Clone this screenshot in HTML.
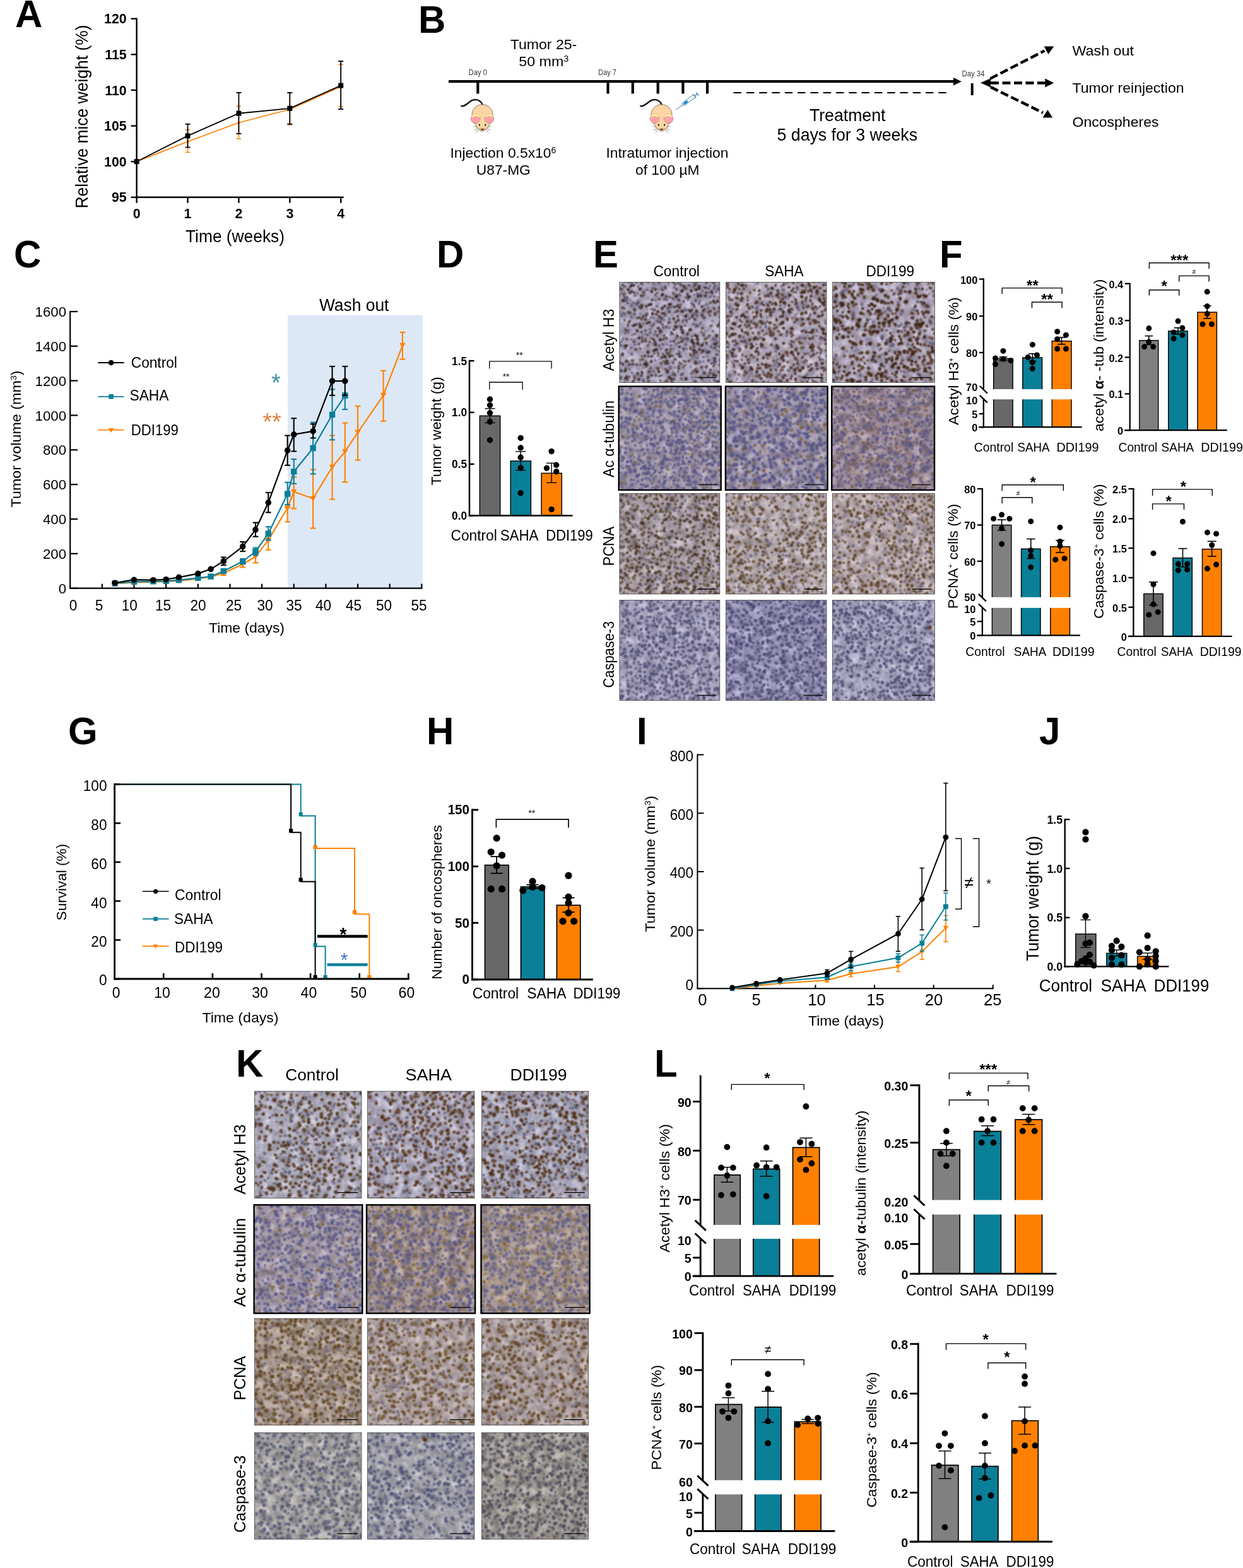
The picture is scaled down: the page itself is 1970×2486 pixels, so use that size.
<!DOCTYPE html>
<html><head><meta charset="utf-8"><title>Figure</title>
<style>
html,body{margin:0;padding:0;background:#fff;}
body{width:1970px;height:2486px;overflow:hidden;font-family:'Liberation Sans', sans-serif;}
svg{display:block;}
svg text{font-family:"Liberation Sans", sans-serif;white-space:pre;}
</style></head><body>
<svg width="1970" height="2486" viewBox="0 0 1970 2486">
<rect width="1970" height="2486" fill="#fff"/>
<text x="24" y="43" font-size="61.8" font-weight="bold" textLength="43.33" lengthAdjust="spacingAndGlyphs">A</text>
<text x="663" y="52" font-size="61.8" font-weight="bold" textLength="43.33" lengthAdjust="spacingAndGlyphs">B</text>
<text x="22" y="424" font-size="61.8" font-weight="bold" textLength="43.33" lengthAdjust="spacingAndGlyphs">C</text>
<text x="692" y="424" font-size="61.8" font-weight="bold" textLength="43.33" lengthAdjust="spacingAndGlyphs">D</text>
<text x="940" y="424" font-size="61.8" font-weight="bold" textLength="40.02" lengthAdjust="spacingAndGlyphs">E</text>
<text x="1489" y="424" font-size="61.8" font-weight="bold" textLength="36.65" lengthAdjust="spacingAndGlyphs">F</text>
<text x="108" y="1179.5" font-size="61.8" font-weight="bold" textLength="46.67" lengthAdjust="spacingAndGlyphs">G</text>
<text x="676" y="1180" font-size="61.8" font-weight="bold" textLength="43.33" lengthAdjust="spacingAndGlyphs">H</text>
<text x="1009" y="1179.5" font-size="61.8" font-weight="bold" textLength="16.67" lengthAdjust="spacingAndGlyphs">I</text>
<text x="1647" y="1179.5" font-size="61.8" font-weight="bold" textLength="33.37" lengthAdjust="spacingAndGlyphs">J</text>
<text x="374" y="1707" font-size="61.8" font-weight="bold" textLength="43.33" lengthAdjust="spacingAndGlyphs">K</text>
<text x="1037" y="1706.5" font-size="61.8" font-weight="bold" textLength="36.65" lengthAdjust="spacingAndGlyphs">L</text>
<line x1="297.5" y1="241.46" x2="297.5" y2="205.79" stroke="#FF8000" stroke-width="1.5" stroke-linecap="butt"/>
<line x1="293.7" y1="241.46" x2="301.3" y2="241.46" stroke="#FF8000" stroke-width="1.5" stroke-linecap="butt"/>
<line x1="293.7" y1="205.79" x2="301.3" y2="205.79" stroke="#FF8000" stroke-width="1.5" stroke-linecap="butt"/>
<line x1="378.4" y1="219.94" x2="378.4" y2="168.42" stroke="#FF8000" stroke-width="1.5" stroke-linecap="butt"/>
<line x1="374.6" y1="219.94" x2="382.2" y2="219.94" stroke="#FF8000" stroke-width="1.5" stroke-linecap="butt"/>
<line x1="374.6" y1="168.42" x2="382.2" y2="168.42" stroke="#FF8000" stroke-width="1.5" stroke-linecap="butt"/>
<line x1="459.3" y1="197.86" x2="459.3" y2="147.47" stroke="#FF8000" stroke-width="1.5" stroke-linecap="butt"/>
<line x1="455.5" y1="197.86" x2="463.1" y2="197.86" stroke="#FF8000" stroke-width="1.5" stroke-linecap="butt"/>
<line x1="455.5" y1="147.47" x2="463.1" y2="147.47" stroke="#FF8000" stroke-width="1.5" stroke-linecap="butt"/>
<line x1="540.2" y1="168.99" x2="540.2" y2="102.17" stroke="#FF8000" stroke-width="1.5" stroke-linecap="butt"/>
<line x1="536.4" y1="168.99" x2="544" y2="168.99" stroke="#FF8000" stroke-width="1.5" stroke-linecap="butt"/>
<line x1="536.4" y1="102.17" x2="544" y2="102.17" stroke="#FF8000" stroke-width="1.5" stroke-linecap="butt"/>
<polyline points="216.6,256.18 297.5,224.47 378.4,194.46 459.3,173.51 540.2,137.28" fill="none" stroke="#FF8000" stroke-width="1.7" stroke-linejoin="miter" stroke-linecap="butt"/>
<circle cx="216.6" cy="256.18" r="2.2" fill="#FF8000"/>
<circle cx="297.5" cy="224.47" r="2.2" fill="#FF8000"/>
<circle cx="378.4" cy="194.46" r="2.2" fill="#FF8000"/>
<circle cx="459.3" cy="173.51" r="2.2" fill="#FF8000"/>
<circle cx="540.2" cy="137.28" r="2.2" fill="#FF8000"/>
<line x1="297.5" y1="233.53" x2="297.5" y2="196.73" stroke="#000" stroke-width="1.8" stroke-linecap="butt"/>
<line x1="293.5" y1="233.53" x2="301.5" y2="233.53" stroke="#000" stroke-width="1.8" stroke-linecap="butt"/>
<line x1="293.5" y1="196.73" x2="301.5" y2="196.73" stroke="#000" stroke-width="1.8" stroke-linecap="butt"/>
<line x1="378.4" y1="212.02" x2="378.4" y2="146.9" stroke="#000" stroke-width="1.8" stroke-linecap="butt"/>
<line x1="374.4" y1="212.02" x2="382.4" y2="212.02" stroke="#000" stroke-width="1.8" stroke-linecap="butt"/>
<line x1="374.4" y1="146.9" x2="382.4" y2="146.9" stroke="#000" stroke-width="1.8" stroke-linecap="butt"/>
<line x1="459.3" y1="196.73" x2="459.3" y2="146.9" stroke="#000" stroke-width="1.8" stroke-linecap="butt"/>
<line x1="455.3" y1="196.73" x2="463.3" y2="196.73" stroke="#000" stroke-width="1.8" stroke-linecap="butt"/>
<line x1="455.3" y1="146.9" x2="463.3" y2="146.9" stroke="#000" stroke-width="1.8" stroke-linecap="butt"/>
<line x1="540.2" y1="172.95" x2="540.2" y2="97.08" stroke="#000" stroke-width="1.8" stroke-linecap="butt"/>
<line x1="536.2" y1="172.95" x2="544.2" y2="172.95" stroke="#000" stroke-width="1.8" stroke-linecap="butt"/>
<line x1="536.2" y1="97.08" x2="544.2" y2="97.08" stroke="#000" stroke-width="1.8" stroke-linecap="butt"/>
<polyline points="216.6,256.18 297.5,215.41 378.4,179.74 459.3,171.82 540.2,135.58" fill="none" stroke="#000" stroke-width="1.8" stroke-linejoin="miter" stroke-linecap="butt"/>
<rect x="212.6" y="252.18" width="8" height="8" fill="#000"/>
<rect x="293.5" y="211.41" width="8" height="8" fill="#000"/>
<rect x="374.4" y="175.74" width="8" height="8" fill="#000"/>
<rect x="455.3" y="167.82" width="8" height="8" fill="#000"/>
<rect x="536.2" y="131.58" width="8" height="8" fill="#000"/>
<line x1="216.6" y1="28.5" x2="216.6" y2="314" stroke="#000" stroke-width="2.4" stroke-linecap="butt"/>
<line x1="215.4" y1="312.8" x2="544.7" y2="312.8" stroke="#000" stroke-width="2.4" stroke-linecap="butt"/>
<line x1="207.6" y1="312.8" x2="216.6" y2="312.8" stroke="#000" stroke-width="2.4" stroke-linecap="butt"/>
<text x="200.6" y="320.4" font-size="21.94" text-anchor="end" font-weight="bold" textLength="23.69" lengthAdjust="spacingAndGlyphs">95</text>
<line x1="207.6" y1="256.18" x2="216.6" y2="256.18" stroke="#000" stroke-width="2.4" stroke-linecap="butt"/>
<text x="200.6" y="263.78" font-size="21.94" text-anchor="end" font-weight="bold" textLength="35.54" lengthAdjust="spacingAndGlyphs">100</text>
<line x1="207.6" y1="199.56" x2="216.6" y2="199.56" stroke="#000" stroke-width="2.4" stroke-linecap="butt"/>
<text x="200.6" y="207.16" font-size="21.94" text-anchor="end" font-weight="bold" textLength="35.54" lengthAdjust="spacingAndGlyphs">105</text>
<line x1="207.6" y1="142.94" x2="216.6" y2="142.94" stroke="#000" stroke-width="2.4" stroke-linecap="butt"/>
<text x="200.6" y="150.54" font-size="21.94" text-anchor="end" font-weight="bold" textLength="34.36" lengthAdjust="spacingAndGlyphs">110</text>
<line x1="207.6" y1="86.32" x2="216.6" y2="86.32" stroke="#000" stroke-width="2.4" stroke-linecap="butt"/>
<text x="200.6" y="93.92" font-size="21.94" text-anchor="end" font-weight="bold" textLength="34.36" lengthAdjust="spacingAndGlyphs">115</text>
<line x1="207.6" y1="29.7" x2="216.6" y2="29.7" stroke="#000" stroke-width="2.4" stroke-linecap="butt"/>
<text x="200.6" y="37.3" font-size="21.94" text-anchor="end" font-weight="bold" textLength="35.54" lengthAdjust="spacingAndGlyphs">120</text>
<line x1="216.6" y1="312.8" x2="216.6" y2="321.8" stroke="#000" stroke-width="2.4" stroke-linecap="butt"/>
<text x="216.6" y="345.5" font-size="21.94" text-anchor="middle" font-weight="bold" textLength="11.85" lengthAdjust="spacingAndGlyphs">0</text>
<line x1="297.5" y1="312.8" x2="297.5" y2="321.8" stroke="#000" stroke-width="2.4" stroke-linecap="butt"/>
<text x="297.5" y="345.5" font-size="21.94" text-anchor="middle" font-weight="bold" textLength="11.85" lengthAdjust="spacingAndGlyphs">1</text>
<line x1="378.4" y1="312.8" x2="378.4" y2="321.8" stroke="#000" stroke-width="2.4" stroke-linecap="butt"/>
<text x="378.4" y="345.5" font-size="21.94" text-anchor="middle" font-weight="bold" textLength="11.85" lengthAdjust="spacingAndGlyphs">2</text>
<line x1="459.3" y1="312.8" x2="459.3" y2="321.8" stroke="#000" stroke-width="2.4" stroke-linecap="butt"/>
<text x="459.3" y="345.5" font-size="21.94" text-anchor="middle" font-weight="bold" textLength="11.85" lengthAdjust="spacingAndGlyphs">3</text>
<line x1="540.2" y1="312.8" x2="540.2" y2="321.8" stroke="#000" stroke-width="2.4" stroke-linecap="butt"/>
<text x="540.2" y="345.5" font-size="21.94" text-anchor="middle" font-weight="bold" textLength="11.85" lengthAdjust="spacingAndGlyphs">4</text>
<text x="139.3" y="185" font-size="27.09" text-anchor="middle" transform="rotate(-90 139.3 185)" textLength="291" lengthAdjust="spacingAndGlyphs">Relative mice weight (%)</text>
<text x="372.5" y="384" font-size="27.09" text-anchor="middle" textLength="157" lengthAdjust="spacingAndGlyphs">Time (weeks)</text>
<line x1="711" y1="129.2" x2="1512" y2="129.2" stroke="#000" stroke-width="4.3" stroke-linecap="butt"/>
<polygon points="1524,129.2 1511,123 1511,135.4" fill="#000" stroke="none" stroke-width="0" stroke-linejoin="miter" stroke-linecap="butt"/>
<line x1="757.3" y1="129.2" x2="757.3" y2="148.5" stroke="#000" stroke-width="4.2" stroke-linecap="butt"/>
<line x1="963.5" y1="129.2" x2="963.5" y2="148.5" stroke="#000" stroke-width="4.2" stroke-linecap="butt"/>
<line x1="1002.8" y1="129.2" x2="1002.8" y2="148.5" stroke="#000" stroke-width="4.2" stroke-linecap="butt"/>
<line x1="1042.7" y1="129.2" x2="1042.7" y2="148.5" stroke="#000" stroke-width="4.2" stroke-linecap="butt"/>
<line x1="1082.4" y1="129.2" x2="1082.4" y2="148.5" stroke="#000" stroke-width="4.2" stroke-linecap="butt"/>
<line x1="1121" y1="129.2" x2="1121" y2="148.5" stroke="#000" stroke-width="4.2" stroke-linecap="butt"/>
<line x1="1540.7" y1="132" x2="1540.7" y2="151" stroke="#000" stroke-width="4" stroke-linecap="butt"/>
<line x1="1162.5" y1="147" x2="1500" y2="147" stroke="#000" stroke-width="2.2" stroke-linecap="butt" stroke-dasharray="12.5 7.8"/>
<text x="757.3" y="119.3" font-size="11.85" text-anchor="middle" fill="#383838" textLength="29.5" lengthAdjust="spacingAndGlyphs">Day 0</text>
<text x="962.5" y="119.3" font-size="11.85" text-anchor="middle" fill="#383838" textLength="28.5" lengthAdjust="spacingAndGlyphs">Day 7</text>
<text x="1542.5" y="121.3" font-size="11.85" text-anchor="middle" fill="#383838" textLength="36" lengthAdjust="spacingAndGlyphs">Day 34</text>
<text x="861.5" y="77.8" font-size="22.66" text-anchor="middle" textLength="105.5" lengthAdjust="spacingAndGlyphs">Tumor 25-</text>
<text x="822.3" y="104.8" font-size="22.66" textLength="79" lengthAdjust="spacingAndGlyphs">50 mm<tspan font-size="14" dy="-0.5em">3</tspan></text>
<text x="713.4" y="250" font-size="22.66" textLength="168" lengthAdjust="spacingAndGlyphs">Injection 0.5x10<tspan font-size="14" dy="-0.5em">6</tspan></text>
<text x="797.8" y="277" font-size="22.66" text-anchor="middle" textLength="86" lengthAdjust="spacingAndGlyphs">U87-MG</text>
<text x="1057.5" y="250" font-size="22.66" text-anchor="middle" textLength="194" lengthAdjust="spacingAndGlyphs">Intratumor injection</text>
<text x="1057.8" y="277.3" font-size="22.66" text-anchor="middle" textLength="101.5" lengthAdjust="spacingAndGlyphs">of 100 µM</text>
<text x="1343.2" y="191.5" font-size="27.81" text-anchor="middle" textLength="120.5" lengthAdjust="spacingAndGlyphs">Treatment</text>
<text x="1342.8" y="222.5" font-size="27.81" text-anchor="middle" textLength="222.5" lengthAdjust="spacingAndGlyphs">5 days for 3 weeks</text>
<text x="1699.5" y="87.8" font-size="22.66" textLength="97.5" lengthAdjust="spacingAndGlyphs">Wash out</text>
<text x="1699.5" y="146.8" font-size="22.66" textLength="177" lengthAdjust="spacingAndGlyphs">Tumor reinjection</text>
<text x="1699.5" y="201.2" font-size="22.66" textLength="137" lengthAdjust="spacingAndGlyphs">Oncospheres</text>
<g transform="translate(764.5 182.4)">
<path d="M0.2,-16.5 C-3,-24 -12,-27.5 -20,-21 C-25,-17 -29,-13.5 -33.2,-14.3" fill="none" stroke="#1a1a1a" stroke-width="2.5" stroke-linecap="round"/>
<line x1="-7" y1="20" x2="-14" y2="17.5" stroke="#777" stroke-width="0.8"/>
<line x1="-7.5" y1="21.5" x2="-13" y2="24" stroke="#777" stroke-width="0.8"/>
<line x1="-6.5" y1="23" x2="-9.5" y2="28" stroke="#777" stroke-width="0.8"/>
<line x1="7" y1="20" x2="14" y2="17.5" stroke="#777" stroke-width="0.8"/>
<line x1="7.5" y1="21.5" x2="13" y2="24" stroke="#777" stroke-width="0.8"/>
<line x1="6.5" y1="23" x2="9.5" y2="28" stroke="#777" stroke-width="0.8"/>
<path d="M0,-16.6 C10,-16.6 16.6,-9 16.6,0 C16.6,6 14,11 11.5,14.5 C9,19 5,25.6 0,25.6 C-5,25.6 -9,19 -11.5,14.5 C-14,11 -16.6,6 -16.6,0 C-16.6,-9 -10,-16.6 0,-16.6 Z" fill="#FCD5A5" stroke="#5a4632" stroke-width="0.7"/>
<path d="M-5.5,20.5 C-3,25.6 3,25.6 5.5,20.5 C3,22 -3,22 -5.5,20.5 Z" fill="#b98d5a"/>
<g transform="scale(-1 1)">
<ellipse cx="10.9" cy="5.8" rx="7.4" ry="7.2" fill="#FFA3AA" stroke="#8a5a5a" stroke-width="0.6"/>
<path d="M3.7,4.2 A7.4,7.2 0 0 1 18.1,4.2 C14.5,0.8 8,0.8 3.7,4.2 Z" fill="#FFF59A"/>
<path d="M11.4,13.2 C6,13.2 3,9.5 3.2,5 C4,10.5 7.5,13 11.4,13.2Z" fill="#FCD5A5"/>
<ellipse cx="4.6" cy="15.7" rx="1.05" ry="1.5" fill="#000"/>
</g>
<g transform="scale(1 1)">
<ellipse cx="10.9" cy="5.8" rx="7.4" ry="7.2" fill="#FFA3AA" stroke="#8a5a5a" stroke-width="0.6"/>
<path d="M3.7,4.2 A7.4,7.2 0 0 1 18.1,4.2 C14.5,0.8 8,0.8 3.7,4.2 Z" fill="#FFF59A"/>
<path d="M11.4,13.2 C6,13.2 3,9.5 3.2,5 C4,10.5 7.5,13 11.4,13.2Z" fill="#FCD5A5"/>
<ellipse cx="4.6" cy="15.7" rx="1.05" ry="1.5" fill="#000"/>
</g>
<ellipse cx="0" cy="22.6" rx="1.5" ry="1.1" fill="#000"/>
</g>
<g transform="translate(1048.5 182.4)">
<path d="M0.2,-16.5 C-3,-24 -12,-27.5 -20,-21 C-25,-17 -29,-13.5 -33.2,-14.3" fill="none" stroke="#1a1a1a" stroke-width="2.5" stroke-linecap="round"/>
<line x1="-7" y1="20" x2="-14" y2="17.5" stroke="#777" stroke-width="0.8"/>
<line x1="-7.5" y1="21.5" x2="-13" y2="24" stroke="#777" stroke-width="0.8"/>
<line x1="-6.5" y1="23" x2="-9.5" y2="28" stroke="#777" stroke-width="0.8"/>
<line x1="7" y1="20" x2="14" y2="17.5" stroke="#777" stroke-width="0.8"/>
<line x1="7.5" y1="21.5" x2="13" y2="24" stroke="#777" stroke-width="0.8"/>
<line x1="6.5" y1="23" x2="9.5" y2="28" stroke="#777" stroke-width="0.8"/>
<path d="M0,-16.6 C10,-16.6 16.6,-9 16.6,0 C16.6,6 14,11 11.5,14.5 C9,19 5,25.6 0,25.6 C-5,25.6 -9,19 -11.5,14.5 C-14,11 -16.6,6 -16.6,0 C-16.6,-9 -10,-16.6 0,-16.6 Z" fill="#FCD5A5" stroke="#5a4632" stroke-width="0.7"/>
<path d="M-5.5,20.5 C-3,25.6 3,25.6 5.5,20.5 C3,22 -3,22 -5.5,20.5 Z" fill="#b98d5a"/>
<g transform="scale(-1 1)">
<ellipse cx="10.9" cy="5.8" rx="7.4" ry="7.2" fill="#FFA3AA" stroke="#8a5a5a" stroke-width="0.6"/>
<path d="M3.7,4.2 A7.4,7.2 0 0 1 18.1,4.2 C14.5,0.8 8,0.8 3.7,4.2 Z" fill="#FFF59A"/>
<path d="M11.4,13.2 C6,13.2 3,9.5 3.2,5 C4,10.5 7.5,13 11.4,13.2Z" fill="#FCD5A5"/>
<ellipse cx="4.6" cy="15.7" rx="1.05" ry="1.5" fill="#000"/>
</g>
<g transform="scale(1 1)">
<ellipse cx="10.9" cy="5.8" rx="7.4" ry="7.2" fill="#FFA3AA" stroke="#8a5a5a" stroke-width="0.6"/>
<path d="M3.7,4.2 A7.4,7.2 0 0 1 18.1,4.2 C14.5,0.8 8,0.8 3.7,4.2 Z" fill="#FFF59A"/>
<path d="M11.4,13.2 C6,13.2 3,9.5 3.2,5 C4,10.5 7.5,13 11.4,13.2Z" fill="#FCD5A5"/>
<ellipse cx="4.6" cy="15.7" rx="1.05" ry="1.5" fill="#000"/>
</g>
<ellipse cx="0" cy="22.6" rx="1.5" ry="1.1" fill="#000"/>
</g>
<g transform="translate(1071 174.2) rotate(-36.5)">
<line x1="0" y1="0" x2="12" y2="0" stroke="#3f7ca8" stroke-width="0.9"/>
<rect x="11" y="-1.2" width="3" height="2.4" fill="#fff" stroke="#3f7ca8" stroke-width="0.7"/>
<rect x="14" y="-2.7" width="23" height="5.4" rx="1" fill="#fff" stroke="#3f7ca8" stroke-width="0.9"/>
<rect x="15.5" y="-1.8" width="8" height="3.6" rx="1.6" fill="#1e86d2"/>
<line x1="37" y1="-4.2" x2="37" y2="4.2" stroke="#3f7ca8" stroke-width="1.2"/>
<line x1="37" y1="0" x2="42.5" y2="0" stroke="#3f7ca8" stroke-width="1.3"/>
<line x1="42.5" y1="-3.2" x2="42.5" y2="3.2" stroke="#3f7ca8" stroke-width="1.3"/>
<line x1="26" y1="-0.2" x2="26" y2="2.2" stroke="#7fa6c4" stroke-width="0.5"/>
<line x1="28" y1="-0.2" x2="28" y2="2.2" stroke="#7fa6c4" stroke-width="0.5"/>
<line x1="30" y1="-0.2" x2="30" y2="2.2" stroke="#7fa6c4" stroke-width="0.5"/>
<line x1="32" y1="-0.2" x2="32" y2="2.2" stroke="#7fa6c4" stroke-width="0.5"/>
<line x1="34" y1="-0.2" x2="34" y2="2.2" stroke="#7fa6c4" stroke-width="0.5"/>
</g>
<line x1="1569.5" y1="124.6" x2="1655.5" y2="80.4" stroke="#000" stroke-width="4.4" stroke-linecap="butt" stroke-dasharray="13 5"/>
<line x1="1570" y1="131.5" x2="1657" y2="131.5" stroke="#000" stroke-width="4.4" stroke-linecap="butt" stroke-dasharray="13 5.5"/>
<line x1="1570" y1="138" x2="1653" y2="178.8" stroke="#000" stroke-width="4.4" stroke-linecap="butt" stroke-dasharray="13 5"/>
<polygon points="1654.7,73.4 1670.3,73.4 1661.5,86" fill="#000" stroke="none" stroke-width="0" stroke-linejoin="miter" stroke-linecap="butt"/>
<polygon points="1652.6,186.5 1668.1,186.5 1660.3,174" fill="#000" stroke="none" stroke-width="0" stroke-linejoin="miter" stroke-linecap="butt"/>
<polygon points="1656.3,124.6 1656.3,138.5 1670.2,131.5" fill="#000" stroke="none" stroke-width="0" stroke-linejoin="miter" stroke-linecap="butt"/>
<polygon points="1554,131.2 1570,124.2 1570,138.4" fill="#000" stroke="none" stroke-width="0" stroke-linejoin="miter" stroke-linecap="butt"/>
<rect x="456.1" y="499.5" width="213.8" height="433" fill="#DDE8F6"/>
<text x="561.2" y="492.7" font-size="26.78" text-anchor="middle" textLength="110.5" lengthAdjust="spacingAndGlyphs">Wash out</text>
<line x1="111.2" y1="493" x2="111.2" y2="933.6" stroke="#000" stroke-width="2.2" stroke-linecap="butt"/>
<line x1="110.2" y1="932.6" x2="669.35" y2="932.6" stroke="#000" stroke-width="2.2" stroke-linecap="butt"/>
<text x="105" y="940.8" font-size="22.87" text-anchor="end" textLength="12.35" lengthAdjust="spacingAndGlyphs">0</text>
<line x1="111.2" y1="877.77" x2="123.2" y2="877.77" stroke="#000" stroke-width="2.2" stroke-linecap="butt"/>
<text x="105" y="885.97" font-size="22.87" text-anchor="end" textLength="37.04" lengthAdjust="spacingAndGlyphs">200</text>
<line x1="111.2" y1="822.94" x2="123.2" y2="822.94" stroke="#000" stroke-width="2.2" stroke-linecap="butt"/>
<text x="105" y="831.14" font-size="22.87" text-anchor="end" textLength="37.04" lengthAdjust="spacingAndGlyphs">400</text>
<line x1="111.2" y1="768.11" x2="123.2" y2="768.11" stroke="#000" stroke-width="2.2" stroke-linecap="butt"/>
<text x="105" y="776.31" font-size="22.87" text-anchor="end" textLength="37.04" lengthAdjust="spacingAndGlyphs">600</text>
<line x1="111.2" y1="713.28" x2="123.2" y2="713.28" stroke="#000" stroke-width="2.2" stroke-linecap="butt"/>
<text x="105" y="721.48" font-size="22.87" text-anchor="end" textLength="37.04" lengthAdjust="spacingAndGlyphs">800</text>
<line x1="111.2" y1="658.45" x2="123.2" y2="658.45" stroke="#000" stroke-width="2.2" stroke-linecap="butt"/>
<text x="105" y="666.65" font-size="22.87" text-anchor="end" textLength="49.39" lengthAdjust="spacingAndGlyphs">1000</text>
<line x1="111.2" y1="603.62" x2="123.2" y2="603.62" stroke="#000" stroke-width="2.2" stroke-linecap="butt"/>
<text x="105" y="611.82" font-size="22.87" text-anchor="end" textLength="49.39" lengthAdjust="spacingAndGlyphs">1200</text>
<line x1="111.2" y1="548.79" x2="123.2" y2="548.79" stroke="#000" stroke-width="2.2" stroke-linecap="butt"/>
<text x="105" y="556.99" font-size="22.87" text-anchor="end" textLength="49.39" lengthAdjust="spacingAndGlyphs">1400</text>
<line x1="111.2" y1="493.96" x2="123.2" y2="493.96" stroke="#000" stroke-width="2.2" stroke-linecap="butt"/>
<text x="105" y="502.16" font-size="22.87" text-anchor="end" textLength="49.39" lengthAdjust="spacingAndGlyphs">1600</text>
<line x1="111.2" y1="932.6" x2="123.2" y2="932.6" stroke="#000" stroke-width="2.2" stroke-linecap="butt"/>
<line x1="161.85" y1="932.6" x2="161.85" y2="925.6" stroke="#000" stroke-width="2.2" stroke-linecap="butt"/>
<line x1="212.5" y1="932.6" x2="212.5" y2="925.6" stroke="#000" stroke-width="2.2" stroke-linecap="butt"/>
<line x1="263.15" y1="932.6" x2="263.15" y2="925.6" stroke="#000" stroke-width="2.2" stroke-linecap="butt"/>
<line x1="313.8" y1="932.6" x2="313.8" y2="925.6" stroke="#000" stroke-width="2.2" stroke-linecap="butt"/>
<line x1="364.45" y1="932.6" x2="364.45" y2="925.6" stroke="#000" stroke-width="2.2" stroke-linecap="butt"/>
<line x1="415.1" y1="932.6" x2="415.1" y2="925.6" stroke="#000" stroke-width="2.2" stroke-linecap="butt"/>
<line x1="465.75" y1="932.6" x2="465.75" y2="925.6" stroke="#000" stroke-width="2.2" stroke-linecap="butt"/>
<line x1="516.4" y1="932.6" x2="516.4" y2="925.6" stroke="#000" stroke-width="2.2" stroke-linecap="butt"/>
<line x1="567.05" y1="932.6" x2="567.05" y2="925.6" stroke="#000" stroke-width="2.2" stroke-linecap="butt"/>
<line x1="617.7" y1="932.6" x2="617.7" y2="925.6" stroke="#000" stroke-width="2.2" stroke-linecap="butt"/>
<line x1="668.35" y1="932.6" x2="668.35" y2="925.6" stroke="#000" stroke-width="2.2" stroke-linecap="butt"/>
<text x="116" y="968" font-size="23.28" text-anchor="middle" textLength="12.57" lengthAdjust="spacingAndGlyphs">0</text>
<text x="157" y="968" font-size="23.28" text-anchor="middle" textLength="12.57" lengthAdjust="spacingAndGlyphs">5</text>
<text x="205.3" y="968" font-size="23.28" text-anchor="middle" textLength="25.14" lengthAdjust="spacingAndGlyphs">10</text>
<text x="258.5" y="968" font-size="23.28" text-anchor="middle" textLength="25.14" lengthAdjust="spacingAndGlyphs">15</text>
<text x="314" y="968" font-size="23.28" text-anchor="middle" textLength="25.14" lengthAdjust="spacingAndGlyphs">20</text>
<text x="370.5" y="968" font-size="23.28" text-anchor="middle" textLength="25.14" lengthAdjust="spacingAndGlyphs">25</text>
<text x="420" y="968" font-size="23.28" text-anchor="middle" textLength="25.14" lengthAdjust="spacingAndGlyphs">30</text>
<text x="466" y="968" font-size="23.28" text-anchor="middle" textLength="25.14" lengthAdjust="spacingAndGlyphs">35</text>
<text x="512.5" y="968" font-size="23.28" text-anchor="middle" textLength="25.14" lengthAdjust="spacingAndGlyphs">40</text>
<text x="560.5" y="968" font-size="23.28" text-anchor="middle" textLength="25.14" lengthAdjust="spacingAndGlyphs">45</text>
<text x="608.5" y="968" font-size="23.28" text-anchor="middle" textLength="25.14" lengthAdjust="spacingAndGlyphs">50</text>
<text x="664" y="968" font-size="23.28" text-anchor="middle" textLength="25.14" lengthAdjust="spacingAndGlyphs">55</text>
<text x="33" y="696" font-size="22.66" text-anchor="middle" transform="rotate(-90 33 696)" textLength="217" lengthAdjust="spacingAndGlyphs">Tumor volume (mm<tspan font-size="13.5" dy="-7">3</tspan><tspan dy="7">)</tspan></text>
<text x="391" y="1003" font-size="22.66" text-anchor="middle" textLength="120" lengthAdjust="spacingAndGlyphs">Time (days)</text>
<line x1="155.3" y1="575" x2="196.6" y2="575" stroke="#000" stroke-width="1.8" stroke-linecap="butt"/>
<circle cx="176.1" cy="575" r="4.3" fill="#000"/>
<text x="207.8" y="582.9" font-size="23.28" textLength="73" lengthAdjust="spacingAndGlyphs">Control</text>
<line x1="155.3" y1="628.8" x2="196.6" y2="628.8" stroke="#0C7F99" stroke-width="1.8" stroke-linecap="butt"/>
<rect x="172.3" y="625" width="7.6" height="7.6" fill="#0C7F99"/>
<text x="205.5" y="635.3" font-size="23.28" textLength="62" lengthAdjust="spacingAndGlyphs">SAHA</text>
<line x1="155.3" y1="681.6" x2="196.6" y2="681.6" stroke="#FF8000" stroke-width="1.8" stroke-linecap="butt"/>
<polygon points="171.8,678.66 180.4,678.66 176.1,685.97" fill="#FF8000"/>
<text x="207.8" y="689.9" font-size="23.28" textLength="75" lengthAdjust="spacingAndGlyphs">DDI199</text>
<line x1="354.32" y1="905.5" x2="354.32" y2="912" stroke="#FF8000" stroke-width="2.1" stroke-linecap="butt"/>
<line x1="349.92" y1="905.5" x2="358.72" y2="905.5" stroke="#FF8000" stroke-width="2.1" stroke-linecap="butt"/>
<line x1="349.92" y1="912" x2="358.72" y2="912" stroke="#FF8000" stroke-width="2.1" stroke-linecap="butt"/>
<line x1="384.71" y1="889" x2="384.71" y2="899.5" stroke="#FF8000" stroke-width="2.1" stroke-linecap="butt"/>
<line x1="380.31" y1="889" x2="389.11" y2="889" stroke="#FF8000" stroke-width="2.1" stroke-linecap="butt"/>
<line x1="380.31" y1="899.5" x2="389.11" y2="899.5" stroke="#FF8000" stroke-width="2.1" stroke-linecap="butt"/>
<line x1="404.97" y1="873.4" x2="404.97" y2="892.3" stroke="#FF8000" stroke-width="2.1" stroke-linecap="butt"/>
<line x1="400.57" y1="873.4" x2="409.37" y2="873.4" stroke="#FF8000" stroke-width="2.1" stroke-linecap="butt"/>
<line x1="400.57" y1="892.3" x2="409.37" y2="892.3" stroke="#FF8000" stroke-width="2.1" stroke-linecap="butt"/>
<line x1="425.23" y1="856.4" x2="425.23" y2="871.8" stroke="#FF8000" stroke-width="2.1" stroke-linecap="butt"/>
<line x1="420.83" y1="856.4" x2="429.63" y2="856.4" stroke="#FF8000" stroke-width="2.1" stroke-linecap="butt"/>
<line x1="420.83" y1="871.8" x2="429.63" y2="871.8" stroke="#FF8000" stroke-width="2.1" stroke-linecap="butt"/>
<line x1="455.62" y1="805" x2="455.62" y2="827.3" stroke="#FF8000" stroke-width="2.1" stroke-linecap="butt"/>
<line x1="451.22" y1="805" x2="460.02" y2="805" stroke="#FF8000" stroke-width="2.1" stroke-linecap="butt"/>
<line x1="451.22" y1="827.3" x2="460.02" y2="827.3" stroke="#FF8000" stroke-width="2.1" stroke-linecap="butt"/>
<line x1="465.75" y1="756.4" x2="465.75" y2="806.4" stroke="#FF8000" stroke-width="2.1" stroke-linecap="butt"/>
<line x1="461.35" y1="756.4" x2="470.15" y2="756.4" stroke="#FF8000" stroke-width="2.1" stroke-linecap="butt"/>
<line x1="461.35" y1="806.4" x2="470.15" y2="806.4" stroke="#FF8000" stroke-width="2.1" stroke-linecap="butt"/>
<line x1="496.14" y1="744.5" x2="496.14" y2="837.5" stroke="#FF8000" stroke-width="2.1" stroke-linecap="butt"/>
<line x1="491.74" y1="744.5" x2="500.54" y2="744.5" stroke="#FF8000" stroke-width="2.1" stroke-linecap="butt"/>
<line x1="491.74" y1="837.5" x2="500.54" y2="837.5" stroke="#FF8000" stroke-width="2.1" stroke-linecap="butt"/>
<line x1="526.53" y1="690.5" x2="526.53" y2="791.6" stroke="#FF8000" stroke-width="2.1" stroke-linecap="butt"/>
<line x1="522.13" y1="690.5" x2="530.93" y2="690.5" stroke="#FF8000" stroke-width="2.1" stroke-linecap="butt"/>
<line x1="522.13" y1="791.6" x2="530.93" y2="791.6" stroke="#FF8000" stroke-width="2.1" stroke-linecap="butt"/>
<line x1="546.79" y1="670.5" x2="546.79" y2="764.3" stroke="#FF8000" stroke-width="2.1" stroke-linecap="butt"/>
<line x1="542.39" y1="670.5" x2="551.19" y2="670.5" stroke="#FF8000" stroke-width="2.1" stroke-linecap="butt"/>
<line x1="542.39" y1="764.3" x2="551.19" y2="764.3" stroke="#FF8000" stroke-width="2.1" stroke-linecap="butt"/>
<line x1="567.05" y1="643.9" x2="567.05" y2="729.5" stroke="#FF8000" stroke-width="2.1" stroke-linecap="butt"/>
<line x1="562.65" y1="643.9" x2="571.45" y2="643.9" stroke="#FF8000" stroke-width="2.1" stroke-linecap="butt"/>
<line x1="562.65" y1="729.5" x2="571.45" y2="729.5" stroke="#FF8000" stroke-width="2.1" stroke-linecap="butt"/>
<line x1="607.57" y1="587.7" x2="607.57" y2="667.7" stroke="#FF8000" stroke-width="2.1" stroke-linecap="butt"/>
<line x1="603.17" y1="587.7" x2="611.97" y2="587.7" stroke="#FF8000" stroke-width="2.1" stroke-linecap="butt"/>
<line x1="603.17" y1="667.7" x2="611.97" y2="667.7" stroke="#FF8000" stroke-width="2.1" stroke-linecap="butt"/>
<line x1="637.96" y1="526.8" x2="637.96" y2="569.5" stroke="#FF8000" stroke-width="2.1" stroke-linecap="butt"/>
<line x1="633.56" y1="526.8" x2="642.36" y2="526.8" stroke="#FF8000" stroke-width="2.1" stroke-linecap="butt"/>
<line x1="633.56" y1="569.5" x2="642.36" y2="569.5" stroke="#FF8000" stroke-width="2.1" stroke-linecap="butt"/>
<polyline points="182.11,925.5 212.5,923.3 242.89,922.6 263.15,922 283.41,921 313.8,917.7 334.06,914.5 354.32,908.8 384.71,894.5 404.97,882.5 425.23,856.4 455.62,805.2 465.75,779.5 496.14,790.5 526.53,740.5 546.79,716.1 567.05,685.5 607.57,626.8 637.96,547.7" fill="none" stroke="#FF8000" stroke-width="2.2" stroke-linejoin="round" stroke-linecap="butt"/>
<polygon points="177.31,921.66 186.91,921.66 182.11,929.82" fill="#FF8000"/>
<polygon points="207.7,919.46 217.3,919.46 212.5,927.62" fill="#FF8000"/>
<polygon points="238.09,918.76 247.69,918.76 242.89,926.92" fill="#FF8000"/>
<polygon points="258.35,918.16 267.95,918.16 263.15,926.32" fill="#FF8000"/>
<polygon points="278.61,917.16 288.21,917.16 283.41,925.32" fill="#FF8000"/>
<polygon points="309,913.86 318.6,913.86 313.8,922.02" fill="#FF8000"/>
<polygon points="329.26,910.66 338.86,910.66 334.06,918.82" fill="#FF8000"/>
<polygon points="349.52,904.96 359.12,904.96 354.32,913.12" fill="#FF8000"/>
<polygon points="379.91,890.66 389.51,890.66 384.71,898.82" fill="#FF8000"/>
<polygon points="400.17,878.66 409.77,878.66 404.97,886.82" fill="#FF8000"/>
<polygon points="420.43,852.56 430.03,852.56 425.23,860.72" fill="#FF8000"/>
<polygon points="450.82,801.36 460.42,801.36 455.62,809.52" fill="#FF8000"/>
<polygon points="460.95,775.66 470.55,775.66 465.75,783.82" fill="#FF8000"/>
<polygon points="491.34,786.66 500.94,786.66 496.14,794.82" fill="#FF8000"/>
<polygon points="521.73,736.66 531.33,736.66 526.53,744.82" fill="#FF8000"/>
<polygon points="541.99,712.26 551.59,712.26 546.79,720.42" fill="#FF8000"/>
<polygon points="562.25,681.66 571.85,681.66 567.05,689.82" fill="#FF8000"/>
<polygon points="602.77,622.96 612.37,622.96 607.57,631.12" fill="#FF8000"/>
<polygon points="633.16,543.86 642.76,543.86 637.96,552.02" fill="#FF8000"/>
<line x1="384.71" y1="886" x2="384.71" y2="894" stroke="#0C7F99" stroke-width="2.1" stroke-linecap="butt"/>
<line x1="380.31" y1="886" x2="389.11" y2="886" stroke="#0C7F99" stroke-width="2.1" stroke-linecap="butt"/>
<line x1="380.31" y1="894" x2="389.11" y2="894" stroke="#0C7F99" stroke-width="2.1" stroke-linecap="butt"/>
<line x1="404.97" y1="868.5" x2="404.97" y2="880.5" stroke="#0C7F99" stroke-width="2.1" stroke-linecap="butt"/>
<line x1="400.57" y1="868.5" x2="409.37" y2="868.5" stroke="#0C7F99" stroke-width="2.1" stroke-linecap="butt"/>
<line x1="400.57" y1="880.5" x2="409.37" y2="880.5" stroke="#0C7F99" stroke-width="2.1" stroke-linecap="butt"/>
<line x1="425.23" y1="835.2" x2="425.23" y2="856.4" stroke="#0C7F99" stroke-width="2.1" stroke-linecap="butt"/>
<line x1="420.83" y1="835.2" x2="429.63" y2="835.2" stroke="#0C7F99" stroke-width="2.1" stroke-linecap="butt"/>
<line x1="420.83" y1="856.4" x2="429.63" y2="856.4" stroke="#0C7F99" stroke-width="2.1" stroke-linecap="butt"/>
<line x1="455.62" y1="764.8" x2="455.62" y2="800" stroke="#0C7F99" stroke-width="2.1" stroke-linecap="butt"/>
<line x1="451.22" y1="764.8" x2="460.02" y2="764.8" stroke="#0C7F99" stroke-width="2.1" stroke-linecap="butt"/>
<line x1="451.22" y1="800" x2="460.02" y2="800" stroke="#0C7F99" stroke-width="2.1" stroke-linecap="butt"/>
<line x1="465.75" y1="728" x2="465.75" y2="766.8" stroke="#0C7F99" stroke-width="2.1" stroke-linecap="butt"/>
<line x1="461.35" y1="728" x2="470.15" y2="728" stroke="#0C7F99" stroke-width="2.1" stroke-linecap="butt"/>
<line x1="461.35" y1="766.8" x2="470.15" y2="766.8" stroke="#0C7F99" stroke-width="2.1" stroke-linecap="butt"/>
<line x1="496.14" y1="669.5" x2="496.14" y2="751.4" stroke="#0C7F99" stroke-width="2.1" stroke-linecap="butt"/>
<line x1="491.74" y1="669.5" x2="500.54" y2="669.5" stroke="#0C7F99" stroke-width="2.1" stroke-linecap="butt"/>
<line x1="491.74" y1="751.4" x2="500.54" y2="751.4" stroke="#0C7F99" stroke-width="2.1" stroke-linecap="butt"/>
<line x1="526.53" y1="617.3" x2="526.53" y2="697.3" stroke="#0C7F99" stroke-width="2.1" stroke-linecap="butt"/>
<line x1="522.13" y1="617.3" x2="530.93" y2="617.3" stroke="#0C7F99" stroke-width="2.1" stroke-linecap="butt"/>
<line x1="522.13" y1="697.3" x2="530.93" y2="697.3" stroke="#0C7F99" stroke-width="2.1" stroke-linecap="butt"/>
<line x1="546.79" y1="623.4" x2="546.79" y2="649.1" stroke="#0C7F99" stroke-width="2.1" stroke-linecap="butt"/>
<line x1="542.39" y1="623.4" x2="551.19" y2="623.4" stroke="#0C7F99" stroke-width="2.1" stroke-linecap="butt"/>
<line x1="542.39" y1="649.1" x2="551.19" y2="649.1" stroke="#0C7F99" stroke-width="2.1" stroke-linecap="butt"/>
<polyline points="182.11,925 212.5,922.3 242.89,921.8 263.15,921.3 283.41,919.7 313.8,916.4 334.06,914 354.32,905.5 384.71,890 404.97,874.5 425.23,846.1 455.62,783 465.75,747.7 496.14,710.5 526.53,657.5 546.79,627.3" fill="none" stroke="#0C7F99" stroke-width="2.2" stroke-linejoin="round" stroke-linecap="butt"/>
<rect x="177.41" y="920.3" width="9.4" height="9.4" fill="#0C7F99"/>
<rect x="207.8" y="917.6" width="9.4" height="9.4" fill="#0C7F99"/>
<rect x="238.19" y="917.1" width="9.4" height="9.4" fill="#0C7F99"/>
<rect x="258.45" y="916.6" width="9.4" height="9.4" fill="#0C7F99"/>
<rect x="278.71" y="915" width="9.4" height="9.4" fill="#0C7F99"/>
<rect x="309.1" y="911.7" width="9.4" height="9.4" fill="#0C7F99"/>
<rect x="329.36" y="909.3" width="9.4" height="9.4" fill="#0C7F99"/>
<rect x="349.62" y="900.8" width="9.4" height="9.4" fill="#0C7F99"/>
<rect x="380.01" y="885.3" width="9.4" height="9.4" fill="#0C7F99"/>
<rect x="400.27" y="869.8" width="9.4" height="9.4" fill="#0C7F99"/>
<rect x="420.53" y="841.4" width="9.4" height="9.4" fill="#0C7F99"/>
<rect x="450.92" y="778.3" width="9.4" height="9.4" fill="#0C7F99"/>
<rect x="461.05" y="743" width="9.4" height="9.4" fill="#0C7F99"/>
<rect x="491.44" y="705.8" width="9.4" height="9.4" fill="#0C7F99"/>
<rect x="521.83" y="652.8" width="9.4" height="9.4" fill="#0C7F99"/>
<rect x="542.09" y="622.6" width="9.4" height="9.4" fill="#0C7F99"/>
<line x1="354.32" y1="883.5" x2="354.32" y2="896" stroke="#000" stroke-width="2.1" stroke-linecap="butt"/>
<line x1="349.92" y1="883.5" x2="358.72" y2="883.5" stroke="#000" stroke-width="2.1" stroke-linecap="butt"/>
<line x1="349.92" y1="896" x2="358.72" y2="896" stroke="#000" stroke-width="2.1" stroke-linecap="butt"/>
<line x1="384.71" y1="859.1" x2="384.71" y2="874.1" stroke="#000" stroke-width="2.1" stroke-linecap="butt"/>
<line x1="380.31" y1="859.1" x2="389.11" y2="859.1" stroke="#000" stroke-width="2.1" stroke-linecap="butt"/>
<line x1="380.31" y1="874.1" x2="389.11" y2="874.1" stroke="#000" stroke-width="2.1" stroke-linecap="butt"/>
<line x1="404.97" y1="828.6" x2="404.97" y2="850.7" stroke="#000" stroke-width="2.1" stroke-linecap="butt"/>
<line x1="400.57" y1="828.6" x2="409.37" y2="828.6" stroke="#000" stroke-width="2.1" stroke-linecap="butt"/>
<line x1="400.57" y1="850.7" x2="409.37" y2="850.7" stroke="#000" stroke-width="2.1" stroke-linecap="butt"/>
<line x1="425.23" y1="780.9" x2="425.23" y2="812.5" stroke="#000" stroke-width="2.1" stroke-linecap="butt"/>
<line x1="420.83" y1="780.9" x2="429.63" y2="780.9" stroke="#000" stroke-width="2.1" stroke-linecap="butt"/>
<line x1="420.83" y1="812.5" x2="429.63" y2="812.5" stroke="#000" stroke-width="2.1" stroke-linecap="butt"/>
<line x1="455.62" y1="690.5" x2="455.62" y2="737.7" stroke="#000" stroke-width="2.1" stroke-linecap="butt"/>
<line x1="451.22" y1="690.5" x2="460.02" y2="690.5" stroke="#000" stroke-width="2.1" stroke-linecap="butt"/>
<line x1="451.22" y1="737.7" x2="460.02" y2="737.7" stroke="#000" stroke-width="2.1" stroke-linecap="butt"/>
<line x1="465.75" y1="663.2" x2="465.75" y2="715.5" stroke="#000" stroke-width="2.1" stroke-linecap="butt"/>
<line x1="461.35" y1="663.2" x2="470.15" y2="663.2" stroke="#000" stroke-width="2.1" stroke-linecap="butt"/>
<line x1="461.35" y1="715.5" x2="470.15" y2="715.5" stroke="#000" stroke-width="2.1" stroke-linecap="butt"/>
<line x1="496.14" y1="672.3" x2="496.14" y2="694.5" stroke="#000" stroke-width="2.1" stroke-linecap="butt"/>
<line x1="491.74" y1="672.3" x2="500.54" y2="672.3" stroke="#000" stroke-width="2.1" stroke-linecap="butt"/>
<line x1="491.74" y1="694.5" x2="500.54" y2="694.5" stroke="#000" stroke-width="2.1" stroke-linecap="butt"/>
<line x1="526.53" y1="580.9" x2="526.53" y2="626.8" stroke="#000" stroke-width="2.1" stroke-linecap="butt"/>
<line x1="522.13" y1="580.9" x2="530.93" y2="580.9" stroke="#000" stroke-width="2.1" stroke-linecap="butt"/>
<line x1="522.13" y1="626.8" x2="530.93" y2="626.8" stroke="#000" stroke-width="2.1" stroke-linecap="butt"/>
<line x1="546.79" y1="580.9" x2="546.79" y2="626.8" stroke="#000" stroke-width="2.1" stroke-linecap="butt"/>
<line x1="542.39" y1="580.9" x2="551.19" y2="580.9" stroke="#000" stroke-width="2.1" stroke-linecap="butt"/>
<line x1="542.39" y1="626.8" x2="551.19" y2="626.8" stroke="#000" stroke-width="2.1" stroke-linecap="butt"/>
<polyline points="182.11,924.2 212.5,919.2 242.89,919.7 263.15,918.7 283.41,915.3 313.8,909.4 334.06,902.3 354.32,889.9 384.71,866.6 404.97,839.8 425.23,796.8 455.62,714.1 465.75,688.9 496.14,683.6 526.53,604.1 546.79,604.1" fill="none" stroke="#000" stroke-width="2.2" stroke-linejoin="round" stroke-linecap="butt"/>
<circle cx="182.11" cy="924.2" r="4.8" fill="#000"/>
<circle cx="212.5" cy="919.2" r="4.8" fill="#000"/>
<circle cx="242.89" cy="919.7" r="4.8" fill="#000"/>
<circle cx="263.15" cy="918.7" r="4.8" fill="#000"/>
<circle cx="283.41" cy="915.3" r="4.8" fill="#000"/>
<circle cx="313.8" cy="909.4" r="4.8" fill="#000"/>
<circle cx="334.06" cy="902.3" r="4.8" fill="#000"/>
<circle cx="354.32" cy="889.9" r="4.8" fill="#000"/>
<circle cx="384.71" cy="866.6" r="4.8" fill="#000"/>
<circle cx="404.97" cy="839.8" r="4.8" fill="#000"/>
<circle cx="425.23" cy="796.8" r="4.8" fill="#000"/>
<circle cx="455.62" cy="714.1" r="4.8" fill="#000"/>
<circle cx="465.75" cy="688.9" r="4.8" fill="#000"/>
<circle cx="496.14" cy="683.6" r="4.8" fill="#000"/>
<circle cx="526.53" cy="604.1" r="4.8" fill="#000"/>
<circle cx="546.79" cy="604.1" r="4.8" fill="#000"/>
<text x="437.3" y="619.5" font-size="39.14" text-anchor="middle" fill="#3F8FA6" textLength="14.79" lengthAdjust="spacingAndGlyphs">*</text>
<text x="431" y="681.5" font-size="39.14" text-anchor="middle" fill="#E2813F" textLength="29.57" lengthAdjust="spacingAndGlyphs">**</text>
<rect x="760.3" y="659.3" width="32.4" height="158.1" fill="#686868" stroke="#000" stroke-width="1.45"/>
<rect x="809.2" y="730.9" width="32.2" height="86.5" fill="#0A7F98" stroke="#000" stroke-width="1.45"/>
<rect x="858.1" y="750.3" width="32.2" height="67.1" fill="#FF8000" stroke="#000" stroke-width="1.45"/>
<line x1="744" y1="570.85" x2="744" y2="818.65" stroke="#000" stroke-width="2.5" stroke-linecap="butt"/>
<line x1="742.75" y1="817.4" x2="907.5" y2="817.4" stroke="#000" stroke-width="2.5" stroke-linecap="butt"/>
<line x1="744" y1="572.1" x2="751.5" y2="572.1" stroke="#000" stroke-width="2.5" stroke-linecap="butt"/>
<text x="740" y="578.5" font-size="17.72" text-anchor="end" font-weight="bold" textLength="23.91" lengthAdjust="spacingAndGlyphs">1.5</text>
<line x1="744" y1="653.9" x2="751.5" y2="653.9" stroke="#000" stroke-width="2.5" stroke-linecap="butt"/>
<text x="740" y="660.3" font-size="17.72" text-anchor="end" font-weight="bold" textLength="23.91" lengthAdjust="spacingAndGlyphs">1.0</text>
<line x1="744" y1="735.8" x2="751.5" y2="735.8" stroke="#000" stroke-width="2.5" stroke-linecap="butt"/>
<text x="740" y="742.2" font-size="17.72" text-anchor="end" font-weight="bold" textLength="23.91" lengthAdjust="spacingAndGlyphs">0.5</text>
<line x1="744" y1="817.4" x2="751.5" y2="817.4" stroke="#000" stroke-width="2.5" stroke-linecap="butt"/>
<text x="740" y="823.8" font-size="17.72" text-anchor="end" font-weight="bold" textLength="23.91" lengthAdjust="spacingAndGlyphs">0.0</text>
<line x1="776.5" y1="647.8" x2="776.5" y2="670.4" stroke="#000" stroke-width="1.4" stroke-linecap="butt"/>
<line x1="768.4" y1="647.8" x2="784.6" y2="647.8" stroke="#000" stroke-width="1.4" stroke-linecap="butt"/>
<line x1="768.4" y1="670.4" x2="784.6" y2="670.4" stroke="#000" stroke-width="1.4" stroke-linecap="butt"/>
<line x1="825.2" y1="715.9" x2="825.2" y2="745.6" stroke="#000" stroke-width="1.4" stroke-linecap="butt"/>
<line x1="817.1" y1="715.9" x2="833.3" y2="715.9" stroke="#000" stroke-width="1.4" stroke-linecap="butt"/>
<line x1="817.1" y1="745.6" x2="833.3" y2="745.6" stroke="#000" stroke-width="1.4" stroke-linecap="butt"/>
<line x1="874.1" y1="734.3" x2="874.1" y2="765.3" stroke="#000" stroke-width="1.4" stroke-linecap="butt"/>
<line x1="866" y1="734.3" x2="882.2" y2="734.3" stroke="#000" stroke-width="1.4" stroke-linecap="butt"/>
<line x1="866" y1="765.3" x2="882.2" y2="765.3" stroke="#000" stroke-width="1.4" stroke-linecap="butt"/>
<circle cx="776.5" cy="633" r="4.7" fill="#000"/>
<circle cx="776.5" cy="642.4" r="4.7" fill="#000"/>
<circle cx="776.5" cy="654.7" r="4.7" fill="#000"/>
<circle cx="776.5" cy="668.7" r="4.7" fill="#000"/>
<circle cx="776.5" cy="697.7" r="4.7" fill="#000"/>
<circle cx="825.2" cy="694.5" r="4.7" fill="#000"/>
<circle cx="825.2" cy="710" r="4.7" fill="#000"/>
<circle cx="825.2" cy="725.2" r="4.7" fill="#000"/>
<circle cx="825.2" cy="741.7" r="4.7" fill="#000"/>
<circle cx="825.2" cy="781.8" r="4.7" fill="#000"/>
<circle cx="874.1" cy="715.6" r="4.7" fill="#000"/>
<circle cx="881.7" cy="737.3" r="4.7" fill="#000"/>
<circle cx="866.5" cy="742.2" r="4.7" fill="#000"/>
<circle cx="881.7" cy="747.8" r="4.7" fill="#000"/>
<circle cx="874.1" cy="807.6" r="4.7" fill="#000"/>
<polyline points="775.8,584.4 775.8,572.8 874.1,572.8 874.1,584.4" fill="none" stroke="#000" stroke-width="1.3" stroke-linejoin="miter" stroke-linecap="butt"/>
<text x="823.2" y="567.5" font-size="14.42" text-anchor="middle" textLength="10.9" lengthAdjust="spacingAndGlyphs">**</text>
<polyline points="775.8,617.8 775.8,606 828.1,606 828.1,617.8" fill="none" stroke="#000" stroke-width="1.3" stroke-linejoin="miter" stroke-linecap="butt"/>
<text x="802.1" y="601.5" font-size="14.42" text-anchor="middle" textLength="10.9" lengthAdjust="spacingAndGlyphs">**</text>
<text x="698.8" y="683.4" font-size="22.66" text-anchor="middle" transform="rotate(-90 698.8 683.4)" textLength="172" lengthAdjust="spacingAndGlyphs">Tumor weight (g)</text>
<text x="714.6" y="856.7" font-size="23.28" textLength="73.2" lengthAdjust="spacingAndGlyphs">Control</text>
<text x="792.7" y="856.7" font-size="23.28" textLength="60.8" lengthAdjust="spacingAndGlyphs">SAHA</text>
<text x="865.3" y="856.7" font-size="23.28" textLength="74.4" lengthAdjust="spacingAndGlyphs">DDI199</text>
<defs><filter id="n1" x="0" y="0" width="1" height="1" color-interpolation-filters="sRGB"><feTurbulence type="fractalNoise" baseFrequency="0.07" numOctaves="4" seed="10"/><feColorMatrix type="matrix" values="0.45 -0.03 0 0 0.46 0.45 -0.02 0 0 0.43 0.45 0.05 0 0 0.48 0 0 0 0 1"/></filter><filter id="d1" x="0" y="0" width="1" height="1" color-interpolation-filters="sRGB"><feTurbulence type="fractalNoise" baseFrequency="0.11" numOctaves="2" seed="60" result="t"/><feDisplacementMap in="SourceGraphic" in2="t" scale="4" xChannelSelector="R" yChannelSelector="G"/><feGaussianBlur stdDeviation="1.2"/></filter><clipPath id="c1"><rect width="158.9" height="159.2"/></clipPath></defs>
<g transform="translate(981.9 447.3)"><g clip-path="url(#c1)">
<rect width="158.9" height="159.2" fill="#aaa6bb"/>
<rect width="158.9" height="159.2" filter="url(#n1)"/>
<g fill="none" stroke-linecap="round" filter="url(#d1)">
<path d="M46 0h0M97 3h0M111 -2h0M130 -3h0M150 2h0M30 6h0M72 8h0M120 5h0M170 5h0M52 10h0M68 12h0M86 9h0M147 14h0M57 20h0M60 17h0M85 18h0M95 20h0M143 16h0M79 24h0M84 25h0M150 23h0M162 23h0M52 28h0M102 31h0M121 29h0M144 32h0M12 33h0M167 35h0M87 39h0M95 40h0M110 44h0M115 43h0M135 43h0M140 42h0M167 44h0M18 49h0M68 48h0M71 49h0M79 47h0M88 47h0M104 45h0M3 53h0M43 53h0M150 52h0M29 57h0M106 61h0M38 66h0M55 67h0M65 63h0M89 63h0M116 66h0M74 71h0M87 69h0M121 70h0M156 70h0M42 76h0M48 79h0M82 79h0M87 75h0M147 78h0M71 84h0M84 82h0M102 90h0M-0 96h0M22 95h0M86 94h0M94 96h0M2 100h0M31 99h0M101 106h0M122 111h0M46 117h0M61 117h0M94 127h0M141 124h0M21 130h0M97 130h0M120 129h0M146 129h0M10 137h0M43 134h0M49 136h0M72 138h0M148 134h0M93 142h0M35 148h0M64 149h0M98 147h0M153 148h0M9 153h0M13 154h0M38 156h0M86 154h0M156 157h0M22 160h0M60 163h0M170 159h0" stroke="#3c2a26" stroke-width="3.8"/>
<path d="M27 -1h0M138 -0h0M5 4h0M88 3h0M136 9h0M19 15h0M33 10h0M90 12h0M141 10h0M158 11h0M23 17h0M108 19h0M147 17h0M0 22h0M35 22h0M74 23h0M130 21h0M136 22h0M6 30h0M94 29h0M149 31h0M35 37h0M42 38h0M50 35h0M72 38h0M34 41h0M55 44h0M130 39h0M157 41h0M-2 47h0M133 46h0M144 46h0M38 54h0M58 52h0M85 58h0M13 68h0M15 63h0M25 68h0M31 67h0M44 65h0M78 64h0M158 67h0M62 73h0M98 71h0M131 73h0M98 76h0M113 75h0M91 85h0M120 84h0M54 91h0M70 89h0M108 89h0M41 94h0M114 95h0M112 104h0M170 100h0M59 107h0M74 108h0M4 114h0M76 113h0M118 113h0M40 117h0M51 117h0M95 118h0M51 126h0M110 125h0M150 126h0M5 130h0M15 131h0M165 130h0M2 140h0M29 145h0M113 145h0M143 144h0M157 142h0M51 148h0M88 147h0M150 148h0M2 153h0M82 154h0M106 153h0M130 154h0M164 152h0M39 161h0M71 160h0M83 159h0M87 162h0M162 160h0" stroke="#3c2a26" stroke-width="4.5"/>
<path d="M42 -3h0M85 -2h0M161 0h0M18 6h0M21 5h0M102 7h0M127 7h0M164 6h0M14 11h0M99 14h0M113 14h0M121 12h0M126 10h0M16 17h0M51 15h0M68 20h0M166 16h0M90 22h0M110 23h0M125 21h0M156 30h0M167 31h0M47 36h0M80 35h0M24 44h0M68 41h0M52 50h0M61 47h0M99 46h0M112 46h0M123 46h0M105 54h0M115 54h0M161 56h0M66 57h0M163 61h0M47 64h0M22 69h0M33 71h0M90 71h0M163 70h0M28 76h0M64 78h0M111 76h0M100 80h0M123 86h0M154 85h0M31 88h0M65 91h0M115 92h0M124 91h0M162 90h0M99 94h0M117 97h0M124 97h0M152 98h0M10 101h0M57 99h0M95 103h0M124 99h0M131 100h0M55 108h0M118 108h0M132 109h0M45 111h0M142 111h0M164 112h0M167 113h0M72 118h0M80 117h0M151 121h0M1 127h0M11 126h0M75 124h0M85 128h0M40 129h0M44 130h0M9 140h0M36 143h0M62 142h0M75 141h0M123 142h0M135 144h0M11 150h0M45 151h0M79 150h0M31 155h0M8 161h0M156 159h0" stroke="#3c2a26" stroke-width="5.3"/>
<path d="M53 1h0M93 2h0M119 1h0M97 5h0M117 8h0M151 7h0M44 12h0M73 10h0M132 14h0M39 21h0M105 25h0M57 30h0M113 32h0M127 30h0M97 36h0M9 41h0M51 42h0M33 50h0M49 55h0M73 52h0M8 61h0M111 58h0M121 67h0M145 68h0M9 74h0M104 69h0M130 79h0M9 81h0M24 82h0M45 84h0M115 85h0M19 91h0M25 91h0M51 90h0M156 96h0M45 100h0M-3 107h0M9 105h0M33 105h0M157 109h0M55 113h0M70 114h0M80 111h0M112 115h0M129 112h0M138 112h0M84 117h0M119 117h0M42 126h0M170 123h0M124 129h0M130 133h0M159 132h0M16 138h0M59 136h0M101 135h0M54 142h0M23 150h0M84 147h0M121 150h0M170 148h0M64 156h0M116 160h0" stroke="#54403c" stroke-width="3.6"/>
<path d="M63 1h0M77 1h0M123 1h0M147 -0h0M163 -1h0M8 7h0M110 5h0M1 10h0M4 11h0M138 17h0M9 24h0M157 24h0M63 27h0M71 27h0M152 33h0M78 41h0M120 40h0M150 42h0M24 46h0M44 50h0M118 50h0M31 56h0M123 52h0M135 56h0M143 52h0M101 61h0M68 67h0M167 65h0M68 72h0M57 79h0M167 79h0M143 85h0M42 89h0M97 88h0M47 96h0M63 101h0M118 102h0M157 102h0M81 107h0M112 106h0M61 112h0M35 118h0M113 117h0M133 118h0M36 123h0M71 126h0M120 127h0M28 131h0M103 132h0M144 139h0M117 142h0M149 145h0M16 150h0M128 150h0M140 149h0M21 157h0M24 153h0M98 154h0M151 156h0M30 163h0M75 162h0M94 162h0M136 160h0" stroke="#54403c" stroke-width="4.3"/>
<path d="M13 -1h0M35 1h0M57 11h0M105 11h0M7 19h0M38 16h0M28 34h0M92 38h0M117 36h0M5 41h0M32 40h0M15 48h0M92 46h0M140 48h0M151 49h0M157 47h0M63 55h0M92 55h0M131 53h0M170 54h0M-3 61h0M35 58h0M41 59h0M93 61h0M119 59h0M161 64h0M12 76h0M35 79h0M60 85h0M108 82h0M133 84h0M12 90h0M37 90h0M75 89h0M136 90h0M36 95h0M56 95h0M138 97h0M151 104h0M26 107h0M127 107h0M94 114h0M154 115h0M68 119h0M21 124h0M88 122h0M103 125h0M66 129h0M74 129h0M77 129h0M61 137h0M73 139h0M94 137h0M121 138h0M130 135h0M137 134h0M47 143h0M57 147h0M75 156h0M120 157h0M46 158h0M51 163h0" stroke="#54403c" stroke-width="5.0"/>
<path d="M8 -1h0M38 4h0M157 8h0M3 17h0M45 26h0M58 23h0M143 23h0M16 28h0M87 28h0M-1 33h0M134 37h0M43 43h0M161 42h0M18 54h0M71 54h0M47 59h0M132 57h0M147 62h0M81 64h0M107 64h0M48 74h0M14 80h0M101 77h0M42 82h0M81 83h0M4 94h0M67 98h0M52 99h0M75 98h0M86 107h0M147 106h0M154 108h0M139 118h0M164 118h0M56 124h0M63 122h0M115 122h0M134 126h0M30 138h0M87 135h0M112 134h0M32 149h0M115 151h0M160 147h0M143 157h0M1 160h0M17 162h0" stroke="#625e7a" stroke-width="3.4"/>
<path d="M143 6h0M42 12h0M28 18h0M118 20h0M123 18h0M128 18h0M154 15h0M22 32h0M163 29h0M138 35h0M160 37h0M6 49h0M42 50h0M94 53h0M70 60h0M100 63h0M79 72h0M125 69h0M144 70h0M136 78h0M20 84h0M36 86h0M55 83h0M64 81h0M81 94h0M108 94h0M132 96h0M24 99h0M18 105h0M65 106h0M106 106h0M137 109h0M18 114h0M124 120h0M33 131h0M86 128h0M1 138h0M162 138h0M20 144h0M100 147h0M133 147h0" stroke="#625e7a" stroke-width="4.0"/>
<path d="M19 2h0M150 10h0M167 14h0M160 17h0M12 24h0M24 22h0M97 21h0M10 28h0M30 31h0M75 29h0M108 27h0M19 37h0M59 38h0M114 33h0M126 34h0M82 40h0M104 43h0M9 51h0M24 51h0M19 57h0M54 57h0M61 62h0M78 58h0M129 65h0M52 70h0M161 84h0M5 91h0M89 90h0M140 88h0M149 91h0M69 100h0M81 101h0M89 98h0M105 99h0M145 102h0M94 110h0M20 115h0M90 114h0M98 118h0M32 124h0M128 126h0M153 125h0M159 124h0M93 133h0M150 130h0M38 135h0M81 136h0M85 143h0M100 145h0M1 150h0M67 148h0M58 162h0" stroke="#625e7a" stroke-width="4.8"/>
</g>
</g></g>
<rect x="981.9" y="447.3" width="158.9" height="159.2" fill="none" stroke="#4a4a4a" stroke-width="0.8"/>
<line x1="1105.3" y1="598.6" x2="1135.1" y2="598.6" stroke="#111" stroke-width="1.5" stroke-linecap="butt"/>
<defs><filter id="n2" x="0" y="0" width="1" height="1" color-interpolation-filters="sRGB"><feTurbulence type="fractalNoise" baseFrequency="0.07" numOctaves="4" seed="11"/><feColorMatrix type="matrix" values="0.45 -0.03 0 0 0.48 0.45 -0.02 0 0 0.44 0.45 0.05 0 0 0.47 0 0 0 0 1"/></filter><filter id="d2" x="0" y="0" width="1" height="1" color-interpolation-filters="sRGB"><feTurbulence type="fractalNoise" baseFrequency="0.11" numOctaves="2" seed="61" result="t"/><feDisplacementMap in="SourceGraphic" in2="t" scale="4" xChannelSelector="R" yChannelSelector="G"/><feGaussianBlur stdDeviation="1.2"/></filter><clipPath id="c2"><rect width="159.6" height="159.2"/></clipPath></defs>
<g transform="translate(1150.4 447.3)"><g clip-path="url(#c2)">
<rect width="159.6" height="159.2" fill="#afa8b8"/>
<rect width="159.6" height="159.2" filter="url(#n2)"/>
<g fill="none" stroke-linecap="round" filter="url(#d2)">
<path d="M41 -3h0M100 -2h0M121 -2h0M79 5h0M100 8h0M45 13h0M107 11h0M111 16h0M137 16h0M162 20h0M-1 22h0M16 24h0M19 26h0M67 22h0M6 29h0M10 28h0M35 29h0M46 33h0M57 33h0M104 32h0M121 31h0M134 29h0M138 33h0M167 31h0M42 39h0M114 40h0M137 35h0M149 39h0M12 42h0M56 45h0M123 41h0M64 46h0M92 50h0M154 51h0M24 55h0M31 55h0M80 58h0M86 55h0M133 54h0M23 61h0M109 64h0M149 70h0M8 73h0M164 73h0M10 82h0M26 78h0M31 80h0M43 81h0M58 77h0M65 81h0M97 80h0M144 77h0M159 85h0M104 94h0M117 89h0M138 89h0M2 96h0M72 99h0M102 98h0M108 95h0M159 98h0M3 103h0M-0 110h0M70 112h0M144 112h0M32 117h0M52 115h0M150 113h0M161 117h0M165 114h0M14 124h0M36 123h0M50 123h0M122 120h0M150 122h0M29 130h0M36 128h0M135 131h0M22 132h0M89 135h0M93 134h0M114 135h0M131 134h0M151 136h0M31 141h0M71 140h0M80 139h0M90 139h0M156 141h0M160 138h0M104 149h0M91 152h0M103 153h0M121 151h0M132 153h0M129 158h0M151 158h0M21 166h0M40 164h0M51 165h0" stroke="#3e281e" stroke-width="3.9"/>
<path d="M20 2h0M107 -0h0M131 2h0M136 -2h0M163 -3h0M3 7h0M143 7h0M161 4h0M22 12h0M52 13h0M82 13h0M104 14h0M156 14h0M53 20h0M71 18h0M120 17h0M154 21h0M54 26h0M135 23h0M147 27h0M156 26h0M70 32h0M16 35h0M60 36h0M100 37h0M18 43h0M37 41h0M70 43h0M86 43h0M105 43h0M159 43h0M166 43h0M101 48h0M127 48h0M164 46h0M3 55h0M17 56h0M45 56h0M56 54h0M71 53h0M90 54h0M152 53h0M5 61h0M81 60h0M121 59h0M142 62h0M15 66h0M22 70h0M45 66h0M86 67h0M-1 72h0M11 74h0M26 76h0M91 73h0M138 76h0M1 81h0M15 82h0M71 79h0M121 78h0M127 79h0M133 79h0M137 80h0M160 82h0M34 83h0M46 88h0M150 87h0M15 93h0M38 91h0M79 90h0M158 92h0M18 97h0M56 99h0M91 97h0M12 107h0M22 107h0M42 102h0M50 105h0M134 103h0M137 109h0M2 116h0M11 117h0M40 116h0M65 115h0M69 115h0M84 114h0M139 115h0M60 120h0M51 131h0M58 129h0M85 130h0M114 129h0M153 129h0M103 136h0M136 137h0M155 136h0M14 142h0M42 139h0M49 143h0M110 138h0M133 140h0M145 138h0M33 144h0M110 145h0M3 154h0M56 153h0M152 153h0M42 157h0M60 158h0M154 162h0M147 164h0" stroke="#3e281e" stroke-width="4.6"/>
<path d="M26 5h0M121 5h0M140 8h0M155 4h0M14 12h0M73 10h0M134 13h0M145 14h0M162 14h0M81 21h0M101 20h0M124 16h0M166 19h0M120 23h0M87 31h0M93 33h0M149 30h0M153 33h0M157 31h0M20 37h0M79 35h0M111 34h0M130 39h0M156 37h0M66 44h0M76 43h0M100 45h0M8 47h0M27 52h0M49 48h0M91 47h0M140 48h0M147 54h0M34 62h0M55 62h0M90 64h0M98 59h0M131 59h0M164 60h0M12 66h0M70 65h0M104 74h0M155 75h0M155 81h0M166 81h0M-2 85h0M11 83h0M87 83h0M30 94h0M45 90h0M60 91h0M133 90h0M169 93h0M40 98h0M58 100h0M81 101h0M32 102h0M40 104h0M83 105h0M137 103h0M163 105h0M169 106h0M11 113h0M48 110h0M104 112h0M114 113h0M91 117h0M18 125h0M88 120h0M92 124h0M63 131h0M143 129h0M26 136h0M40 136h0M122 136h0M117 140h0M53 148h0M111 154h0M125 151h0M7 159h0M8 163h0M33 163h0M72 167h0M114 164h0M120 163h0M135 167h0" stroke="#3e281e" stroke-width="5.4"/>
<path d="M27 -2h0M35 -2h0M96 2h0M140 1h0M31 6h0M113 7h0M123 14h0M127 12h0M90 20h0M130 16h0M145 18h0M34 23h0M84 25h0M156 45h0M33 48h0M42 49h0M152 47h0M105 57h0M25 63h0M40 63h0M66 62h0M2 65h0M76 68h0M159 65h0M20 71h0M33 72h0M76 73h0M152 73h0M60 84h0M104 86h0M139 87h0M11 94h0M25 94h0M112 91h0M126 89h0M120 96h0M119 105h0M147 103h0M22 109h0M52 111h0M158 108h0M44 119h0M98 116h0M125 114h0M26 123h0M75 125h0M128 125h0M1 128h0M98 127h0M124 127h0M13 133h0M108 140h0M21 147h0M49 149h0M83 148h0M80 152h0M84 155h0M30 158h0M67 158h0M75 161h0M144 160h0M63 168h0M98 168h0M160 165h0" stroke="#583c30" stroke-width="3.9"/>
<path d="M82 -2h0M91 3h0M115 -1h0M16 9h0M64 7h0M6 11h0M28 11h0M12 16h0M39 17h0M5 25h0M63 22h0M90 27h0M94 23h0M127 29h0M74 35h0M56 51h0M8 54h0M49 53h0M139 62h0M30 68h0M36 69h0M49 67h0M119 68h0M133 65h0M40 73h0M69 74h0M80 72h0M52 81h0M83 78h0M104 80h0M106 84h0M164 84h0M155 89h0M123 104h0M150 107h0M26 116h0M107 116h0M135 118h0M67 121h0M114 124h0M1 135h0M144 132h0M86 140h0M165 143h0M29 147h0M61 147h0M152 147h0M164 149h0M57 162h0M93 160h0M122 160h0M163 161h0M57 165h0M87 167h0M91 166h0M126 164h0M154 165h0" stroke="#583c30" stroke-width="4.6"/>
<path d="M2 2h0M133 6h0M165 6h0M149 10h0M25 18h0M84 18h0M26 25h0M127 25h0M24 29h0M50 32h0M111 28h0M-2 36h0M34 36h0M66 37h0M142 39h0M137 42h0M71 48h0M120 50h0M113 60h0M147 64h0M58 65h0M123 66h0M142 65h0M48 71h0M35 81h0M6 86h0M22 86h0M71 84h0M75 83h0M50 90h0M117 96h0M137 100h0M57 102h0M104 102h0M111 107h0M96 111h0M110 121h0M108 131h0M161 126h0M50 137h0M54 137h0M64 135h0M69 133h0M67 145h0M72 147h0M94 148h0M65 150h0M71 150h0M97 156h0M48 160h0M87 157h0M111 160h0M139 159h0M103 164h0M140 162h0" stroke="#583c30" stroke-width="5.4"/>
<path d="M155 2h0M1 10h0M66 18h0M107 24h0M65 33h0M55 35h0M93 40h0M89 43h0M115 42h0M117 44h0M110 51h0M110 55h0M118 57h0M1 61h0M63 64h0M76 81h0M130 85h0M144 86h0M5 99h0M49 99h0M131 98h0M150 98h0M62 104h0M9 125h0M164 122h0M18 126h0M117 131h0M142 129h0M77 132h0M86 146h0M18 154h0M34 157h0" stroke="#645e7a" stroke-width="3.5"/>
<path d="M15 -1h0M49 1h0M147 -0h0M5 17h0M108 16h0M74 23h0M99 25h0M87 37h0M122 35h0M131 40h0M11 50h0M75 48h0M134 50h0M35 56h0M65 56h0M158 61h0M55 72h0M125 76h0M144 75h0M96 85h0M29 95h0M34 98h0M19 105h0M129 112h0M162 110h0M80 117h0M82 123h0M154 122h0M40 145h0M116 149h0M129 146h0M145 149h0M44 155h0M137 154h0M81 164h0" stroke="#645e7a" stroke-width="4.1"/>
<path d="M7 -2h0M89 6h0M126 7h0M67 12h0M91 13h0M114 10h0M19 18h0M164 24h0M5 40h0M50 42h0M144 42h0M113 50h0M62 66h0M166 67h0M63 71h0M28 87h0M55 88h0M117 88h0M149 90h0M15 100h0M79 104h0M7 110h0M79 110h0M152 109h0M16 117h0M147 119h0M2 121h0M12 129h0M80 127h0M165 126h0M82 134h0M37 140h0M59 143h0M100 141h0M6 148h0M53 151h0M82 157h0" stroke="#645e7a" stroke-width="4.9"/>
</g>
</g></g>
<rect x="1150.4" y="447.3" width="159.6" height="159.2" fill="none" stroke="#4a4a4a" stroke-width="0.8"/>
<line x1="1274.5" y1="598.6" x2="1304.3" y2="598.6" stroke="#111" stroke-width="1.5" stroke-linecap="butt"/>
<defs><filter id="n3" x="0" y="0" width="1" height="1" color-interpolation-filters="sRGB"><feTurbulence type="fractalNoise" baseFrequency="0.07" numOctaves="4" seed="12"/><feColorMatrix type="matrix" values="0.45 -0.03 0 0 0.47 0.45 -0.02 0 0 0.43 0.45 0.05 0 0 0.47 0 0 0 0 1"/></filter><filter id="d3" x="0" y="0" width="1" height="1" color-interpolation-filters="sRGB"><feTurbulence type="fractalNoise" baseFrequency="0.11" numOctaves="2" seed="62" result="t"/><feDisplacementMap in="SourceGraphic" in2="t" scale="4" xChannelSelector="R" yChannelSelector="G"/><feGaussianBlur stdDeviation="1.2"/></filter><clipPath id="c3"><rect width="162" height="159.2"/></clipPath></defs>
<g transform="translate(1319.3 447.3)"><g clip-path="url(#c3)">
<rect width="162" height="159.2" fill="#aea6b7"/>
<rect width="162" height="159.2" filter="url(#n3)"/>
<g fill="none" stroke-linecap="round" filter="url(#d3)">
<path d="M20 2h0M31 -2h0M152 2h0M112 8h0M155 9h0M34 15h0M116 16h0M142 10h0M41 20h0M98 19h0M106 19h0M12 33h0M25 35h0M83 33h0M140 32h0M26 41h0M48 42h0M57 37h0M8 46h0M63 43h0M1 54h0M22 54h0M145 51h0M157 55h0M73 57h0M53 66h0M99 67h0M155 64h0M16 70h0M25 73h0M52 70h0M61 72h0M150 70h0M16 75h0M26 79h0M158 75h0M11 83h0M25 87h0M106 86h0M129 87h0M162 82h0M46 94h0M79 89h0M37 99h0M130 104h0M152 101h0M46 112h0M172 109h0M34 117h0M138 119h0M69 126h0M90 122h0M146 123h0M7 130h0M42 132h0M51 129h0M85 127h0M132 127h0M165 130h0M11 135h0M19 134h0M34 137h0M57 136h0M58 138h0M154 136h0M19 142h0M27 144h0M35 144h0M129 141h0M150 143h0M166 145h0M99 148h0M102 151h0M113 150h0M138 147h0M7 153h0M78 156h0M131 155h0M61 160h0M84 160h0M148 164h0" stroke="#3e2618" stroke-width="4.5"/>
<path d="M47 4h0M61 7h0M6 11h0M45 11h0M49 12h0M122 15h0M132 12h0M17 20h0M84 21h0M139 22h0M145 21h0M70 28h0M4 31h0M32 32h0M88 33h0M94 32h0M7 38h0M131 38h0M166 37h0M26 47h0M57 46h0M70 46h0M134 46h0M149 48h0M46 49h0M16 55h0M24 57h0M44 59h0M84 59h0M95 59h0M127 57h0M134 61h0M163 57h0M6 62h0M14 64h0M74 65h0M132 67h0M166 64h0M42 70h0M100 68h0M9 76h0M104 78h0M120 80h0M129 79h0M49 84h0M51 83h0M146 87h0M108 91h0M92 94h0M109 97h0M135 97h0M166 99h0M66 112h0M99 112h0M106 111h0M127 110h0M65 118h0M155 119h0M164 115h0M32 126h0M64 123h0M85 123h0M95 124h0M126 125h0M100 129h0M75 137h0M72 145h0M135 140h0M146 141h0M53 150h0M172 150h0M1 155h0M24 156h0M101 158h0M110 156h0M141 153h0M164 154h0" stroke="#3e2618" stroke-width="5.2"/>
<path d="M78 2h0M114 -0h0M27 6h0M79 14h0M6 21h0M31 20h0M-2 24h0M35 25h0M65 26h0M108 26h0M136 23h0M148 23h0M15 34h0M62 35h0M71 29h0M78 31h0M117 31h0M145 34h0M16 36h0M67 38h0M74 46h0M102 43h0M4 59h0M42 61h0M93 61h0M102 56h0M39 67h0M81 65h0M89 64h0M118 65h0M137 67h0M143 65h0M3 73h0M66 70h0M140 69h0M21 76h0M65 78h0M71 79h0M17 87h0M7 89h0M93 90h0M123 92h0M134 91h0M167 93h0M33 97h0M60 97h0M85 97h0M105 98h0M123 106h0M158 104h0M85 113h0M114 110h0M160 109h0M127 114h0M103 122h0M78 131h0M96 131h0M95 134h0M105 136h0M114 134h0M128 139h0M147 138h0M2 142h0M78 145h0M102 143h0M23 147h0M61 147h0M78 149h0M164 150h0M30 155h0M33 156h0M94 156h0M20 163h0M25 165h0M30 161h0M40 159h0M78 162h0" stroke="#3e2618" stroke-width="6.2"/>
<path d="M-3 1h0M41 -2h0M87 3h0M56 5h0M2 13h0M93 13h0M161 14h0M16 25h0M37 35h0M34 37h0M16 47h0M111 46h0M143 47h0M49 51h0M95 50h0M100 49h0M136 50h0M166 51h0M140 60h0M146 56h0M123 66h0M114 72h0M92 81h0M115 77h0M139 77h0M148 77h0M32 85h0M154 87h0M99 92h0M127 99h0M31 104h0M78 106h0M135 106h0M43 113h0M158 111h0M19 117h0M49 119h0M107 114h0M124 118h0M3 122h0M56 124h0M111 124h0M146 131h0M131 138h0M138 137h0M166 134h0M12 141h0M95 145h0M123 140h0M125 152h0M134 154h0M111 161h0M125 161h0" stroke="#583a2a" stroke-width="4.2"/>
<path d="M6 -2h0M53 0h0M58 3h0M93 1h0M159 2h0M19 7h0M42 4h0M27 16h0M57 10h0M162 22h0M165 27h0M24 39h0M89 41h0M153 48h0M32 52h0M60 50h0M78 50h0M125 49h0M127 50h0M74 71h0M82 70h0M90 69h0M53 76h0M78 76h0M114 85h0M119 83h0M136 87h0M158 89h0M140 99h0M146 99h0M166 103h0M139 109h0M75 118h0M95 119h0M145 118h0M46 123h0M163 125h0M1 128h0M32 130h0M109 129h0M125 130h0M152 129h0M1 138h0M16 149h0M84 150h0M14 153h0M44 157h0M53 155h0M87 153h0M105 164h0" stroke="#583a2a" stroke-width="5.0"/>
<path d="M16 0h0M136 1h0M4 8h0M65 12h0M108 14h0M46 17h0M132 18h0M20 24h0M50 24h0M88 24h0M1 41h0M105 37h0M150 38h0M73 52h0M88 54h0M9 61h0M32 58h0M56 60h0M31 73h0M125 74h0M134 72h0M165 73h0M59 78h0M165 75h0M61 82h0M95 86h0M138 81h0M28 94h0M46 97h0M74 99h0M17 105h0M55 112h0M120 111h0M132 110h0M151 112h0M29 118h0M103 117h0M154 114h0M39 121h0M121 123h0M143 126h0M157 123h0M169 125h0M135 133h0M157 127h0M47 136h0M119 136h0M42 140h0M57 145h0M84 142h0M157 144h0M69 149h0M70 153h0M123 154h0M156 154h0M44 162h0M164 165h0" stroke="#583a2a" stroke-width="5.9"/>
<path d="M102 -1h0M149 12h0M170 20h0M6 28h0M162 32h0M81 41h0M33 48h0M59 58h0M56 64h0M81 85h0M71 102h0M22 109h0M75 108h0M79 115h0M13 132h0M66 127h0M9 144h0M91 151h0M63 154h0" stroke="#645e78" stroke-width="3.8"/>
<path d="M34 3h0M120 2h0M23 12h0M103 10h0M137 11h0M69 21h0M153 19h0M105 32h0M166 31h0M146 36h0M34 54h0M67 50h0M108 51h0M65 63h0M94 64h0M110 66h0M39 75h0M110 79h0M146 78h0M78 87h0M-2 91h0M54 99h0M120 99h0M93 101h0M90 109h0M109 141h0M114 142h0M4 149h0M9 151h0M130 163h0" stroke="#645e78" stroke-width="4.5"/>
<path d="M31 6h0M134 5h0M164 5h0M17 14h0M75 12h0M14 17h0M109 18h0M47 35h0M135 31h0M84 47h0M92 45h0M128 43h0M12 53h0M154 61h0M9 73h0M106 69h0M118 69h0M86 76h0M171 87h0M87 93h0M96 99h0M156 97h0M160 98h0M6 117h0M82 134h0M164 134h0M45 148h0M135 146h0M114 158h0M2 162h0M66 160h0M118 160h0" stroke="#645e78" stroke-width="5.3"/>
</g>
</g></g>
<rect x="1319.3" y="447.3" width="162" height="159.2" fill="none" stroke="#4a4a4a" stroke-width="0.8"/>
<line x1="1445.8" y1="598.6" x2="1475.6" y2="598.6" stroke="#111" stroke-width="1.5" stroke-linecap="butt"/>
<defs><filter id="n4" x="0" y="0" width="1" height="1" color-interpolation-filters="sRGB"><feTurbulence type="fractalNoise" baseFrequency="0.07" numOctaves="4" seed="13"/><feColorMatrix type="matrix" values="0.45 0.1 0 0 0.35 0.45 0.06 0 0 0.33 0.45 -0.06 0 0 0.46 0 0 0 0 1"/></filter><filter id="d4" x="0" y="0" width="1" height="1" color-interpolation-filters="sRGB"><feTurbulence type="fractalNoise" baseFrequency="0.11" numOctaves="2" seed="63" result="t"/><feDisplacementMap in="SourceGraphic" in2="t" scale="4" xChannelSelector="R" yChannelSelector="G"/><feGaussianBlur stdDeviation="1.2"/></filter><clipPath id="c4"><rect width="160.8" height="163.1"/></clipPath></defs>
<g transform="translate(981.3 613.2)"><g clip-path="url(#c4)">
<rect width="160.8" height="163.1" fill="#9e95a8"/>
<rect width="160.8" height="163.1" filter="url(#n4)"/>
<g fill="none" stroke-linecap="round" filter="url(#d4)">
<path d="M14 -3h0M55 6h0M76 6h0M20 13h0M46 11h0M100 11h0M166 10h0M15 20h0M74 20h0M101 20h0M153 16h0M164 20h0M166 19h0M72 23h0M8 28h0M35 28h0M96 28h0M108 27h0M124 29h0M144 30h0M148 31h0M169 32h0M8 33h0M61 38h0M65 37h0M104 37h0M55 41h0M82 44h0M48 47h0M111 48h0M118 47h0M158 48h0M25 54h0M63 55h0M76 54h0M105 52h0M115 51h0M46 58h0M81 57h0M101 60h0M14 67h0M36 65h0M128 64h0M53 72h0M84 72h0M91 72h0M105 71h0M117 70h0M131 74h0M141 71h0M157 74h0M68 78h0M90 79h0M101 80h0M126 77h0M136 76h0M-1 85h0M14 82h0M21 86h0M36 86h0M41 84h0M71 81h0M77 86h0M129 81h0M153 80h0M108 89h0M44 93h0M64 96h0M71 97h0M79 93h0M93 97h0M133 93h0M54 100h0M83 100h0M122 102h0M151 104h0M163 102h0M24 113h0M31 114h0M142 114h0M86 117h0M144 121h0M32 123h0M37 127h0M82 123h0M141 122h0M6 129h0M74 128h0M95 133h0M107 128h0M68 135h0M87 136h0M105 135h0M134 134h0M1 145h0M42 145h0M164 141h0M24 148h0M49 148h0M88 148h0M94 148h0M160 150h0M170 147h0M27 153h0M45 157h0M67 156h0M158 156h0M32 162h0M78 162h0M117 160h0M146 161h0M161 161h0M4 167h0M45 167h0M75 164h0M97 167h0M157 164h0" stroke="#545484" stroke-width="3.8"/>
<path d="M61 -2h0M129 -3h0M165 -1h0M42 4h0M69 8h0M135 8h0M142 4h0M158 4h0M13 10h0M39 12h0M61 12h0M74 10h0M94 11h0M58 16h0M67 16h0M89 17h0M118 19h0M123 20h0M144 16h0M149 16h0M53 26h0M77 24h0M78 29h0M117 31h0M133 29h0M154 28h0M120 36h0M140 35h0M151 34h0M165 35h0M1 40h0M24 39h0M32 42h0M35 40h0M87 40h0M136 39h0M148 43h0M42 49h0M66 45h0M123 49h0M140 48h0M151 50h0M69 56h0M96 52h0M110 54h0M42 59h0M54 57h0M88 58h0M108 60h0M166 59h0M96 64h0M103 64h0M118 63h0M-1 73h0M39 69h0M46 71h0M58 69h0M68 72h0M166 72h0M23 79h0M57 78h0M148 78h0M162 75h0M120 85h0M10 89h0M32 89h0M54 91h0M76 91h0M90 88h0M140 88h0M11 98h0M25 93h0M162 94h0M73 102h0M98 100h0M115 100h0M60 105h0M127 109h0M154 105h0M4 111h0M48 115h0M95 113h0M101 111h0M129 111h0M5 117h0M34 117h0M70 118h0M101 118h0M12 126h0M16 127h0M49 124h0M94 123h0M42 130h0M53 130h0M57 133h0M98 129h0M120 133h0M144 133h0M1 137h0M30 139h0M64 136h0M59 142h0M31 149h0M37 147h0M63 151h0M72 150h0M129 147h0M143 148h0M34 155h0M71 154h0M92 156h0M132 155h0M22 162h0M57 161h0M171 162h0M118 164h0M128 168h0" stroke="#545484" stroke-width="4.5"/>
<path d="M40 2h0M48 -0h0M70 -0h0M104 1h0M110 1h0M141 0h0M144 -2h0M131 6h0M0 11h0M68 11h0M125 11h0M10 19h0M20 20h0M97 20h0M40 21h0M59 24h0M87 24h0M94 22h0M106 21h0M21 29h0M29 27h0M11 36h0M27 38h0M48 35h0M95 39h0M102 43h0M114 43h0M142 42h0M169 44h0M4 49h0M12 50h0M148 48h0M10 56h0M17 51h0M55 55h0M84 55h0M128 54h0M135 56h0M141 56h0M35 61h0M64 58h0M113 57h0M135 57h0M1 63h0M44 66h0M68 64h0M83 67h0M139 65h0M24 73h0M113 70h0M143 74h0M5 80h0M78 80h0M167 78h0M66 83h0M159 82h0M50 90h0M83 92h0M100 88h0M54 94h0M101 95h0M148 94h0M154 97h0M10 104h0M37 100h0M90 101h0M171 102h0M1 105h0M64 106h0M88 106h0M140 108h0M72 113h0M76 115h0M115 111h0M133 115h0M149 113h0M170 113h0M13 119h0M19 118h0M111 119h0M151 119h0M23 123h0M41 127h0M68 122h0M147 124h0M17 132h0M47 130h0M68 129h0M165 133h0M25 134h0M38 138h0M43 138h0M118 135h0M167 138h0M28 142h0M95 141h0M110 143h0M148 143h0M151 141h0M161 140h0M110 149h0M108 156h0M123 152h0M154 155h0M42 158h0M121 161h0M25 168h0M55 168h0M86 168h0" stroke="#545484" stroke-width="5.3"/>
<path d="M82 2h0M88 -2h0M153 -0h0M105 12h0M114 12h0M8 21h0M12 22h0M87 28h0M70 38h0M94 33h0M132 34h0M79 41h0M130 43h0M53 46h0M165 46h0M154 56h0M167 55h0M60 58h0M125 57h0M164 64h0M171 65h0M157 77h0M44 82h0M35 94h0M106 98h0M137 95h0M30 101h0M60 99h0M156 102h0M32 109h0M147 109h0M17 112h0M58 114h0M85 113h0M107 114h0M120 115h0M153 114h0M57 121h0M66 119h0M94 119h0M121 117h0M2 126h0M54 126h0M88 125h0M100 123h0M130 122h0M160 124h0M170 127h0M110 130h0M125 129h0M139 130h0M107 136h0M31 141h0M131 141h0M104 148h0M120 149h0M11 155h0M121 155h0M17 159h0M52 160h0M30 168h0M64 167h0M90 165h0M115 168h0M130 165h0" stroke="#605c86" stroke-width="3.8"/>
<path d="M100 -2h0M18 3h0M61 5h0M118 5h0M125 7h0M161 4h0M53 14h0M79 10h0M134 11h0M1 18h0M50 20h0M83 20h0M138 18h0M47 21h0M113 25h0M151 25h0M102 32h0M44 42h0M160 43h0M-3 46h0M62 49h0M71 50h0M87 45h0M99 48h0M121 56h0M160 51h0M4 58h0M160 58h0M21 67h0M125 67h0M15 71h0M22 70h0M71 69h0M102 69h0M98 78h0M25 83h0M97 84h0M106 86h0M124 80h0M143 85h0M20 87h0M95 89h0M45 100h0M129 104h0M54 105h0M72 109h0M95 105h0M7 113h0M161 112h0M0 116h0M37 120h0M47 120h0M81 116h0M158 119h0M77 126h0M157 123h0M86 129h0M55 137h0M127 139h0M146 135h0M163 135h0M8 141h0M46 145h0M84 142h0M103 141h0M55 147h0M85 149h0M118 151h0M137 148h0M0 155h0M38 155h0M52 153h0M87 154h0M139 154h0M145 154h0M36 161h0M62 159h0M71 159h0M93 159h0M134 162h0M19 165h0" stroke="#605c86" stroke-width="4.5"/>
<path d="M64 -2h0M93 -0h0M120 3h0M127 -0h0M156 -0h0M4 5h0M90 7h0M103 8h0M5 11h0M119 13h0M136 11h0M153 13h0M161 14h0M108 18h0M66 24h0M124 25h0M140 22h0M144 25h0M1 31h0M42 27h0M83 31h0M127 31h0M18 35h0M55 38h0M147 36h0M65 40h0M18 50h0M93 47h0M42 51h0M147 56h0M1 62h0M15 58h0M94 60h0M8 63h0M28 66h0M88 64h0M134 66h0M148 64h0M153 65h0M36 75h0M42 79h0M113 76h0M51 83h0M57 81h0M85 86h0M93 85h0M114 81h0M35 87h0M61 90h0M138 89h0M149 88h0M162 91h0M169 89h0M1 96h0M111 97h0M121 94h0M125 96h0M1 101h0M18 100h0M101 99h0M139 103h0M40 107h0M82 104h0M105 106h0M161 109h0M163 105h0M91 114h0M104 122h0M133 119h0M138 117h0M163 120h0M35 130h0M11 137h0M18 135h0M47 136h0M122 137h0M153 136h0M51 141h0M72 143h0M81 145h0M101 143h0M118 142h0M139 144h0M19 148h0M21 155h0M113 155h0M166 156h0M4 159h0M102 161h0M15 164h0M38 166h0M58 165h0M78 164h0M164 165h0" stroke="#605c86" stroke-width="5.3"/>
<path d="M6 -0h0M47 8h0M95 7h0M85 11h0M63 18h0M118 25h0M48 31h0M69 28h0M2 36h0M35 38h0M37 36h0M4 53h0M27 61h0M17 79h0M30 77h0M82 77h0M14 90h0M129 89h0M154 88h0M160 97h0M111 99h0M110 107h0M110 124h0M115 127h0M12 129h0M75 138h0M96 136h0M13 142h0M78 150h0M144 167h0" stroke="#7a6450" stroke-width="3.4"/>
<path d="M54 -1h0M129 19h0M58 32h0M102 37h0M111 38h0M17 39h0M27 49h0M36 46h0M132 50h0M47 52h0M4 72h0M7 80h0M110 77h0M140 81h0M124 90h0M5 96h0M116 107h0M45 112h0M125 118h0M62 123h0M138 123h0M-2 131h0M77 132h0M135 131h0M142 136h0M5 153h0M59 157h0M83 159h0M90 163h0M130 158h0" stroke="#7a6450" stroke-width="4.0"/>
<path d="M80 5h0M32 15h0M65 31h0M80 33h0M32 52h0M87 54h0M22 62h0M116 57h0M142 61h0M107 65h0M124 71h0M151 72h0M116 90h0M20 109h0M133 107h0M25 120h0M160 132h0M2 151h0M139 159h0M105 166h0" stroke="#7a6450" stroke-width="4.8"/>
</g>
</g></g>
<rect x="980.7" y="612.6" width="162" height="164.3" fill="none" stroke="#000" stroke-width="2.4"/>
<line x1="1106.6" y1="768.4" x2="1136.4" y2="768.4" stroke="#111" stroke-width="1.5" stroke-linecap="butt"/>
<defs><filter id="n5" x="0" y="0" width="1" height="1" color-interpolation-filters="sRGB"><feTurbulence type="fractalNoise" baseFrequency="0.07" numOctaves="4" seed="14"/><feColorMatrix type="matrix" values="0.45 0.11 0 0 0.33 0.45 0.06 0 0 0.32 0.45 -0.06 0 0 0.46 0 0 0 0 1"/></filter><filter id="d5" x="0" y="0" width="1" height="1" color-interpolation-filters="sRGB"><feTurbulence type="fractalNoise" baseFrequency="0.11" numOctaves="2" seed="64" result="t"/><feDisplacementMap in="SourceGraphic" in2="t" scale="4" xChannelSelector="R" yChannelSelector="G"/><feGaussianBlur stdDeviation="1.2"/></filter><clipPath id="c5"><rect width="160.5" height="163.1"/></clipPath></defs>
<g transform="translate(1150.5 613.2)"><g clip-path="url(#c5)">
<rect width="160.5" height="163.1" fill="#9b92a6"/>
<rect width="160.5" height="163.1" filter="url(#n5)"/>
<g fill="none" stroke-linecap="round" filter="url(#d5)">
<path d="M8 2h0M35 -2h0M111 1h0M28 8h0M119 9h0M137 8h0M83 15h0M87 14h0M65 22h0M162 22h0M33 26h0M37 27h0M74 28h0M93 28h0M102 28h0M19 31h0M124 37h0M43 41h0M68 38h0M77 43h0M136 42h0M33 49h0M71 46h0M94 49h0M131 47h0M169 49h0M42 53h0M82 53h0M149 53h0M161 51h0M32 59h0M62 61h0M79 60h0M108 59h0M25 71h0M62 70h0M65 68h0M32 72h0M39 72h0M51 74h0M81 73h0M1 79h0M90 82h0M115 78h0M167 82h0M53 88h0M102 87h0M160 87h0M38 96h0M118 92h0M152 93h0M43 101h0M129 100h0M22 110h0M67 110h0M98 109h0M163 106h0M91 114h0M112 114h0M58 121h0M80 124h0M160 121h0M130 136h0M133 133h0M29 139h0M92 145h0M-0 146h0M46 147h0M54 147h0M105 147h0M126 146h0M28 156h0M138 153h0M62 164h0M27 168h0M34 168h0M103 169h0M152 171h0" stroke="#555586" stroke-width="4.6"/>
<path d="M-3 1h0M58 -2h0M82 -2h0M78 5h0M88 7h0M100 9h0M166 5h0M-2 16h0M17 15h0M19 15h0M44 11h0M63 14h0M107 13h0M143 13h0M155 12h0M28 21h0M99 18h0M130 20h0M137 22h0M7 24h0M151 25h0M11 34h0M80 33h0M129 31h0M159 33h0M6 38h0M16 43h0M144 42h0M152 37h0M43 46h0M59 49h0M65 47h0M81 46h0M138 47h0M145 47h0M7 57h0M13 56h0M54 51h0M92 53h0M96 54h0M140 52h0M72 61h0M86 62h0M-2 68h0M8 66h0M39 67h0M54 77h0M109 77h0M117 72h0M145 71h0M22 80h0M29 82h0M43 81h0M50 80h0M76 84h0M106 79h0M17 86h0M139 90h0M149 90h0M7 93h0M92 94h0M145 94h0M6 99h0M31 98h0M89 100h0M113 101h0M124 102h0M144 98h0M28 108h0M50 107h0M26 114h0M31 115h0M53 115h0M139 115h0M171 116h0M25 122h0M96 125h0M12 125h0M61 126h0M101 131h0M162 129h0M16 132h0M33 135h0M70 136h0M113 135h0M1 144h0M59 141h0M63 139h0M77 145h0M125 142h0M134 143h0M140 139h0M22 150h0M69 149h0M85 151h0M122 158h0M157 156h0M-2 163h0M49 162h0M112 159h0M148 162h0M5 167h0M97 170h0M141 167h0M145 167h0" stroke="#555586" stroke-width="5.4"/>
<path d="M67 -2h0M66 5h0M69 5h0M106 4h0M123 9h0M129 6h0M30 16h0M113 17h0M126 11h0M151 12h0M93 22h0M123 19h0M66 25h0M99 26h0M121 28h0M143 26h0M23 31h0M50 34h0M57 35h0M89 37h0M168 33h0M35 43h0M115 38h0M84 49h0M161 45h0M22 53h0M91 60h0M81 67h0M130 66h0M28 74h0M95 74h0M128 75h0M40 81h0M67 80h0M129 80h0M149 83h0M1 90h0M13 86h0M32 89h0M88 90h0M116 88h0M156 89h0M16 94h0M29 95h0M137 93h0M74 101h0M137 100h0M169 98h0M10 108h0M18 109h0M69 116h0M76 113h0M16 124h0M37 120h0M115 121h0M167 120h0M44 127h0M51 130h0M71 127h0M149 127h0M154 125h0M153 135h0M17 143h0M52 144h0M74 143h0M115 140h0M163 140h0M9 147h0M61 151h0M136 149h0M153 146h0M85 156h0M14 161h0M76 159h0M165 162h0M71 170h0M114 167h0M163 167h0" stroke="#555586" stroke-width="6.3"/>
<path d="M129 2h0M149 -3h0M148 6h0M56 16h0M73 11h0M166 15h0M7 21h0M39 23h0M50 19h0M89 20h0M114 20h0M149 20h0M20 26h0M53 27h0M141 35h0M148 35h0M59 42h0M29 46h0M20 62h0M24 62h0M148 62h0M113 69h0M155 76h0M164 74h0M169 72h0M160 82h0M93 90h0M170 85h0M68 97h0M160 97h0M162 95h0M77 103h0M155 100h0M161 102h0M0 105h0M102 111h0M148 106h0M17 116h0M145 116h0M5 124h0M77 121h0M125 119h0M27 130h0M156 135h0M39 149h0M97 147h0M121 150h0M156 149h0M165 149h0M12 158h0M10 160h0M10 166h0M39 166h0M62 171h0M110 171h0M134 170h0" stroke="#615d88" stroke-width="4.3"/>
<path d="M102 -2h0M122 -2h0M165 3h0M14 9h0M40 9h0M96 8h0M154 4h0M137 15h0M110 20h0M44 26h0M58 27h0M157 26h0M42 36h0M64 31h0M111 31h0M54 39h0M107 43h0M127 42h0M102 50h0M1 53h0M62 54h0M102 57h0M164 55h0M41 62h0M102 60h0M142 67h0M103 76h0M124 74h0M132 79h0M27 87h0M69 87h0M130 90h0M80 97h0M131 93h0M46 103h0M91 103h0M111 101h0M135 109h0M144 105h0M159 111h0M16 131h0M31 127h0M126 130h0M42 132h0M119 133h0M144 133h0M165 135h0M9 143h0M103 142h0M29 148h0M78 147h0M102 158h0M114 152h0M158 154h0M82 163h0M145 160h0M56 170h0" stroke="#615d88" stroke-width="5.1"/>
<path d="M52 -0h0M34 5h0M153 21h0M170 18h0M17 24h0M132 30h0M167 27h0M117 31h0M14 46h0M119 46h0M126 47h0M70 57h0M73 51h0M114 56h0M118 52h0M12 63h0M46 63h0M55 58h0M12 68h0M42 66h0M96 68h0M63 71h0M88 74h0M15 81h0M62 89h0M76 89h0M96 98h0M106 95h0M104 104h0M82 110h0M44 116h0M125 117h0M159 113h0M70 121h0M105 120h0M120 121h0M135 125h0M2 137h0M5 135h0M50 137h0M31 140h0M87 140h0M154 141h0M12 148h0M1 154h0M131 154h0M169 154h0M32 165h0M40 161h0M127 160h0M159 161h0" stroke="#615d88" stroke-width="6.0"/>
<path d="M59 10h0M14 22h0M56 21h0M81 29h0M156 32h0M27 52h0M90 67h0M151 69h0M119 82h0M107 90h0M45 93h0M118 110h0M129 110h0M5 118h0M130 116h0M2 123h0M46 121h0M151 122h0M7 125h0M166 129h0M19 138h0M84 136h0M21 157h0M40 158h0M107 155h0M45 160h0" stroke="#7a604a" stroke-width="3.9"/>
<path d="M15 -3h0M19 -3h0M88 -3h0M132 -2h0M143 -2h0M5 8h0M51 9h0M128 27h0M6 31h0M104 36h0M1 43h0M96 39h0M51 46h0M127 55h0M136 56h0M130 60h0M138 61h0M156 61h0M78 70h0M103 69h0M167 67h0M4 72h0M54 103h0M119 112h0M151 112h0M32 123h0M93 121h0M99 133h0M43 140h0" stroke="#7a604a" stroke-width="4.6"/>
<path d="M99 2h0M119 13h0M79 21h0M70 31h0M94 35h0M31 40h0M89 44h0M121 40h0M111 46h0M114 60h0M121 63h0M160 60h0M119 65h0M136 70h0M125 88h0M3 96h0M58 93h0M8 101h0M27 99h0M14 116h0M99 116h0M37 135h0M59 133h0M145 144h0M171 139h0M31 153h0M46 153h0M80 155h0M88 163h0M16 167h0M78 170h0M125 170h0" stroke="#7a604a" stroke-width="5.4"/>
</g>
</g></g>
<rect x="1149.9" y="612.6" width="161.7" height="164.3" fill="none" stroke="#000" stroke-width="2.4"/>
<line x1="1275.5" y1="768.4" x2="1305.3" y2="768.4" stroke="#111" stroke-width="1.5" stroke-linecap="butt"/>
<defs><filter id="n6" x="0" y="0" width="1" height="1" color-interpolation-filters="sRGB"><feTurbulence type="fractalNoise" baseFrequency="0.07" numOctaves="4" seed="15"/><feColorMatrix type="matrix" values="0.45 0.11 0 0 0.32 0.45 0.06 0 0 0.28 0.45 -0.06 0 0 0.39 0 0 0 0 1"/></filter><filter id="d6" x="0" y="0" width="1" height="1" color-interpolation-filters="sRGB"><feTurbulence type="fractalNoise" baseFrequency="0.11" numOctaves="2" seed="65" result="t"/><feDisplacementMap in="SourceGraphic" in2="t" scale="4" xChannelSelector="R" yChannelSelector="G"/><feGaussianBlur stdDeviation="1.2"/></filter><clipPath id="c6"><rect width="161.6" height="163.1"/></clipPath></defs>
<g transform="translate(1318.8 613.2)"><g clip-path="url(#c6)">
<rect width="161.6" height="163.1" fill="#998a94"/>
<rect width="161.6" height="163.1" filter="url(#n6)"/>
<g fill="none" stroke-linecap="round" filter="url(#d6)">
<path d="M25 -2h0M46 1h0M60 4h0M68 5h0M88 9h0M113 6h0M124 11h0M31 20h0M40 19h0M73 19h0M91 16h0M107 16h0M147 16h0M154 17h0M159 19h0M26 24h0M95 22h0M111 25h0M131 27h0M9 33h0M46 32h0M33 40h0M42 37h0M50 37h0M58 36h0M160 37h0M46 45h0M73 44h0M82 45h0M130 46h0M33 48h0M121 49h0M139 47h0M157 52h0M51 54h0M116 58h0M127 56h0M1 64h0M50 65h0M81 64h0M125 65h0M142 63h0M43 67h0M77 69h0M121 69h0M103 75h0M152 73h0M65 78h0M125 81h0M172 79h0M32 88h0M40 84h0M147 85h0M157 86h0M16 94h0M84 92h0M134 91h0M-2 98h0M12 98h0M73 97h0M83 98h0M94 101h0M127 98h0M19 107h0M45 105h0M68 106h0M106 105h0M149 108h0M160 105h0M56 112h0M105 113h0M127 114h0M22 120h0M95 116h0M149 120h0M160 120h0M130 123h0M140 125h0M156 125h0M16 131h0M56 128h0M85 128h0M164 128h0M-1 136h0M8 135h0M16 142h0M68 142h0M81 140h0M107 141h0M115 146h0M122 144h0M43 151h0M94 147h0M141 147h0M153 150h0M56 154h0M89 157h0M57 160h0M60 160h0M24 166h0M48 168h0M124 166h0" stroke="#5a5680" stroke-width="3.8"/>
<path d="M12 -2h0M40 2h0M124 -1h0M167 -2h0M73 7h0M5 15h0M81 14h0M25 17h0M130 21h0M11 23h0M22 27h0M34 22h0M77 27h0M140 26h0M98 33h0M71 39h0M92 39h0M99 35h0M131 35h0M139 35h0M110 42h0M161 41h0M56 47h0M60 50h0M111 48h0M150 50h0M4 57h0M29 53h0M9 63h0M57 59h0M87 63h0M133 63h0M168 64h0M4 69h0M34 70h0M84 67h0M92 66h0M98 66h0M156 69h0M165 68h0M-1 73h0M19 75h0M88 73h0M109 73h0M27 81h0M40 79h0M86 80h0M150 79h0M64 88h0M102 90h0M134 88h0M164 88h0M1 92h0M77 96h0M123 94h0M127 93h0M141 92h0M18 98h0M68 99h0M117 100h0M84 108h0M8 120h0M153 117h0M11 121h0M108 126h0M128 128h0M153 129h0M171 131h0M47 134h0M56 140h0M68 136h0M99 135h0M119 139h0M26 142h0M54 141h0M20 150h0M120 146h0M143 151h0M159 147h0M80 154h0M20 163h0M72 162h0M12 167h0M135 168h0M140 170h0" stroke="#5a5680" stroke-width="4.5"/>
<path d="M18 0h0M150 2h0M18 6h0M108 8h0M119 5h0M134 6h0M27 13h0M35 15h0M91 15h0M94 13h0M159 10h0M42 16h0M105 27h0M145 26h0M15 33h0M41 31h0M130 29h0M19 36h0M122 37h0M167 36h0M96 45h0M78 52h0M81 54h0M143 56h0M151 53h0M155 58h0M161 56h0M117 68h0M148 70h0M16 73h0M96 74h0M121 72h0M146 75h0M165 74h0M11 84h0M57 83h0M71 83h0M120 82h0M144 79h0M6 86h0M112 88h0M124 89h0M141 88h0M52 95h0M157 92h0M164 91h0M50 101h0M140 101h0M26 108h0M49 104h0M60 108h0M156 105h0M171 104h0M22 113h0M76 112h0M111 109h0M136 112h0M167 118h0M71 125h0M75 124h0M81 126h0M88 126h0M124 125h0M1 129h0M77 131h0M121 128h0M146 128h0M59 138h0M85 135h0M125 134h0M147 134h0M1 140h0M172 141h0M84 148h0M110 147h0M124 150h0M44 156h0M63 156h0M105 156h0M78 161h0M119 159h0M139 162h0M166 161h0M64 170h0M87 170h0" stroke="#5a5680" stroke-width="5.3"/>
<path d="M2 -0h0M34 -0h0M98 -2h0M117 2h0M44 8h0M91 5h0M57 11h0M77 15h0M139 11h0M119 18h0M171 19h0M163 25h0M93 30h0M113 34h0M62 40h0M150 39h0M3 44h0M40 45h0M100 45h0M13 52h0M98 48h0M132 48h0M18 55h0M75 54h0M169 53h0M16 61h0M110 61h0M51 68h0M131 73h0M71 88h0M92 91h0M146 93h0M36 107h0M128 108h0M9 113h0M91 112h0M147 111h0M71 118h0M127 116h0M141 117h0M19 126h0M43 123h0M39 128h0M23 137h0M43 142h0M89 140h0M133 143h0M67 152h0M77 149h0M38 156h0M99 155h0M162 155h0M91 162h0M147 162h0M32 169h0M94 169h0M108 169h0" stroke="#655d82" stroke-width="3.8"/>
<path d="M55 -2h0M111 -1h0M2 4h0M52 6h0M147 4h0M12 13h0M146 13h0M165 11h0M7 18h0M117 27h0M127 24h0M28 32h0M85 33h0M115 46h0M120 42h0M156 46h0M2 52h0M9 49h0M50 52h0M84 49h0M92 48h0M166 48h0M89 56h0M32 62h0M153 61h0M108 68h0M129 71h0M1 80h0M93 82h0M149 85h0M25 95h0M8 100h0M145 97h0M154 101h0M33 105h0M100 107h0M40 113h0M80 113h0M116 113h0M116 118h0M48 123h0M101 132h0M115 130h0M14 134h0M78 135h0M141 134h0M8 143h0M31 145h0M38 145h0M58 144h0M163 145h0M14 146h0M56 149h0M165 149h0M2 158h0M16 157h0M26 152h0M53 156h0M74 154h0M93 153h0M40 163h0M5 168h0M154 170h0" stroke="#655d82" stroke-width="4.5"/>
<path d="M63 -2h0M82 -2h0M103 -2h0M132 -3h0M148 -1h0M9 6h0M24 8h0M79 4h0M140 6h0M153 4h0M167 8h0M133 14h0M15 17h0M97 16h0M112 16h0M136 16h0M85 27h0M152 27h0M160 28h0M6 33h0M61 29h0M66 33h0M54 44h0M67 58h0M19 60h0M61 62h0M137 59h0M74 69h0M83 73h0M139 74h0M15 82h0M162 79h0M85 84h0M117 91h0M160 100h0M73 108h0M80 108h0M92 105h0M115 108h0M94 114h0M130 111h0M32 117h0M99 120h0M133 117h0M0 125h0M99 127h0M151 126h0M92 132h0M143 130h0M75 142h0M95 144h0M64 146h0M90 150h0M10 156h0M111 157h0M30 164h0M104 164h0M112 163h0M39 168h0M49 167h0M59 166h0M102 170h0M148 168h0" stroke="#655d82" stroke-width="5.3"/>
<path d="M5 -2h0M70 -0h0M158 -1h0M67 20h0M-1 23h0M5 24h0M63 26h0M137 32h0M169 33h0M8 38h0M90 53h0M102 53h0M99 63h0M34 79h0M108 78h0M20 88h0M55 86h0M73 88h0M118 87h0M10 91h0M100 94h0M171 96h0M109 101h0M165 97h0M12 113h0M163 114h0M3 117h0M35 117h0M25 127h0M63 122h0M119 122h0M26 133h0M40 139h0M29 148h0M106 148h0M123 154h0M134 157h0M36 161h0M50 162h0M150 159h0M79 169h0" stroke="#785c46" stroke-width="3.4"/>
<path d="M34 8h0M20 11h0M119 10h0M150 11h0M60 19h0M86 18h0M39 26h0M49 24h0M49 32h0M76 35h0M106 39h0M147 38h0M56 46h0M114 53h0M118 56h0M161 65h0M8 67h0M143 70h0M73 73h0M116 72h0M44 83h0M113 80h0M134 83h0M16 88h0M109 95h0M89 98h0M103 97h0M8 105h0M119 105h0M140 104h0M-0 112h0M158 113h0M45 117h0M58 119h0M4 124h0M143 122h0M165 123h0M52 129h0M107 130h0M110 135h0M130 138h0M126 142h0M140 145h0M50 147h0M143 156h0M171 155h0M0 161h0M94 163h0M126 159h0" stroke="#785c46" stroke-width="4.0"/>
<path d="M73 -2h0M140 1h0M35 8h0M101 8h0M129 7h0M0 11h0M78 20h0M144 21h0M54 24h0M149 29h0M-0 39h0M81 36h0M112 37h0M133 43h0M151 46h0M12 56h0M36 53h0M59 56h0M69 64h0M117 60h0M20 67h0M57 69h0M132 70h0M169 66h0M8 75h0M37 72h0M40 72h0M47 75h0M100 83h0M50 89h0M56 91h0M56 98h0M50 111h0M63 114h0M71 114h0M88 115h0M123 121h0M36 122h0M103 126h0M29 130h0M87 135h0M161 139h0M98 146h0M32 158h0M128 158h0M86 163h0M72 169h0" stroke="#785c46" stroke-width="4.8"/>
</g>
</g></g>
<rect x="1318.2" y="612.6" width="162.8" height="164.3" fill="none" stroke="#000" stroke-width="2.4"/>
<line x1="1444.9" y1="768.4" x2="1474.7" y2="768.4" stroke="#111" stroke-width="1.5" stroke-linecap="butt"/>
<defs><filter id="n7" x="0" y="0" width="1" height="1" color-interpolation-filters="sRGB"><feTurbulence type="fractalNoise" baseFrequency="0.07" numOctaves="4" seed="16"/><feColorMatrix type="matrix" values="0.45 0.06 0 0 0.41 0.45 0.04 0 0 0.38 0.45 -0.02 0 0 0.44 0 0 0 0 1"/></filter><filter id="d7" x="0" y="0" width="1" height="1" color-interpolation-filters="sRGB"><feTurbulence type="fractalNoise" baseFrequency="0.11" numOctaves="2" seed="66" result="t"/><feDisplacementMap in="SourceGraphic" in2="t" scale="4" xChannelSelector="R" yChannelSelector="G"/><feGaussianBlur stdDeviation="1.2"/></filter><clipPath id="c7"><rect width="158.9" height="159.6"/></clipPath></defs>
<g transform="translate(981.9 782.3)"><g clip-path="url(#c7)">
<rect width="158.9" height="159.6" fill="#aaa0a6"/>
<rect width="158.9" height="159.6" filter="url(#n7)"/>
<g fill="none" stroke-linecap="round" filter="url(#d7)">
<path d="M12 -3h0M49 1h0M145 1h0M131 7h0M91 11h0M157 12h0M163 12h0M5 16h0M43 16h0M143 18h0M160 16h0M171 19h0M64 29h0M47 38h0M71 34h0M126 42h0M150 49h0M10 54h0M71 55h0M95 54h0M117 54h0M59 60h0M117 61h0M160 57h0M1 67h0M11 64h0M90 64h0M109 67h0M144 68h0M0 74h0M24 69h0M107 69h0M119 69h0M140 73h0M38 79h0M123 76h0M148 76h0M41 82h0M67 89h0M96 88h0M117 87h0M78 93h0M143 95h0M17 100h0M36 103h0M52 103h0M77 99h0M82 100h0M160 103h0M50 109h0M60 105h0M81 109h0M156 107h0M70 115h0M115 111h0M15 118h0M138 118h0M143 117h0M16 123h0M26 123h0M35 127h0M107 124h0M148 123h0M156 126h0M163 127h0M45 130h0M65 129h0M120 133h0M134 131h0M34 138h0M57 136h0M90 135h0M122 134h0M149 134h0M163 136h0M0 141h0M4 140h0M41 144h0M71 141h0M87 141h0M111 143h0M128 143h0M133 142h0M30 150h0M20 153h0M156 152h0M96 161h0M128 159h0M160 159h0" stroke="#483424" stroke-width="3.8"/>
<path d="M34 -1h0M93 -1h0M131 -1h0M151 -1h0M11 4h0M32 6h0M39 8h0M89 4h0M122 6h0M147 7h0M82 11h0M61 20h0M68 16h0M77 17h0M150 18h0M5 22h0M97 22h0M160 22h0M45 27h0M58 29h0M85 36h0M100 36h0M153 35h0M165 38h0M71 42h0M74 41h0M107 41h0M122 42h0M171 39h0M16 47h0M68 47h0M133 49h0M145 46h0M156 48h0M165 48h0M55 52h0M84 60h0M51 64h0M114 66h0M20 69h0M88 77h0M105 76h0M2 85h0M31 84h0M59 84h0M66 80h0M126 85h0M134 81h0M148 92h0M11 94h0M66 96h0M88 93h0M97 96h0M113 93h0M119 97h0M134 98h0M164 97h0M64 100h0M94 100h0M115 100h0M122 98h0M140 103h0M30 109h0M154 107h0M2 110h0M149 115h0M27 118h0M34 117h0M52 118h0M160 121h0M8 127h0M116 127h0M121 125h0M1 133h0M164 133h0M5 135h0M74 136h0M102 139h0M117 138h0M157 135h0M95 141h0M159 145h0M58 150h0M105 150h0M109 151h0M117 148h0M155 147h0M161 146h0M167 150h0M67 157h0M71 156h0M144 155h0M12 161h0M110 163h0M116 159h0M149 160h0" stroke="#483424" stroke-width="4.5"/>
<path d="M-2 0h0M5 1h0M65 2h0M117 0h0M42 5h0M100 5h0M134 8h0M140 5h0M2 10h0M59 9h0M75 9h0M154 18h0M-2 26h0M54 21h0M126 25h0M12 30h0M24 27h0M151 31h0M160 27h0M166 31h0M51 35h0M78 37h0M123 37h0M131 35h0M141 36h0M14 40h0M45 40h0M96 43h0M103 43h0M118 39h0M136 43h0M149 39h0M35 46h0M37 48h0M112 45h0M160 53h0M16 60h0M70 59h0M107 58h0M58 67h0M124 67h0M151 66h0M167 67h0M11 73h0M47 69h0M62 71h0M78 71h0M91 71h0M98 73h0M133 77h0M26 84h0M119 85h0M154 82h0M159 83h0M166 83h0M28 90h0M89 89h0M100 89h0M135 91h0M161 88h0M170 89h0M26 95h0M53 97h0M72 95h0M31 103h0M156 101h0M-2 107h0M13 108h0M38 112h0M58 112h0M142 113h0M20 118h0M79 117h0M121 120h0M126 117h0M2 125h0M27 123h0M47 124h0M57 125h0M63 124h0M91 127h0M129 127h0M140 122h0M11 130h0M88 131h0M113 130h0M123 132h0M45 138h0M13 145h0M52 140h0M99 140h0M147 141h0M10 150h0M46 150h0M47 148h0M90 150h0M96 151h0M120 148h0M129 151h0M140 146h0M15 152h0M42 152h0M88 152h0M93 156h0M101 156h0M114 156h0M118 153h0M164 152h0M48 158h0M90 159h0M133 161h0M153 159h0" stroke="#483424" stroke-width="5.3"/>
<path d="M55 0h0M74 1h0M50 5h0M57 8h0M77 6h0M25 10h0M40 13h0M54 9h0M85 12h0M140 9h0M54 19h0M100 17h0M115 17h0M33 26h0M91 23h0M108 23h0M147 22h0M1 31h0M105 29h0M5 40h0M36 41h0M21 49h0M46 46h0M120 52h0M28 60h0M65 59h0M126 58h0M130 58h0M127 64h0M9 74h0M25 76h0M72 77h0M131 79h0M74 81h0M55 91h0M141 90h0M40 95h0M151 99h0M46 105h0M18 113h0M21 112h0M52 110h0M65 115h0M131 110h0M166 111h0M9 120h0M76 122h0M21 133h0M105 128h0M137 131h0M157 128h0M15 134h0M23 135h0M48 137h0M135 138h0M18 141h0M135 146h0M53 152h0M141 157h0M65 163h0M69 159h0M143 158h0" stroke="#5e4a3a" stroke-width="3.6"/>
<path d="M98 0h0M111 5h0M13 12h0M147 10h0M7 18h0M28 20h0M164 23h0M15 31h0M68 28h0M123 32h0M145 27h0M153 32h0M2 36h0M41 38h0M82 41h0M1 50h0M88 49h0M22 53h0M40 54h0M47 56h0M131 56h0M148 54h0M2 57h0M39 62h0M144 62h0M31 74h0M67 71h0M130 70h0M143 73h0M158 73h0M164 74h0M27 80h0M45 75h0M157 76h0M14 86h0M19 83h0M105 82h0M0 95h0M32 93h0M150 94h0M158 96h0M12 104h0M24 103h0M56 102h0M129 103h0M6 106h0M26 106h0M132 107h0M102 113h0M125 112h0M133 113h0M92 119h0M33 128h0M73 131h0M96 130h0M95 139h0M61 145h0M80 143h0M139 145h0M154 142h0M163 143h0M14 147h0M2 153h0M7 157h0M25 154h0M35 157h0M82 154h0M151 155h0M14 162h0M43 160h0" stroke="#5e4a3a" stroke-width="4.3"/>
<path d="M27 2h0M59 3h0M140 -2h0M67 5h0M83 8h0M153 4h0M169 5h0M120 11h0M127 11h0M15 16h0M21 19h0M50 17h0M88 17h0M27 25h0M65 25h0M75 24h0M120 22h0M129 25h0M139 26h0M36 29h0M74 28h0M80 31h0M21 37h0M111 35h0M142 37h0M13 43h0M22 40h0M88 40h0M142 43h0M154 41h0M7 50h0M95 49h0M137 45h0M134 53h0M142 53h0M156 52h0M166 51h0M35 57h0M46 62h0M14 64h0M36 65h0M133 64h0M14 78h0M58 77h0M7 85h0M43 82h0M17 90h0M37 86h0M49 87h0M82 87h0M5 95h0M46 96h0M108 95h0M110 103h0M133 103h0M67 105h0M110 109h0M166 109h0M11 115h0M28 116h0M88 111h0M98 110h0M163 111h0M2 121h0M45 119h0M103 123h0M137 127h0M24 130h0M79 128h0M95 128h0M81 135h0M106 139h0M171 138h0M32 144h0M108 144h0M1 151h0M71 151h0M49 156h0M31 159h0M38 160h0M75 159h0M81 159h0M170 161h0" stroke="#5e4a3a" stroke-width="5.0"/>
<path d="M111 2h0M128 -1h0M5 14h0M21 11h0M122 20h0M128 16h0M18 25h0M94 27h0M56 40h0M63 41h0M26 49h0M17 56h0M136 57h0M38 73h0M88 69h0M113 72h0M10 76h0M75 78h0M121 91h0M155 89h0M125 97h0M108 106h0M118 107h0M81 113h0M107 117h0M133 118h0M44 127h0M68 125h0M9 138h0M63 136h0M45 143h0M107 152h0M123 162h0" stroke="#625c76" stroke-width="3.4"/>
<path d="M19 2h0M79 1h0M2 3h0M18 6h0M22 8h0M98 5h0M104 11h0M112 24h0M15 33h0M107 34h0M117 37h0M162 43h0M28 52h0M81 62h0M166 60h0M25 66h0M82 68h0M5 76h0M80 84h0M4 86h0M22 87h0M110 90h0M89 102h0M20 106h0M41 105h0M73 106h0M158 113h0M110 117h0M81 125h0M39 133h0M52 131h0M58 133h0M70 139h0M68 141h0M120 144h0M35 146h0M123 153h0M130 154h0" stroke="#625c76" stroke-width="4.0"/>
<path d="M42 -3h0M88 -0h0M105 -1h0M80 18h0M98 16h0M133 17h0M78 22h0M87 25h0M87 27h0M160 33h0M157 64h0M72 72h0M54 85h0M97 86h0M44 87h0M61 88h0M6 98h0M143 107h0M44 115h0M88 117h0M99 121h0M98 127h0M76 147h0M149 151h0M54 163h0M103 158h0" stroke="#625c76" stroke-width="4.8"/>
</g>
</g></g>
<rect x="981.9" y="782.3" width="158.9" height="159.6" fill="none" stroke="#4a4a4a" stroke-width="0.8"/>
<line x1="1105.3" y1="934" x2="1135.1" y2="934" stroke="#111" stroke-width="1.5" stroke-linecap="butt"/>
<defs><filter id="n8" x="0" y="0" width="1" height="1" color-interpolation-filters="sRGB"><feTurbulence type="fractalNoise" baseFrequency="0.07" numOctaves="4" seed="17"/><feColorMatrix type="matrix" values="0.45 0.06 0 0 0.45 0.45 0.04 0 0 0.42 0.45 -0.02 0 0 0.47 0 0 0 0 1"/></filter><filter id="d8" x="0" y="0" width="1" height="1" color-interpolation-filters="sRGB"><feTurbulence type="fractalNoise" baseFrequency="0.11" numOctaves="2" seed="67" result="t"/><feDisplacementMap in="SourceGraphic" in2="t" scale="4" xChannelSelector="R" yChannelSelector="G"/><feGaussianBlur stdDeviation="1.2"/></filter><clipPath id="c8"><rect width="159.6" height="159.6"/></clipPath></defs>
<g transform="translate(1150.4 782.3)"><g clip-path="url(#c8)">
<rect width="159.6" height="159.6" fill="#b3a9af"/>
<rect width="159.6" height="159.6" filter="url(#n8)"/>
<g fill="none" stroke-linecap="round" filter="url(#d8)">
<path d="M27 -0h0M105 0h0M13 7h0M63 5h0M66 9h0M122 5h0M142 7h0M154 5h0M30 14h0M73 14h0M78 12h0M11 17h0M16 22h0M38 22h0M78 21h0M127 19h0M1 28h0M39 26h0M43 25h0M92 35h0M157 34h0M-2 36h0M24 37h0M95 41h0M120 40h0M142 36h0M30 43h0M81 48h0M148 44h0M6 53h0M67 54h0M96 50h0M121 54h0M145 50h0M33 60h0M39 57h0M162 56h0M9 67h0M150 66h0M92 74h0M102 69h0M157 71h0M160 71h0M15 78h0M65 75h0M11 86h0M48 84h0M62 87h0M92 86h0M123 82h0M142 84h0M35 90h0M59 92h0M73 94h0M106 91h0M159 90h0M143 100h0M67 102h0M123 101h0M30 108h0M44 108h0M53 111h0M112 112h0M93 118h0M123 114h0M140 120h0M66 121h0M84 123h0M120 120h0M149 122h0M162 125h0M84 132h0M132 130h0M137 131h0M16 139h0M38 138h0M90 137h0M162 138h0M1 140h0M107 142h0M136 143h0M39 158h0M96 155h0M18 164h0M27 160h0M32 164h0M68 163h0M83 160h0M105 159h0M114 160h0M156 165h0" stroke="#5a4028" stroke-width="4.0"/>
<path d="M33 -2h0M96 0h0M40 7h0M148 5h0M171 6h0M41 11h0M103 15h0M131 11h0M143 12h0M156 15h0M54 22h0M82 26h0M114 27h0M5 34h0M12 32h0M31 34h0M126 35h0M18 44h0M75 43h0M121 46h0M159 43h0M90 59h0M127 56h0M153 56h0M24 62h0M27 65h0M47 63h0M117 67h0M158 63h0M170 70h0M86 79h0M105 78h0M129 80h0M137 78h0M114 83h0M7 88h0M27 92h0M50 91h0M24 106h0M26 111h0M84 107h0M88 111h0M106 108h0M79 118h0M84 115h0M144 117h0M165 116h0M20 122h0M26 125h0M53 125h0M77 126h0M110 123h0M28 131h0M33 129h0M56 132h0M111 132h0M63 136h0M126 139h0M150 138h0M41 140h0M3 149h0M52 153h0M123 157h0M138 154h0M151 157h0M10 163h0M44 160h0M95 163h0M121 163h0" stroke="#5a4028" stroke-width="4.7"/>
<path d="M13 -1h0M113 -3h0M132 1h0M136 2h0M152 -1h0M48 9h0M129 9h0M163 5h0M114 10h0M4 22h0M80 22h0M153 19h0M8 26h0M15 26h0M28 24h0M58 25h0M99 28h0M145 24h0M51 45h0M129 53h0M119 61h0M63 66h0M101 66h0M107 63h0M141 63h0M168 64h0M10 71h0M40 69h0M49 72h0M96 73h0M113 71h0M134 72h0M150 71h0M20 77h0M56 85h0M104 82h0M132 85h0M154 82h0M172 83h0M-0 91h0M80 90h0M87 92h0M93 91h0M132 92h0M137 90h0M168 93h0M5 96h0M19 100h0M23 97h0M85 100h0M131 99h0M88 105h0M108 105h0M13 108h0M21 111h0M60 108h0M67 113h0M135 112h0M31 118h0M114 119h0M156 116h0M91 120h0M22 135h0M73 138h0M120 138h0M143 134h0M28 140h0M91 145h0M100 140h0M73 150h0M92 150h0M131 151h0M142 151h0M5 153h0M82 158h0M129 157h0M138 162h0M146 162h0M161 161h0" stroke="#5a4028" stroke-width="5.5"/>
<path d="M102 1h0M147 -1h0M8 12h0M93 13h0M136 11h0M92 26h0M122 26h0M139 25h0M19 31h0M16 41h0M12 43h0M92 44h0M133 48h0M138 47h0M45 51h0M158 54h0M71 59h0M112 58h0M145 60h0M168 61h0M80 66h0M95 63h0M169 79h0M85 86h0M30 95h0M66 97h0M102 97h0M124 99h0M154 99h0M15 104h0M35 104h0M101 101h0M37 108h0M163 108h0M16 118h0M40 119h0M52 114h0M6 123h0M39 123h0M62 124h0M128 126h0M157 125h0M49 131h0M115 132h0M154 131h0M95 135h0M107 135h0M67 142h0M71 145h0M118 140h0M14 148h0M34 148h0M44 151h0M69 152h0M97 148h0M105 149h0M1 155h0M30 154h0M57 158h0M136 163h0" stroke="#6c543e" stroke-width="4.0"/>
<path d="M34 5h0M53 7h0M76 7h0M36 13h0M131 20h0M154 28h0M33 38h0M103 42h0M156 39h0M167 40h0M155 43h0M171 45h0M25 52h0M135 59h0M1 66h0M31 79h0M98 79h0M142 77h0M151 87h0M161 87h0M13 95h0M172 98h0M53 105h0M143 113h0M36 118h0M70 118h0M148 114h0M104 124h0M133 123h0M24 131h0M40 131h0M94 132h0M122 130h0M9 137h0M30 134h0M68 139h0M58 142h0M77 142h0M122 144h0M20 149h0M52 147h0M82 150h0M111 149h0M12 158h0M84 153h0M145 154h0M165 156h0M6 160h0M63 160h0M89 161h0" stroke="#6c543e" stroke-width="4.7"/>
<path d="M0 1h0M56 3h0M80 -1h0M123 -0h0M21 8h0M23 6h0M90 6h0M111 5h0M151 15h0M166 13h0M166 24h0M42 30h0M44 33h0M55 33h0M74 29h0M146 32h0M27 45h0M37 44h0M61 45h0M96 47h0M125 47h0M51 51h0M151 53h0M100 58h0M35 65h0M121 63h0M138 70h0M6 76h0M53 76h0M158 77h0M32 85h0M38 85h0M67 83h0M121 82h0M15 92h0M46 90h0M120 90h0M59 97h0M121 95h0M55 106h0M129 102h0M137 104h0M7 115h0M102 117h0M9 124h0M3 138h0M52 138h0M86 135h0M34 142h0M48 141h0M168 145h0M102 153h0M167 164h0" stroke="#6c543e" stroke-width="5.5"/>
<path d="M41 2h0M83 2h0M24 22h0M120 18h0M163 20h0M86 25h0M66 41h0M4 45h0M12 54h0M80 51h0M137 50h0M164 53h0M44 66h0M57 67h0M126 71h0M99 84h0M29 107h0M91 103h0M144 101h0M73 109h0M20 115h0M109 117h0M67 131h0M72 131h0M82 127h0M9 140h0M14 141h0M21 145h0M64 157h0M115 154h0M42 162h0M78 160h0" stroke="#6c6680" stroke-width="3.6"/>
<path d="M73 -2h0M1 12h0M140 22h0M158 24h0M32 42h0M88 39h0M117 39h0M109 46h0M2 51h0M100 54h0M129 65h0M151 75h0M113 89h0M47 96h0M91 98h0M161 98h0M0 104h0M158 103h0M100 109h0M154 110h0M167 108h0M59 114h0M62 118h0M35 121h0M6 128h0M100 132h0M88 142h0M59 148h0M124 149h0M106 157h0M51 159h0" stroke="#6c6680" stroke-width="4.2"/>
<path d="M21 1h0M106 5h0M30 18h0M49 17h0M69 19h0M169 21h0M25 25h0M8 40h0M51 40h0M107 40h0M27 51h0M59 54h0M1 57h0M63 73h0M83 73h0M70 80h0M115 79h0M63 93h0M151 92h0M40 99h0M96 99h0M117 112h0M109 133h0M25 152h0M22 155h0M75 156h0M159 157h0M127 160h0" stroke="#6c6680" stroke-width="5.0"/>
</g>
</g></g>
<rect x="1150.4" y="782.3" width="159.6" height="159.6" fill="none" stroke="#4a4a4a" stroke-width="0.8"/>
<line x1="1274.5" y1="934" x2="1304.3" y2="934" stroke="#111" stroke-width="1.5" stroke-linecap="butt"/>
<defs><filter id="n9" x="0" y="0" width="1" height="1" color-interpolation-filters="sRGB"><feTurbulence type="fractalNoise" baseFrequency="0.07" numOctaves="4" seed="18"/><feColorMatrix type="matrix" values="0.45 0.06 0 0 0.45 0.45 0.04 0 0 0.41 0.45 -0.02 0 0 0.46 0 0 0 0 1"/></filter><filter id="d9" x="0" y="0" width="1" height="1" color-interpolation-filters="sRGB"><feTurbulence type="fractalNoise" baseFrequency="0.11" numOctaves="2" seed="68" result="t"/><feDisplacementMap in="SourceGraphic" in2="t" scale="4" xChannelSelector="R" yChannelSelector="G"/><feGaussianBlur stdDeviation="1.2"/></filter><clipPath id="c9"><rect width="162" height="159.6"/></clipPath></defs>
<g transform="translate(1319.3 782.3)"><g clip-path="url(#c9)">
<rect width="162" height="159.6" fill="#b4a8ac"/>
<rect width="162" height="159.6" filter="url(#n9)"/>
<g fill="none" stroke-linecap="round" filter="url(#d9)">
<path d="M16 -2h0M23 -0h0M57 -1h0M99 1h0M112 -1h0M143 2h0M6 4h0M69 4h0M75 6h0M81 7h0M87 15h0M111 14h0M120 14h0M155 10h0M40 17h0M125 20h0M139 22h0M2 28h0M114 26h0M126 25h0M142 28h0M9 33h0M45 31h0M51 32h0M62 31h0M31 36h0M56 36h0M72 36h0M157 37h0M35 54h0M82 48h0M99 51h0M126 49h0M16 60h0M39 59h0M-1 63h0M106 65h0M150 65h0M81 70h0M20 77h0M4 81h0M26 84h0M45 91h0M84 87h0M118 90h0M150 92h0M83 98h0M108 94h0M95 103h0M140 105h0M147 103h0M163 103h0M19 110h0M140 106h0M154 109h0M94 114h0M10 124h0M18 121h0M39 124h0M101 119h0M150 121h0M169 123h0M24 130h0M116 126h0M130 130h0M9 135h0M84 140h0M143 142h0M4 148h0M8 149h0M23 149h0M89 145h0M157 145h0M54 155h0M68 158h0M166 162h0" stroke="#583e26" stroke-width="3.9"/>
<path d="M79 -1h0M155 -1h0M116 8h0M129 8h0M146 6h0M44 13h0M77 14h0M104 12h0M131 12h0M48 21h0M87 19h0M145 17h0M85 27h0M102 27h0M158 23h0M112 31h0M131 29h0M13 39h0M83 40h0M106 40h0M149 40h0M108 44h0M42 50h0M48 49h0M77 49h0M118 49h0M163 52h0M48 55h0M117 57h0M143 58h0M152 58h0M166 55h0M28 61h0M156 62h0M161 62h0M32 68h0M9 75h0M78 75h0M86 78h0M126 77h0M140 76h0M90 83h0M101 84h0M28 91h0M12 94h0M19 98h0M127 94h0M154 93h0M-2 100h0M107 102h0M133 100h0M4 108h0M26 109h0M117 121h0M125 121h0M133 122h0M100 131h0M144 128h0M66 135h0M138 135h0M45 139h0M92 143h0M42 150h0M53 146h0M62 145h0M72 147h0M96 148h0M108 147h0M126 146h0M169 146h0M29 154h0M129 155h0M140 153h0M12 158h0M62 162h0M147 160h0M150 158h0" stroke="#583e26" stroke-width="4.6"/>
<path d="M7 -2h0M51 4h0M109 6h0M55 12h0M62 15h0M8 21h0M82 21h0M120 21h0M128 19h0M63 27h0M120 24h0M4 35h0M30 34h0M40 31h0M70 31h0M77 32h0M151 34h0M119 40h0M49 46h0M123 47h0M74 60h0M157 55h0M102 61h0M42 68h0M75 68h0M98 71h0M148 72h0M166 70h0M56 78h0M71 88h0M94 88h0M155 88h0M166 87h0M36 99h0M33 104h0M12 110h0M119 110h0M161 108h0M155 118h0M29 121h0M95 120h0M91 131h0M109 130h0M165 127h0M19 136h0M98 132h0M118 132h0M145 132h0M22 143h0M72 142h0M109 140h0M83 148h0M119 145h0M2 154h0M21 151h0M47 153h0M77 155h0M100 153h0M121 152h0M31 158h0M54 157h0M73 162h0M109 161h0" stroke="#583e26" stroke-width="5.4"/>
<path d="M147 -0h0M26 8h0M140 13h0M152 11h0M58 28h0M73 24h0M77 26h0M92 26h0M22 32h0M82 32h0M95 29h0M127 31h0M87 42h0M116 45h0M150 43h0M162 46h0M169 43h0M156 53h0M137 55h0M86 72h0M130 68h0M1 77h0M16 74h0M42 77h0M52 79h0M114 85h0M-3 87h0M24 87h0M109 89h0M134 94h0M136 96h0M166 98h0M26 103h0M101 100h0M116 101h0M123 104h0M126 102h0M156 102h0M111 108h0M132 110h0M26 114h0M58 115h0M147 113h0M110 123h0M148 119h0M5 125h0M29 130h0M87 128h0M157 128h0M41 132h0M44 136h0M154 132h0M28 138h0M36 139h0M56 138h0M5 151h0M40 153h0M115 154h0M27 160h0M83 162h0M87 158h0M105 162h0" stroke="#6a523c" stroke-width="3.9"/>
<path d="M38 -1h0M93 0h0M104 2h0M15 6h0M37 9h0M157 6h0M110 21h0M21 28h0M148 26h0M105 31h0M116 35h0M158 31h0M10 39h0M112 36h0M142 38h0M163 41h0M145 45h0M29 53h0M74 53h0M152 48h0M90 60h0M111 60h0M57 63h0M121 64h0M161 71h0M98 78h0M149 75h0M96 83h0M36 91h0M136 88h0M1 98h0M89 94h0M157 95h0M39 111h0M98 108h0M4 114h0M65 118h0M128 116h0M1 122h0M54 121h0M86 122h0M136 120h0M13 126h0M59 125h0M74 126h0M137 130h0M89 132h0M164 136h0M15 141h0M48 141h0M80 139h0M123 139h0M164 141h0M68 145h0M154 147h0M72 154h0M88 156h0M157 153h0M132 157h0" stroke="#6a523c" stroke-width="4.6"/>
<path d="M129 -1h0M162 -3h0M31 3h0M138 5h0M152 4h0M24 14h0M97 15h0M161 14h0M24 19h0M154 20h0M159 21h0M27 28h0M34 26h0M133 25h0M136 31h0M-2 38h0M38 37h0M52 37h0M96 40h0M25 44h0M67 47h0M141 43h0M63 52h0M22 61h0M52 64h0M5 70h0M53 68h0M58 69h0M90 75h0M113 76h0M155 78h0M163 76h0M70 84h0M124 83h0M139 81h0M50 90h0M102 91h0M116 87h0M48 93h0M100 97h0M79 111h0M74 115h0M112 114h0M140 115h0M28 120h0M43 124h0M1 129h0M34 126h0M25 133h0M103 135h0M125 134h0M161 131h0M62 142h0M48 146h0M15 158h0" stroke="#6a523c" stroke-width="5.4"/>
<path d="M64 -1h0M70 -2h0M88 7h0M122 7h0M69 14h0M94 11h0M60 22h0M66 21h0M17 27h0M146 32h0M92 37h0M40 47h0M24 60h0M16 65h0M139 64h0M9 70h0M25 68h0M116 73h0M69 74h0M132 81h0M148 86h0M155 82h0M169 83h0M115 98h0M-1 116h0M66 120h0M122 128h0M147 130h0M127 139h0M108 153h0M5 163h0M118 158h0" stroke="#6a647e" stroke-width="3.5"/>
<path d="M133 10h0M98 18h0M50 23h0M19 37h0M6 51h0M13 49h0M136 49h0M2 59h0M40 62h0M70 66h0M79 64h0M126 65h0M138 71h0M7 87h0M53 97h0M148 95h0M8 102h0M75 102h0M108 117h0M166 117h0M129 136h0M8 140h0M116 140h0M136 141h0M16 147h0M34 150h0M62 152h0M42 159h0M49 160h0M140 162h0" stroke="#6a647e" stroke-width="4.1"/>
<path d="M120 -0h0M96 4h0M101 7h0M166 6h0M72 20h0M107 28h0M161 26h0M90 33h0M43 40h0M136 41h0M1 45h0M31 46h0M54 43h0M114 50h0M107 75h0M118 76h0M33 84h0M125 89h0M11 102h0M89 106h0M125 106h0M73 120h0M3 141h0M141 145h0M137 156h0M123 158h0" stroke="#6a647e" stroke-width="4.9"/>
</g>
</g></g>
<rect x="1319.3" y="782.3" width="162" height="159.6" fill="none" stroke="#4a4a4a" stroke-width="0.8"/>
<line x1="1445.8" y1="934" x2="1475.6" y2="934" stroke="#111" stroke-width="1.5" stroke-linecap="butt"/>
<defs><filter id="n10" x="0" y="0" width="1" height="1" color-interpolation-filters="sRGB"><feTurbulence type="fractalNoise" baseFrequency="0.07" numOctaves="4" seed="19"/><feColorMatrix type="matrix" values="0.45 0.04 0 0 0.41 0.45 0.02 0 0 0.4 0.45 0 0 0 0.51 0 0 0 0 1"/></filter><filter id="d10" x="0" y="0" width="1" height="1" color-interpolation-filters="sRGB"><feTurbulence type="fractalNoise" baseFrequency="0.11" numOctaves="2" seed="69" result="t"/><feDisplacementMap in="SourceGraphic" in2="t" scale="4" xChannelSelector="R" yChannelSelector="G"/><feGaussianBlur stdDeviation="1.2"/></filter><clipPath id="c10"><rect width="158.9" height="158.9"/></clipPath></defs>
<g transform="translate(981.9 951.5)"><g clip-path="url(#c10)">
<rect width="158.9" height="158.9" fill="#a6a3bc"/>
<rect width="158.9" height="158.9" filter="url(#n10)"/>
<g fill="none" stroke-linecap="round" filter="url(#d10)">
<path d="M89 -1h0M132 -2h0M146 -2h0M27 7h0M149 7h0M70 11h0M78 15h0M100 13h0M121 15h0M153 14h0M5 21h0M52 16h0M62 20h0M80 16h0M110 21h0M136 17h0M166 19h0M-2 27h0M23 24h0M44 27h0M97 27h0M133 28h0M5 34h0M-3 37h0M79 37h0M125 36h0M13 43h0M75 43h0M143 43h0M14 49h0M84 51h0M106 52h0M138 51h0M156 50h0M9 55h0M15 56h0M36 58h0M53 59h0M96 58h0M7 60h0M31 61h0M47 61h0M74 62h0M120 61h0M18 72h0M41 72h0M78 70h0M101 68h0M125 69h0M145 70h0M159 71h0M21 77h0M58 74h0M99 74h0M92 82h0M77 87h0M82 88h0M111 90h0M82 95h0M13 104h0M33 103h0M64 103h0M70 99h0M130 99h0M12 107h0M18 106h0M26 108h0M54 105h0M101 104h0M106 107h0M127 107h0M136 106h0M166 106h0M33 114h0M55 112h0M68 111h0M77 114h0M102 113h0M119 113h0M141 112h0M5 122h0M11 119h0M18 117h0M25 120h0M40 121h0M101 120h0M136 118h0M167 118h0M55 128h0M63 126h0M103 124h0M12 132h0M44 132h0M59 131h0M79 135h0M107 131h0M164 130h0M48 136h0M56 138h0M114 140h0M136 141h0M160 136h0M16 144h0M22 147h0M41 142h0M47 148h0M65 148h0M75 145h0M86 144h0M99 144h0M122 143h0M164 147h0M14 149h0M156 149h0M143 159h0M8 164h0M109 166h0M124 163h0" stroke="#4c4c72" stroke-width="3.9"/>
<path d="M-3 -3h0M27 -1h0M43 1h0M61 2h0M114 3h0M121 0h0M12 9h0M102 8h0M113 7h0M127 8h0M43 12h0M58 15h0M61 13h0M141 10h0M146 14h0M27 21h0M31 19h0M149 20h0M6 26h0M48 27h0M55 28h0M74 27h0M107 25h0M155 23h0M162 25h0M60 31h0M66 31h0M79 33h0M96 33h0M149 33h0M15 37h0M21 40h0M32 37h0M88 37h0M98 38h0M20 44h0M34 46h0M80 43h0M69 53h0M31 57h0M58 56h0M38 64h0M65 66h0M101 60h0M53 67h0M7 78h0M15 73h0M102 74h0M26 82h0M36 84h0M65 82h0M101 81h0M134 81h0M157 81h0M46 86h0M88 88h0M24 93h0M66 95h0M100 92h0M107 97h0M115 92h0M131 94h0M10 100h0M23 99h0M30 98h0M79 101h0M97 101h0M105 103h0M118 100h0M95 104h0M40 114h0M33 121h0M83 121h0M125 117h0M132 119h0M35 126h0M48 126h0M117 123h0M153 127h0M41 133h0M52 135h0M113 134h0M33 140h0M71 141h0M92 136h0M100 141h0M54 149h0M83 153h0M103 149h0M133 152h0M161 148h0M15 156h0M73 159h0M103 155h0M93 166h0M100 166h0M104 164h0M138 167h0" stroke="#4c4c72" stroke-width="4.6"/>
<path d="M5 1h0M51 0h0M127 1h0M156 1h0M84 11h0M93 14h0M108 14h0M47 16h0M88 17h0M99 21h0M155 16h0M35 27h0M13 32h0M76 30h0M110 33h0M30 37h0M107 35h0M113 38h0M145 36h0M155 37h0M43 46h0M60 42h0M86 46h0M5 52h0M47 51h0M89 52h0M45 58h0M65 58h0M71 59h0M85 54h0M108 56h0M142 55h0M54 61h0M71 63h0M115 66h0M126 61h0M47 72h0M59 71h0M114 68h0M127 70h0M135 71h0M36 73h0M41 78h0M64 77h0M86 75h0M94 75h0M141 75h0M155 76h0M5 84h0M19 81h0M88 83h0M114 80h0M122 79h0M143 79h0M2 86h0M9 89h0M157 85h0M158 88h0M73 92h0M93 97h0M47 100h0M82 102h0M111 99h0M39 105h0M64 108h0M81 110h0M89 108h0M142 105h0M153 108h0M156 106h0M51 116h0M124 112h0M48 122h0M55 118h0M74 121h0M90 120h0M145 117h0M40 128h0M90 129h0M144 125h0M90 134h0M99 133h0M14 136h0M27 140h0M156 140h0M79 146h0M107 147h0M129 142h0M5 152h0M35 154h0M43 151h0M89 151h0M142 149h0M149 151h0M3 155h0M41 158h0M66 157h0M117 156h0M134 155h0M2 164h0M11 165h0M20 162h0M37 163h0M121 167h0M154 164h0" stroke="#4c4c72" stroke-width="5.4"/>
<path d="M66 4h0M106 7h0M124 9h0M155 4h0M24 14h0M66 21h0M93 18h0M114 19h0M129 17h0M85 26h0M124 25h0M149 23h0M44 33h0M71 38h0M118 36h0M143 38h0M53 42h0M109 44h0M135 45h0M29 49h0M35 53h0M64 52h0M24 55h0M130 57h0M137 55h0M152 54h0M2 60h0M43 65h0M87 65h0M3 67h0M13 67h0M94 67h0M52 76h0M68 77h0M10 83h0M33 89h0M134 86h0M55 103h0M33 109h0M123 109h0M61 113h0M12 127h0M21 128h0M28 124h0M72 124h0M127 129h0M1 134h0M27 131h0M-2 140h0M39 140h0M34 145h0M49 151h0M71 150h0M112 154h0M29 160h0M78 156h0M111 157h0M125 156h0M43 161h0M49 166h0M54 162h0" stroke="#5c5a80" stroke-width="3.9"/>
<path d="M23 -2h0M82 -0h0M164 -1h0M71 9h0M143 5h0M8 15h0M49 10h0M113 12h0M126 15h0M11 18h0M142 21h0M90 24h0M115 27h0M34 29h0M88 30h0M116 31h0M132 29h0M144 33h0M51 40h0M82 36h0M134 38h0M160 38h0M6 47h0M68 42h0M114 42h0M120 45h0M150 46h0M78 52h0M131 50h0M79 54h0M118 57h0M125 58h0M157 59h0M89 63h0M107 65h0M147 65h0M69 67h0M71 67h0M29 78h0M134 78h0M147 78h0M59 84h0M76 83h0M19 88h0M58 91h0M63 90h0M97 86h0M12 97h0M45 97h0M57 92h0M86 96h0M151 93h0M126 101h0M61 108h0M74 109h0M-2 114h0M14 115h0M19 114h0M30 113h0M98 114h0M130 112h0M109 121h0M117 117h0M34 130h0M74 132h0M97 132h0M141 134h0M19 138h0M65 139h0M85 137h0M13 144h0M52 145h0M60 144h0M92 145h0M139 146h0M157 144h0M2 152h0M60 149h0M125 153h0M52 159h0M95 155h0M167 158h0M69 164h0M76 164h0M86 161h0M133 161h0M147 162h0" stroke="#5c5a80" stroke-width="4.6"/>
<path d="M11 -3h0M34 2h0M76 -2h0M97 0h0M106 -2h0M4 4h0M48 6h0M55 7h0M86 7h0M96 4h0M-2 10h0M37 15h0M136 12h0M17 22h0M124 17h0M11 23h0M54 33h0M103 33h0M134 32h0M156 30h0M10 41h0M44 40h0M56 39h0M63 35h0M95 52h0M109 52h0M125 52h0M163 50h0M103 56h0M140 64h0M31 70h0M88 69h0M108 71h0M153 70h0M0 76h0M118 75h0M30 82h0M47 83h0M53 81h0M78 84h0M109 80h0M132 80h0M28 87h0M70 91h0M104 89h0M119 88h0M51 92h0M121 96h0M139 97h0M40 101h0M93 99h0M43 106h0M82 116h0M59 118h0M68 120h0M97 121h0M159 118h0M74 128h0M83 125h0M100 124h0M110 129h0M140 128h0M164 128h0M68 131h0M127 130h0M134 132h0M74 137h0M107 136h0M128 139h0M141 140h0M4 144h0M116 147h0M151 142h0M27 149h0M121 152h0M13 157h0M26 158h0M43 155h0M25 164h0M62 161h0" stroke="#5c5a80" stroke-width="5.4"/>
</g>
</g></g>
<rect x="981.9" y="951.5" width="158.9" height="158.9" fill="none" stroke="#4a4a4a" stroke-width="0.8"/>
<line x1="1105.3" y1="1102.5" x2="1135.1" y2="1102.5" stroke="#111" stroke-width="1.5" stroke-linecap="butt"/>
<defs><filter id="n11" x="0" y="0" width="1" height="1" color-interpolation-filters="sRGB"><feTurbulence type="fractalNoise" baseFrequency="0.07" numOctaves="4" seed="20"/><feColorMatrix type="matrix" values="0.45 0.03 0 0 0.35 0.45 0.02 0 0 0.34 0.45 0 0 0 0.48 0 0 0 0 1"/></filter><filter id="d11" x="0" y="0" width="1" height="1" color-interpolation-filters="sRGB"><feTurbulence type="fractalNoise" baseFrequency="0.11" numOctaves="2" seed="70" result="t"/><feDisplacementMap in="SourceGraphic" in2="t" scale="4" xChannelSelector="R" yChannelSelector="G"/><feGaussianBlur stdDeviation="1.2"/></filter><clipPath id="c11"><rect width="159.6" height="158.9"/></clipPath></defs>
<g transform="translate(1150.4 951.5)"><g clip-path="url(#c11)">
<rect width="159.6" height="158.9" fill="#9693b4"/>
<rect width="159.6" height="158.9" filter="url(#n11)"/>
<g fill="none" stroke-linecap="round" filter="url(#d11)">
<path d="M29 -1h0M97 2h0M25 6h0M79 6h0M91 8h0M127 8h0M158 6h0M167 9h0M64 11h0M100 13h0M150 10h0M2 22h0M20 17h0M51 20h0M69 21h0M72 20h0M133 19h0M9 25h0M20 28h0M40 28h0M91 27h0M104 24h0M135 26h0M140 28h0M31 31h0M73 35h0M93 29h0M146 34h0M66 38h0M94 38h0M147 36h0M32 47h0M81 47h0M22 50h0M156 51h0M15 58h0M26 59h0M84 59h0M95 57h0M117 58h0M167 59h0M23 64h0M29 67h0M71 65h0M96 62h0M119 67h0M44 68h0M58 69h0M3 76h0M14 79h0M65 78h0M119 78h0M133 79h0M8 84h0M23 86h0M72 82h0M109 83h0M140 84h0M7 89h0M12 89h0M36 88h0M70 90h0M128 88h0M134 90h0M146 88h0M162 91h0M27 99h0M103 98h0M123 98h0M158 98h0M-1 105h0M6 102h0M24 101h0M50 100h0M12 106h0M27 109h0M31 109h0M62 111h0M152 106h0M165 111h0M9 116h0M24 112h0M74 115h0M87 116h0M60 124h0M92 122h0M118 122h0M124 121h0M150 123h0M83 128h0M120 126h0M125 130h0M8 134h0M30 132h0M81 132h0M150 136h0M22 141h0M50 140h0M152 140h0M12 149h0M56 144h0M81 144h0M112 148h0M136 144h0M14 155h0M27 154h0M37 151h0M79 155h0M159 153h0M19 157h0M154 159h0" stroke="#464670" stroke-width="4.0"/>
<path d="M48 1h0M61 -2h0M69 -3h0M44 9h0M72 3h0M96 8h0M29 15h0M43 11h0M108 14h0M129 15h0M143 18h0M153 18h0M16 25h0M57 28h0M70 25h0M78 25h0M91 30h0M118 33h0M34 40h0M85 41h0M99 41h0M12 42h0M19 43h0M46 45h0M69 47h0M105 44h0M157 46h0M8 54h0M56 49h0M97 48h0M128 53h0M150 52h0M163 52h0M6 59h0M29 60h0M38 58h0M86 58h0M41 66h0M100 69h0M24 76h0M51 78h0M73 76h0M79 75h0M104 74h0M142 77h0M81 85h0M147 83h0M53 89h0M91 88h0M107 89h0M33 98h0M68 97h0M140 98h0M13 100h0M34 104h0M80 100h0M128 99h0M140 102h0M114 111h0M134 108h0M12 114h0M37 115h0M50 118h0M79 112h0M91 115h0M101 113h0M108 112h0M120 115h0M163 116h0M33 123h0M56 122h0M79 119h0M0 128h0M8 129h0M20 130h0M49 127h0M99 128h0M157 128h0M18 132h0M107 131h0M-2 139h0M57 139h0M70 143h0M90 138h0M161 138h0M34 150h0M161 149h0M42 154h0M72 154h0M85 153h0M109 156h0M116 151h0M143 152h0M149 156h0M2 158h0M24 160h0M89 163h0M139 159h0M147 162h0M168 160h0" stroke="#464670" stroke-width="4.7"/>
<path d="M87 1h0M91 -2h0M107 -1h0M146 3h0M164 -2h0M34 4h0M39 7h0M6 14h0M123 10h0M163 13h0M10 19h0M33 19h0M116 16h0M141 19h0M162 17h0M27 24h0M87 28h0M101 28h0M122 26h0M149 25h0M6 29h0M48 32h0M55 30h0M68 34h0M84 34h0M132 31h0M155 33h0M162 33h0M169 29h0M56 36h0M106 37h0M134 36h0M165 40h0M1 43h0M27 43h0M36 47h0M90 45h0M112 47h0M123 46h0M136 44h0M165 44h0M114 50h0M143 51h0M13 56h0M147 58h0M7 66h0M38 63h0M59 66h0M66 64h0M83 62h0M115 66h0M141 64h0M163 66h0M17 70h0M24 70h0M34 71h0M89 71h0M98 70h0M139 71h0M9 76h0M2 85h0M61 86h0M91 82h0M126 84h0M133 83h0M152 85h0M166 84h0M75 88h0M119 90h0M13 96h0M53 95h0M87 93h0M93 97h0M109 94h0M118 93h0M63 104h0M90 100h0M154 101h0M61 114h0M129 113h0M156 116h0M39 121h0M105 124h0M138 121h0M144 119h0M15 130h0M44 130h0M162 130h0M54 131h0M60 135h0M98 132h0M105 132h0M126 133h0M5 142h0M104 138h0M126 143h0M155 139h0M27 150h0M68 148h0M75 150h0M147 150h0M153 146h0M168 145h0M8 156h0M19 155h0M119 156h0M129 156h0M38 161h0M70 159h0M76 162h0M81 157h0M117 162h0" stroke="#464670" stroke-width="5.5"/>
<path d="M12 2h0M44 -0h0M145 -2h0M18 4h0M53 7h0M70 5h0M115 9h0M146 8h0M145 11h0M94 21h0M110 19h0M165 19h0M11 35h0M39 34h0M60 33h0M111 30h0M138 34h0M30 39h0M111 36h0M123 38h0M130 37h0M94 43h0M129 44h0M3 51h0M26 52h0M37 54h0M90 49h0M138 50h0M45 55h0M123 55h0M136 55h0M153 56h0M91 63h0M10 69h0M51 68h0M121 69h0M56 77h0M115 78h0M159 75h0M166 75h0M47 84h0M117 85h0M54 88h0M159 89h0M18 98h0M37 93h0M59 95h0M144 94h0M31 103h0M113 102h0M42 106h0M101 109h0M136 108h0M143 108h0M4 120h0M25 119h0M113 121h0M131 119h0M66 126h0M109 128h0M67 135h0M158 133h0M12 138h0M45 138h0M87 139h0M102 143h0M2 146h0M47 148h0M-3 156h0M90 153h0M161 158h0" stroke="#56547c" stroke-width="4.0"/>
<path d="M18 1h0M116 -0h0M130 2h0M4 7h0M102 6h0M111 8h0M134 9h0M1 13h0M79 14h0M84 15h0M91 11h0M154 15h0M88 22h0M100 18h0M124 21h0M63 23h0M129 23h0M102 33h0M123 32h0M-2 38h0M8 35h0M50 39h0M77 36h0M154 36h0M72 46h0M15 53h0M49 50h0M64 50h0M77 50h0M109 52h0M120 54h0M105 58h0M134 56h0M109 64h0M126 65h0M159 64h0M74 68h0M110 71h0M169 73h0M42 75h0M101 74h0M129 76h0M149 75h0M52 81h0M97 81h0M159 82h0M22 87h0M40 91h0M64 87h0M44 93h0M43 102h0M121 103h0M68 107h0M111 108h0M159 109h0M114 116h0M134 114h0M80 127h0M114 127h0M23 134h0M88 133h0M118 135h0M129 134h0M138 132h0M165 133h0M120 139h0M93 149h0M102 150h0M124 150h0M65 156h0M135 153h0M9 160h0M33 161h0M46 160h0M60 158h0" stroke="#56547c" stroke-width="4.7"/>
<path d="M56 1h0M77 -0h0M136 2h0M156 3h0M141 9h0M155 7h0M72 12h0M112 15h0M137 11h0M41 16h0M115 27h0M154 25h0M161 24h0M24 34h0M40 38h0M71 37h0M60 42h0M143 47h0M153 43h0M70 53h0M57 55h0M66 56h0M108 59h0M16 65h0M148 62h0M67 68h0M145 72h0M154 69h0M160 68h0M16 84h0M68 85h0M2 91h0M1 95h0M151 99h0M169 98h0M151 101h0M162 105h0M3 110h0M46 109h0M54 111h0M87 110h0M95 106h0M122 112h0M-1 117h0M30 114h0M139 116h0M148 115h0M73 122h0M96 120h0M166 124h0M33 126h0M92 125h0M139 127h0M149 127h0M4 134h0M147 134h0M35 140h0M66 142h0M140 138h0M58 144h0M88 144h0M52 151h0M56 153h0M98 155h0M161 154h0M55 160h0M97 159h0M104 160h0" stroke="#56547c" stroke-width="5.5"/>
</g>
</g></g>
<rect x="1150.4" y="951.5" width="159.6" height="158.9" fill="none" stroke="#4a4a4a" stroke-width="0.8"/>
<line x1="1274.5" y1="1102.5" x2="1304.3" y2="1102.5" stroke="#111" stroke-width="1.5" stroke-linecap="butt"/>
<defs><filter id="n12" x="0" y="0" width="1" height="1" color-interpolation-filters="sRGB"><feTurbulence type="fractalNoise" baseFrequency="0.07" numOctaves="4" seed="21"/><feColorMatrix type="matrix" values="0.45 0.04 0 0 0.41 0.45 0.02 0 0 0.41 0.45 0 0 0 0.52 0 0 0 0 1"/></filter><filter id="d12" x="0" y="0" width="1" height="1" color-interpolation-filters="sRGB"><feTurbulence type="fractalNoise" baseFrequency="0.11" numOctaves="2" seed="71" result="t"/><feDisplacementMap in="SourceGraphic" in2="t" scale="4" xChannelSelector="R" yChannelSelector="G"/><feGaussianBlur stdDeviation="1.2"/></filter><clipPath id="c12"><rect width="162" height="158.9"/></clipPath></defs>
<g transform="translate(1319.3 951.5)"><g clip-path="url(#c12)">
<rect width="162" height="158.9" fill="#a7a5be"/>
<rect width="162" height="158.9" filter="url(#n12)"/>
<g fill="none" stroke-linecap="round" filter="url(#d12)">
<path d="M19 1h0M29 -2h0M48 1h0M54 -1h0M84 1h0M96 -2h0M118 -2h0M131 -0h0M8 8h0M57 7h0M28 12h0M53 11h0M78 11h0M154 11h0M138 16h0M12 24h0M69 25h0M75 23h0M87 23h0M118 27h0M92 30h0M114 30h0M156 33h0M33 38h0M41 37h0M72 40h0M85 36h0M108 36h0M121 36h0M130 37h0M15 47h0M45 42h0M53 45h0M68 46h0M81 45h0M89 42h0M131 44h0M23 53h0M29 52h0M32 48h0M74 48h0M146 52h0M65 59h0M111 59h0M125 58h0M130 54h0M146 56h0M26 60h0M108 63h0M132 62h0M104 72h0M165 68h0M-2 73h0M30 77h0M75 74h0M82 77h0M96 78h0M138 76h0M165 75h0M4 82h0M33 82h0M46 81h0M67 79h0M92 84h0M117 83h0M125 81h0M166 83h0M-1 88h0M132 87h0M142 90h0M11 95h0M29 96h0M45 92h0M66 97h0M74 96h0M7 101h0M13 99h0M56 100h0M94 99h0M145 101h0M45 104h0M107 105h0M131 108h0M6 114h0M12 111h0M65 114h0M107 111h0M94 121h0M130 120h0M143 118h0M3 127h0M49 126h0M54 124h0M129 124h0M88 134h0M17 136h0M87 136h0M118 136h0M147 136h0M168 138h0M33 143h0M51 143h0M58 144h0M95 145h0M151 147h0M15 149h0M104 151h0M147 149h0M89 160h0M107 155h0M136 156h0M171 157h0M6 163h0M65 166h0M98 162h0M128 166h0M144 161h0M163 165h0" stroke="#4a4a70" stroke-width="3.9"/>
<path d="M125 1h0M153 2h0M27 6h0M88 4h0M-2 11h0M15 15h0M22 15h0M68 15h0M114 10h0M146 13h0M12 16h0M15 20h0M41 19h0M91 27h0M25 29h0M46 32h0M50 33h0M57 29h0M72 33h0M82 29h0M89 34h0M106 33h0M131 34h0M8 36h0M64 35h0M97 36h0M11 44h0M125 51h0M131 51h0M141 51h0M169 53h0M10 56h0M22 57h0M86 54h0M104 54h0M163 55h0M4 61h0M32 61h0M50 62h0M54 62h0M69 62h0M76 62h0M96 66h0M32 67h0M62 68h0M83 69h0M108 69h0M150 70h0M41 74h0M25 82h0M50 81h0M80 82h0M152 79h0M9 89h0M110 88h0M129 91h0M170 88h0M6 94h0M15 96h0M50 93h0M93 95h0M101 92h0M165 96h0M1 101h0M24 99h0M33 103h0M39 103h0M63 99h0M140 101h0M153 104h0M163 101h0M168 103h0M15 108h0M23 106h0M76 106h0M85 105h0M102 107h0M153 110h0M165 107h0M24 112h0M30 112h0M153 113h0M164 111h0M10 122h0M107 120h0M117 118h0M138 118h0M151 118h0M120 126h0M147 126h0M99 130h0M116 134h0M155 134h0M28 138h0M93 138h0M106 138h0M135 137h0M45 146h0M130 146h0M137 144h0M155 144h0M170 144h0M-0 149h0M31 154h0M100 150h0M128 149h0M168 152h0M8 157h0M48 159h0M50 160h0M75 155h0M156 158h0M-3 161h0M68 166h0M75 166h0M84 161h0M109 161h0" stroke="#4a4a70" stroke-width="4.6"/>
<path d="M92 0h0M2 5h0M129 7h0M37 14h0M64 12h0M83 12h0M108 12h0M121 14h0M1 17h0M22 21h0M46 20h0M74 16h0M89 16h0M93 20h0M114 21h0M127 17h0M151 20h0M5 24h0M20 24h0M27 23h0M35 22h0M125 27h0M149 24h0M19 34h0M104 29h0M48 36h0M137 38h0M152 35h0M1 44h0M37 47h0M94 43h0M122 42h0M149 44h0M170 45h0M-2 52h0M8 51h0M61 56h0M92 55h0M118 60h0M23 61h0M39 61h0M85 65h0M166 63h0M25 67h0M46 69h0M95 67h0M122 67h0M131 66h0M171 72h0M32 74h0M50 78h0M73 76h0M132 78h0M156 73h0M159 74h0M37 81h0M72 83h0M139 84h0M51 87h0M61 86h0M104 86h0M161 88h0M24 93h0M108 97h0M115 95h0M125 94h0M82 101h0M120 98h0M134 101h0M6 109h0M57 105h0M134 107h0M157 107h0M119 116h0M140 112h0M30 120h0M41 119h0M60 120h0M104 122h0M155 120h0M100 126h0M139 127h0M165 127h0M79 130h0M94 131h0M110 132h0M122 130h0M172 130h0M112 138h0M157 141h0M5 143h0M64 145h0M80 144h0M87 144h0M100 148h0M111 146h0M167 142h0M53 149h0M138 152h0M163 152h0M36 157h0M117 159h0M144 158h0M16 165h0M19 163h0M88 161h0M138 165h0M156 164h0M166 165h0" stroke="#4a4a70" stroke-width="5.4"/>
<path d="M68 1h0M168 -3h0M41 5h0M76 9h0M82 9h0M136 5h0M125 15h0M34 18h0M51 20h0M173 20h0M-1 23h0M100 27h0M106 25h0M140 24h0M120 32h0M78 37h0M112 41h0M123 36h0M73 46h0M118 43h0M49 51h0M85 50h0M105 49h0M164 49h0M17 55h0M31 57h0M71 55h0M83 59h0M171 57h0M60 62h0M90 63h0M126 66h0M140 61h0M160 65h0M9 73h0M128 77h0M10 79h0M142 82h0M23 89h0M148 86h0M75 103h0M105 98h0M126 102h0M95 109h0M2 114h0M125 116h0M3 119h0M65 126h0M93 129h0M132 125h0M2 130h0M143 129h0M9 139h0M56 137h0M64 141h0M128 138h0M160 139h0M15 144h0M72 154h0M122 153h0M132 151h0M6 156h0M22 155h0M58 158h0M93 155h0M152 156h0M42 162h0M106 162h0M134 162h0" stroke="#5c5a7e" stroke-width="3.9"/>
<path d="M13 0h0M42 0h0M64 1h0M66 7h0M95 5h0M102 8h0M123 8h0M148 8h0M155 9h0M172 6h0M49 10h0M139 11h0M60 20h0M62 26h0M2 31h0M40 34h0M64 33h0M137 29h0M11 37h0M30 35h0M162 38h0M146 44h0M17 53h0M71 49h0M100 53h0M118 52h0M4 57h0M54 56h0M5 72h0M41 68h0M138 67h0M13 75h0M20 75h0M62 76h0M106 73h0M118 75h0M18 83h0M70 88h0M86 86h0M90 87h0M98 89h0M82 93h0M170 94h0M145 106h0M145 113h0M168 111h0M169 122h0M7 127h0M106 127h0M154 126h0M161 125h0M9 132h0M135 133h0M153 131h0M167 133h0M76 138h0M138 139h0M76 145h0M65 158h0M125 160h0M163 160h0M121 162h0" stroke="#5c5a7e" stroke-width="4.6"/>
<path d="M0 -0h0M9 -0h0M36 -1h0M75 -2h0M103 -3h0M42 11h0M93 15h0M131 13h0M69 18h0M81 21h0M52 24h0M54 26h0M115 28h0M10 29h0M30 30h0M143 30h0M0 40h0M24 36h0M58 39h0M29 42h0M61 43h0M109 45h0M43 52h0M58 51h0M62 48h0M90 49h0M156 52h0M36 56h0M45 57h0M119 64h0M145 71h0M93 76h0M103 83h0M127 82h0M155 83h0M174 80h0M16 86h0M78 88h0M121 90h0M156 86h0M87 96h0M137 95h0M144 93h0M153 97h0M29 107h0M54 106h0M118 106h0M120 107h0M172 106h0M54 114h0M72 115h0M93 114h0M98 112h0M114 113h0M121 119h0M163 123h0M15 129h0M113 125h0M16 132h0M31 133h0M72 130h0M99 138h0M41 147h0M118 145h0M124 143h0M141 147h0M42 153h0M76 150h0M82 151h0M89 153h0M115 153h0M153 152h0M29 159h0M83 157h0" stroke="#5c5a7e" stroke-width="5.4"/>
<path d="M155 44h0" stroke="#5a3420" stroke-width="6"/>
</g>
</g></g>
<rect x="1319.3" y="951.5" width="162" height="158.9" fill="none" stroke="#4a4a4a" stroke-width="0.8"/>
<line x1="1445.8" y1="1102.5" x2="1475.6" y2="1102.5" stroke="#111" stroke-width="1.5" stroke-linecap="butt"/>
<text x="1035.4" y="437.7" font-size="23.28" textLength="73.5" lengthAdjust="spacingAndGlyphs">Control</text>
<text x="1212.2" y="437.7" font-size="23.28" textLength="61.4" lengthAdjust="spacingAndGlyphs">SAHA</text>
<text x="1372.5" y="437.7" font-size="23.28" textLength="76.5" lengthAdjust="spacingAndGlyphs">DDI199</text>
<text x="973.3" y="539" font-size="23.28" text-anchor="middle" transform="rotate(-90 973.3 539)" textLength="98.5" lengthAdjust="spacingAndGlyphs">Acetyl H3</text>
<text x="973.3" y="696" font-size="23.28" text-anchor="middle" transform="rotate(-90 973.3 696)" textLength="121.9" lengthAdjust="spacingAndGlyphs">Ac α-tubulin</text>
<text x="973.3" y="866" font-size="23.28" text-anchor="middle" transform="rotate(-90 973.3 866)" textLength="62.5" lengthAdjust="spacingAndGlyphs">PCNA</text>
<text x="973.3" y="1037.6" font-size="23.28" text-anchor="middle" transform="rotate(-90 973.3 1037.6)" textLength="105.7" lengthAdjust="spacingAndGlyphs">Caspase-3</text>
<rect x="1574.7" y="568.5" width="30.4" height="48.5" fill="#686868"/>
<polyline points="1574.7,617 1574.7,568.5 1605.1,568.5 1605.1,617" fill="none" stroke="#000" stroke-width="1.45" stroke-linejoin="miter" stroke-linecap="butt"/>
<rect x="1574.7" y="633.2" width="30.4" height="44" fill="#686868"/>
<line x1="1574.7" y1="633.2" x2="1574.7" y2="677.2" stroke="#000" stroke-width="1.45" stroke-linecap="butt"/>
<line x1="1605.1" y1="633.2" x2="1605.1" y2="677.2" stroke="#000" stroke-width="1.45" stroke-linecap="butt"/>
<rect x="1620.9" y="567" width="30.7" height="50" fill="#0A7F98"/>
<polyline points="1620.9,617 1620.9,567 1651.6,567 1651.6,617" fill="none" stroke="#000" stroke-width="1.45" stroke-linejoin="miter" stroke-linecap="butt"/>
<rect x="1620.9" y="633.2" width="30.7" height="44" fill="#0A7F98"/>
<line x1="1620.9" y1="633.2" x2="1620.9" y2="677.2" stroke="#000" stroke-width="1.45" stroke-linecap="butt"/>
<line x1="1651.6" y1="633.2" x2="1651.6" y2="677.2" stroke="#000" stroke-width="1.45" stroke-linecap="butt"/>
<rect x="1667.3" y="540.7" width="30.7" height="76.3" fill="#FF8000"/>
<polyline points="1667.3,617 1667.3,540.7 1698,540.7 1698,617" fill="none" stroke="#000" stroke-width="1.45" stroke-linejoin="miter" stroke-linecap="butt"/>
<rect x="1667.3" y="633.2" width="30.7" height="44" fill="#FF8000"/>
<line x1="1667.3" y1="633.2" x2="1667.3" y2="677.2" stroke="#000" stroke-width="1.45" stroke-linecap="butt"/>
<line x1="1698" y1="633.2" x2="1698" y2="677.2" stroke="#000" stroke-width="1.45" stroke-linecap="butt"/>
<line x1="1558.8" y1="441.35" x2="1558.8" y2="617" stroke="#000" stroke-width="2.3" stroke-linecap="butt"/>
<line x1="1558.8" y1="633.2" x2="1558.8" y2="678.35" stroke="#000" stroke-width="2.3" stroke-linecap="butt"/>
<line x1="1552.8" y1="612" x2="1564.8" y2="623.6" stroke="#000" stroke-width="2.3" stroke-linecap="butt"/>
<line x1="1552.8" y1="626.8" x2="1564.8" y2="638.4" stroke="#000" stroke-width="2.3" stroke-linecap="butt"/>
<line x1="1551.3" y1="677.2" x2="1714.7" y2="677.2" stroke="#000" stroke-width="2.3" stroke-linecap="butt"/>
<line x1="1551.8" y1="442.5" x2="1558.8" y2="442.5" stroke="#000" stroke-width="2.3" stroke-linecap="butt"/>
<text x="1549.3" y="449.5" font-size="16.89" text-anchor="end" font-weight="bold" textLength="27.36" lengthAdjust="spacingAndGlyphs">100</text>
<line x1="1551.8" y1="501.1" x2="1558.8" y2="501.1" stroke="#000" stroke-width="2.3" stroke-linecap="butt"/>
<text x="1549.3" y="508.1" font-size="16.89" text-anchor="end" font-weight="bold" textLength="18.24" lengthAdjust="spacingAndGlyphs">90</text>
<line x1="1551.8" y1="559" x2="1558.8" y2="559" stroke="#000" stroke-width="2.3" stroke-linecap="butt"/>
<text x="1549.3" y="566" font-size="16.89" text-anchor="end" font-weight="bold" textLength="18.24" lengthAdjust="spacingAndGlyphs">80</text>
<text x="1549.3" y="619.6" font-size="16.89" text-anchor="end" font-weight="bold" textLength="18.24" lengthAdjust="spacingAndGlyphs">70</text>
<text x="1549.3" y="640.7" font-size="16.89" text-anchor="end" font-weight="bold" textLength="18.24" lengthAdjust="spacingAndGlyphs">10</text>
<line x1="1551.8" y1="656" x2="1558.8" y2="656" stroke="#000" stroke-width="2.3" stroke-linecap="butt"/>
<text x="1549.3" y="663" font-size="16.89" text-anchor="end" font-weight="bold" textLength="9.12" lengthAdjust="spacingAndGlyphs">5</text>
<line x1="1551.8" y1="677.2" x2="1558.8" y2="677.2" stroke="#000" stroke-width="2.3" stroke-linecap="butt"/>
<text x="1549.3" y="684.2" font-size="16.89" text-anchor="end" font-weight="bold" textLength="9.12" lengthAdjust="spacingAndGlyphs">0</text>
<line x1="1589.9" y1="565.9" x2="1589.9" y2="571.6" stroke="#000" stroke-width="1.6" stroke-linecap="butt"/>
<line x1="1583.6" y1="565.9" x2="1596.2" y2="565.9" stroke="#000" stroke-width="1.6" stroke-linecap="butt"/>
<line x1="1583.6" y1="571.6" x2="1596.2" y2="571.6" stroke="#000" stroke-width="1.6" stroke-linecap="butt"/>
<line x1="1636.4" y1="560.7" x2="1636.4" y2="572.8" stroke="#000" stroke-width="1.6" stroke-linecap="butt"/>
<line x1="1630.1" y1="560.7" x2="1642.7" y2="560.7" stroke="#000" stroke-width="1.6" stroke-linecap="butt"/>
<line x1="1630.1" y1="572.8" x2="1642.7" y2="572.8" stroke="#000" stroke-width="1.6" stroke-linecap="butt"/>
<line x1="1682.5" y1="534.9" x2="1682.5" y2="545.8" stroke="#000" stroke-width="1.6" stroke-linecap="butt"/>
<line x1="1676.2" y1="534.9" x2="1688.8" y2="534.9" stroke="#000" stroke-width="1.6" stroke-linecap="butt"/>
<line x1="1676.2" y1="545.8" x2="1688.8" y2="545.8" stroke="#000" stroke-width="1.6" stroke-linecap="butt"/>
<circle cx="1589.88" cy="556.44" r="4.5" fill="#000"/>
<circle cx="1577.54" cy="567.91" r="4.5" fill="#000"/>
<circle cx="1589.88" cy="569.35" r="4.5" fill="#000"/>
<circle cx="1601.93" cy="571.64" r="4.5" fill="#000"/>
<circle cx="1577.54" cy="577.38" r="4.5" fill="#000"/>
<circle cx="1636.35" cy="546.39" r="4.5" fill="#000"/>
<circle cx="1643.53" cy="563.03" r="4.5" fill="#000"/>
<circle cx="1629.18" cy="566.48" r="4.5" fill="#000"/>
<circle cx="1636.35" cy="574.51" r="4.5" fill="#000"/>
<circle cx="1636.35" cy="584.55" r="4.5" fill="#000"/>
<circle cx="1675.66" cy="525.74" r="4.5" fill="#000"/>
<circle cx="1689.43" cy="531.19" r="4.5" fill="#000"/>
<circle cx="1675.66" cy="537.79" r="4.5" fill="#000"/>
<circle cx="1675.66" cy="552.99" r="4.5" fill="#000"/>
<circle cx="1689.43" cy="552.99" r="4.5" fill="#000"/>
<polyline points="1588.2,466 1588.2,456.6 1683.1,456.6 1683.1,466" fill="none" stroke="#000" stroke-width="1.4" stroke-linejoin="miter" stroke-linecap="butt"/>
<text x="1636.4" y="460.5" font-size="24.72" text-anchor="middle" font-weight="bold" textLength="18.68" lengthAdjust="spacingAndGlyphs">**</text>
<polyline points="1635.5,488.4 1635.5,479 1683.1,479 1683.1,488.4" fill="none" stroke="#000" stroke-width="1.4" stroke-linejoin="miter" stroke-linecap="butt"/>
<text x="1659.6" y="482.5" font-size="24.72" text-anchor="middle" font-weight="bold" textLength="18.68" lengthAdjust="spacingAndGlyphs">**</text>
<text x="1518.7" y="572.6" font-size="22.66" text-anchor="middle" transform="rotate(-90 1518.7 572.6)" textLength="203" lengthAdjust="spacingAndGlyphs">Acetyl H3<tspan font-size="11.5" dy="-7.5">+</tspan><tspan dy="7.5"> cells (%)</tspan></text>
<text x="1543.7" y="715.7" font-size="20.19" textLength="62.5" lengthAdjust="spacingAndGlyphs">Control</text>
<text x="1612.5" y="715.7" font-size="20.19" textLength="51.1" lengthAdjust="spacingAndGlyphs">SAHA</text>
<text x="1674.5" y="715.7" font-size="20.19" textLength="67.1" lengthAdjust="spacingAndGlyphs">DDI199</text>
<rect x="1805.9" y="539.8" width="29.8" height="142.3" fill="#808080" stroke="#000" stroke-width="1.45"/>
<rect x="1851.8" y="524.9" width="30.4" height="157.2" fill="#0A7F98" stroke="#000" stroke-width="1.45"/>
<rect x="1898" y="495" width="30.4" height="187.1" fill="#FF8000" stroke="#000" stroke-width="1.45"/>
<line x1="1790.7" y1="448.55" x2="1790.7" y2="683.25" stroke="#000" stroke-width="2.3" stroke-linecap="butt"/>
<line x1="1782.2" y1="682.1" x2="1944.8" y2="682.1" stroke="#000" stroke-width="2.3" stroke-linecap="butt"/>
<line x1="1782.7" y1="449.7" x2="1790.7" y2="449.7" stroke="#000" stroke-width="2.3" stroke-linecap="butt"/>
<text x="1780.2" y="456.7" font-size="16.89" text-anchor="end" font-weight="bold" textLength="22.8" lengthAdjust="spacingAndGlyphs">0.4</text>
<line x1="1782.7" y1="508.2" x2="1790.7" y2="508.2" stroke="#000" stroke-width="2.3" stroke-linecap="butt"/>
<text x="1780.2" y="515.2" font-size="16.89" text-anchor="end" font-weight="bold" textLength="22.8" lengthAdjust="spacingAndGlyphs">0.3</text>
<line x1="1782.7" y1="566.5" x2="1790.7" y2="566.5" stroke="#000" stroke-width="2.3" stroke-linecap="butt"/>
<text x="1780.2" y="573.5" font-size="16.89" text-anchor="end" font-weight="bold" textLength="22.8" lengthAdjust="spacingAndGlyphs">0.2</text>
<line x1="1782.7" y1="624.4" x2="1790.7" y2="624.4" stroke="#000" stroke-width="2.3" stroke-linecap="butt"/>
<text x="1780.2" y="631.4" font-size="16.89" text-anchor="end" font-weight="bold" textLength="22.8" lengthAdjust="spacingAndGlyphs">0.1</text>
<line x1="1782.7" y1="682.1" x2="1790.7" y2="682.1" stroke="#000" stroke-width="2.3" stroke-linecap="butt"/>
<text x="1780.2" y="689.1" font-size="16.89" text-anchor="end" font-weight="bold" textLength="9.12" lengthAdjust="spacingAndGlyphs">0</text>
<line x1="1820.8" y1="532.6" x2="1820.8" y2="546.4" stroke="#000" stroke-width="1.6" stroke-linecap="butt"/>
<line x1="1814.5" y1="532.6" x2="1827.1" y2="532.6" stroke="#000" stroke-width="1.6" stroke-linecap="butt"/>
<line x1="1814.5" y1="546.4" x2="1827.1" y2="546.4" stroke="#000" stroke-width="1.6" stroke-linecap="butt"/>
<line x1="1867" y1="519.7" x2="1867" y2="529.8" stroke="#000" stroke-width="1.6" stroke-linecap="butt"/>
<line x1="1860.7" y1="519.7" x2="1873.3" y2="519.7" stroke="#000" stroke-width="1.6" stroke-linecap="butt"/>
<line x1="1860.7" y1="529.8" x2="1873.3" y2="529.8" stroke="#000" stroke-width="1.6" stroke-linecap="butt"/>
<line x1="1913.2" y1="484.7" x2="1913.2" y2="504.8" stroke="#000" stroke-width="1.6" stroke-linecap="butt"/>
<line x1="1906.9" y1="484.7" x2="1919.5" y2="484.7" stroke="#000" stroke-width="1.6" stroke-linecap="butt"/>
<line x1="1906.9" y1="504.8" x2="1919.5" y2="504.8" stroke="#000" stroke-width="1.6" stroke-linecap="butt"/>
<circle cx="1820.82" cy="520.57" r="4.5" fill="#000"/>
<circle cx="1820.82" cy="542.09" r="4.5" fill="#000"/>
<circle cx="1813.65" cy="549.84" r="4.5" fill="#000"/>
<circle cx="1827.71" cy="549.84" r="4.5" fill="#000"/>
<circle cx="1867.01" cy="509.1" r="4.5" fill="#000"/>
<circle cx="1873.9" cy="520" r="4.5" fill="#000"/>
<circle cx="1860.12" cy="526.89" r="4.5" fill="#000"/>
<circle cx="1873.9" cy="531.19" r="4.5" fill="#000"/>
<circle cx="1860.12" cy="536.93" r="4.5" fill="#000"/>
<circle cx="1913.2" cy="462.62" r="4.5" fill="#000"/>
<circle cx="1913.2" cy="485.57" r="4.5" fill="#000"/>
<circle cx="1913.2" cy="497.62" r="4.5" fill="#000"/>
<circle cx="1906.03" cy="513.98" r="4.5" fill="#000"/>
<circle cx="1920.37" cy="513.98" r="4.5" fill="#000"/>
<polyline points="1821.4,425.9 1821.4,416.7 1916.1,416.7 1916.1,425.9" fill="none" stroke="#000" stroke-width="1.4" stroke-linejoin="miter" stroke-linecap="butt"/>
<text x="1869.3" y="420.5" font-size="24.72" text-anchor="middle" font-weight="bold" textLength="28.02" lengthAdjust="spacingAndGlyphs">***</text>
<polyline points="1868.7,446.6 1868.7,437.4 1916.1,437.4 1916.1,446.6" fill="none" stroke="#000" stroke-width="1.4" stroke-linejoin="miter" stroke-linecap="butt"/>
<text x="1892.3" y="434.5" font-size="11.33" text-anchor="middle" textLength="6.04" lengthAdjust="spacingAndGlyphs">≠</text>
<polyline points="1821.4,468.4 1821.4,459.8 1868.7,459.8 1868.7,468.4" fill="none" stroke="#000" stroke-width="1.4" stroke-linejoin="miter" stroke-linecap="butt"/>
<text x="1845.2" y="462" font-size="24.72" text-anchor="middle" font-weight="bold" textLength="9.34" lengthAdjust="spacingAndGlyphs">*</text>
<text x="1748.8" y="563.3" font-size="22.66" text-anchor="middle" transform="rotate(-90 1748.8 563.3)" textLength="241.6" lengthAdjust="spacingAndGlyphs">acetyl <tspan font-weight="bold">α</tspan>- -tub (intensity)</text>
<text x="1772.6" y="715.7" font-size="20.19" textLength="61.7" lengthAdjust="spacingAndGlyphs">Control</text>
<text x="1840.6" y="715.7" font-size="20.19" textLength="51.7" lengthAdjust="spacingAndGlyphs">SAHA</text>
<text x="1903.2" y="715.7" font-size="20.19" textLength="66.8" lengthAdjust="spacingAndGlyphs">DDI199</text>
<rect x="1572.4" y="832.4" width="30.4" height="114.4" fill="#808080"/>
<polyline points="1572.4,946.8 1572.4,832.4 1602.8,832.4 1602.8,946.8" fill="none" stroke="#000" stroke-width="1.45" stroke-linejoin="miter" stroke-linecap="butt"/>
<rect x="1572.4" y="963.8" width="30.4" height="43.6" fill="#808080"/>
<line x1="1572.4" y1="963.8" x2="1572.4" y2="1007.4" stroke="#000" stroke-width="1.45" stroke-linecap="butt"/>
<line x1="1602.8" y1="963.8" x2="1602.8" y2="1007.4" stroke="#000" stroke-width="1.45" stroke-linecap="butt"/>
<rect x="1618.6" y="870.3" width="30.4" height="76.5" fill="#0A7F98"/>
<polyline points="1618.6,946.8 1618.6,870.3 1649,870.3 1649,946.8" fill="none" stroke="#000" stroke-width="1.45" stroke-linejoin="miter" stroke-linecap="butt"/>
<rect x="1618.6" y="963.8" width="30.4" height="43.6" fill="#0A7F98"/>
<line x1="1618.6" y1="963.8" x2="1618.6" y2="1007.4" stroke="#000" stroke-width="1.45" stroke-linecap="butt"/>
<line x1="1649" y1="963.8" x2="1649" y2="1007.4" stroke="#000" stroke-width="1.45" stroke-linecap="butt"/>
<rect x="1664.8" y="866.8" width="30.7" height="80" fill="#FF8000"/>
<polyline points="1664.8,946.8 1664.8,866.8 1695.5,866.8 1695.5,946.8" fill="none" stroke="#000" stroke-width="1.45" stroke-linejoin="miter" stroke-linecap="butt"/>
<rect x="1664.8" y="963.8" width="30.7" height="43.6" fill="#FF8000"/>
<line x1="1664.8" y1="963.8" x2="1664.8" y2="1007.4" stroke="#000" stroke-width="1.45" stroke-linecap="butt"/>
<line x1="1695.5" y1="963.8" x2="1695.5" y2="1007.4" stroke="#000" stroke-width="1.45" stroke-linecap="butt"/>
<line x1="1556.9" y1="773.85" x2="1556.9" y2="946.8" stroke="#000" stroke-width="2.3" stroke-linecap="butt"/>
<line x1="1556.9" y1="963.8" x2="1556.9" y2="1008.55" stroke="#000" stroke-width="2.3" stroke-linecap="butt"/>
<line x1="1550.9" y1="941.8" x2="1562.9" y2="953.4" stroke="#000" stroke-width="2.3" stroke-linecap="butt"/>
<line x1="1550.9" y1="957.4" x2="1562.9" y2="969" stroke="#000" stroke-width="2.3" stroke-linecap="butt"/>
<line x1="1548.4" y1="1007.4" x2="1711.8" y2="1007.4" stroke="#000" stroke-width="2.3" stroke-linecap="butt"/>
<line x1="1548.9" y1="775" x2="1556.9" y2="775" stroke="#000" stroke-width="2.3" stroke-linecap="butt"/>
<text x="1546.4" y="782" font-size="16.89" text-anchor="end" font-weight="bold" textLength="18.24" lengthAdjust="spacingAndGlyphs">80</text>
<line x1="1548.9" y1="832.4" x2="1556.9" y2="832.4" stroke="#000" stroke-width="2.3" stroke-linecap="butt"/>
<text x="1546.4" y="839.4" font-size="16.89" text-anchor="end" font-weight="bold" textLength="18.24" lengthAdjust="spacingAndGlyphs">70</text>
<line x1="1548.9" y1="889.8" x2="1556.9" y2="889.8" stroke="#000" stroke-width="2.3" stroke-linecap="butt"/>
<text x="1546.4" y="896.8" font-size="16.89" text-anchor="end" font-weight="bold" textLength="18.24" lengthAdjust="spacingAndGlyphs">60</text>
<text x="1546.4" y="953.2" font-size="16.89" text-anchor="end" font-weight="bold" textLength="18.24" lengthAdjust="spacingAndGlyphs">50</text>
<text x="1546.4" y="971.5" font-size="16.89" text-anchor="end" font-weight="bold" textLength="18.24" lengthAdjust="spacingAndGlyphs">10</text>
<line x1="1548.9" y1="985.3" x2="1556.9" y2="985.3" stroke="#000" stroke-width="2.3" stroke-linecap="butt"/>
<text x="1546.4" y="992.3" font-size="16.89" text-anchor="end" font-weight="bold" textLength="9.12" lengthAdjust="spacingAndGlyphs">5</text>
<line x1="1548.9" y1="1007.4" x2="1556.9" y2="1007.4" stroke="#000" stroke-width="2.3" stroke-linecap="butt"/>
<text x="1546.4" y="1014.4" font-size="16.89" text-anchor="end" font-weight="bold" textLength="9.12" lengthAdjust="spacingAndGlyphs">0</text>
<line x1="1587.6" y1="824.1" x2="1587.6" y2="840.7" stroke="#000" stroke-width="1.6" stroke-linecap="butt"/>
<line x1="1580.8" y1="824.1" x2="1594.4" y2="824.1" stroke="#000" stroke-width="1.6" stroke-linecap="butt"/>
<line x1="1580.8" y1="840.7" x2="1594.4" y2="840.7" stroke="#000" stroke-width="1.6" stroke-linecap="butt"/>
<line x1="1633.8" y1="854.5" x2="1633.8" y2="885.5" stroke="#000" stroke-width="1.6" stroke-linecap="butt"/>
<line x1="1627" y1="854.5" x2="1640.6" y2="854.5" stroke="#000" stroke-width="1.6" stroke-linecap="butt"/>
<line x1="1627" y1="885.5" x2="1640.6" y2="885.5" stroke="#000" stroke-width="1.6" stroke-linecap="butt"/>
<line x1="1680" y1="856.8" x2="1680" y2="876" stroke="#000" stroke-width="1.6" stroke-linecap="butt"/>
<line x1="1673.2" y1="856.8" x2="1686.8" y2="856.8" stroke="#000" stroke-width="1.6" stroke-linecap="butt"/>
<line x1="1673.2" y1="876" x2="1686.8" y2="876" stroke="#000" stroke-width="1.6" stroke-linecap="butt"/>
<circle cx="1587.58" cy="816.07" r="4.5" fill="#000"/>
<circle cx="1574.67" cy="822.38" r="4.5" fill="#000"/>
<circle cx="1599.92" cy="822.38" r="4.5" fill="#000"/>
<circle cx="1587.58" cy="837.58" r="4.5" fill="#000"/>
<circle cx="1587.58" cy="862.54" r="4.5" fill="#000"/>
<circle cx="1633.77" cy="826.68" r="4.5" fill="#000"/>
<circle cx="1633.77" cy="872.58" r="4.5" fill="#000"/>
<circle cx="1633.77" cy="881.19" r="4.5" fill="#000"/>
<circle cx="1633.77" cy="899.26" r="4.5" fill="#000"/>
<circle cx="1679.96" cy="836.15" r="4.5" fill="#000"/>
<circle cx="1679.96" cy="858.53" r="4.5" fill="#000"/>
<circle cx="1679.96" cy="865.41" r="4.5" fill="#000"/>
<circle cx="1672.79" cy="887.21" r="4.5" fill="#000"/>
<circle cx="1687.13" cy="885.49" r="4.5" fill="#000"/>
<polyline points="1588.2,778.2 1588.2,768.7 1685.4,768.7 1685.4,778.2" fill="none" stroke="#000" stroke-width="1.4" stroke-linejoin="miter" stroke-linecap="butt"/>
<text x="1637.2" y="772.5" font-size="24.72" text-anchor="middle" font-weight="bold" textLength="9.34" lengthAdjust="spacingAndGlyphs">*</text>
<polyline points="1588.2,798.3 1588.2,788.8 1635.8,788.8 1635.8,798.3" fill="none" stroke="#000" stroke-width="1.4" stroke-linejoin="miter" stroke-linecap="butt"/>
<text x="1613.4" y="786" font-size="11.33" text-anchor="middle" textLength="6.04" lengthAdjust="spacingAndGlyphs">≠</text>
<text x="1517.9" y="882" font-size="22.66" text-anchor="middle" transform="rotate(-90 1517.9 882)" textLength="166.4" lengthAdjust="spacingAndGlyphs">PCNA<tspan font-size="11.5" dy="-7.5">+</tspan><tspan dy="7.5"> cells (%)</tspan></text>
<text x="1530.2" y="1039.8" font-size="20.19" textLength="62.3" lengthAdjust="spacingAndGlyphs">Control</text>
<text x="1606.8" y="1039.8" font-size="20.19" textLength="51.6" lengthAdjust="spacingAndGlyphs">SAHA</text>
<text x="1667.9" y="1039.8" font-size="20.19" textLength="66.9" lengthAdjust="spacingAndGlyphs">DDI199</text>
<rect x="1812.8" y="941.4" width="30.4" height="67.5" fill="#686868" stroke="#000" stroke-width="1.45"/>
<rect x="1859" y="884.6" width="30.4" height="124.3" fill="#0A7F98" stroke="#000" stroke-width="1.45"/>
<rect x="1905.5" y="870.6" width="30.4" height="138.3" fill="#FF8000" stroke="#000" stroke-width="1.45"/>
<line x1="1796.4" y1="773.85" x2="1796.4" y2="1010.05" stroke="#000" stroke-width="2.3" stroke-linecap="butt"/>
<line x1="1787.9" y1="1008.9" x2="1952.5" y2="1008.9" stroke="#000" stroke-width="2.3" stroke-linecap="butt"/>
<line x1="1788.4" y1="775" x2="1796.4" y2="775" stroke="#000" stroke-width="2.3" stroke-linecap="butt"/>
<text x="1785.9" y="782" font-size="16.89" text-anchor="end" font-weight="bold" textLength="22.8" lengthAdjust="spacingAndGlyphs">2.5</text>
<line x1="1788.4" y1="822.4" x2="1796.4" y2="822.4" stroke="#000" stroke-width="2.3" stroke-linecap="butt"/>
<text x="1785.9" y="829.4" font-size="16.89" text-anchor="end" font-weight="bold" textLength="22.8" lengthAdjust="spacingAndGlyphs">2.0</text>
<line x1="1788.4" y1="869.1" x2="1796.4" y2="869.1" stroke="#000" stroke-width="2.3" stroke-linecap="butt"/>
<text x="1785.9" y="876.1" font-size="16.89" text-anchor="end" font-weight="bold" textLength="22.8" lengthAdjust="spacingAndGlyphs">1.5</text>
<line x1="1788.4" y1="915.9" x2="1796.4" y2="915.9" stroke="#000" stroke-width="2.3" stroke-linecap="butt"/>
<text x="1785.9" y="922.9" font-size="16.89" text-anchor="end" font-weight="bold" textLength="22.8" lengthAdjust="spacingAndGlyphs">1.0</text>
<line x1="1788.4" y1="962.7" x2="1796.4" y2="962.7" stroke="#000" stroke-width="2.3" stroke-linecap="butt"/>
<text x="1785.9" y="969.7" font-size="16.89" text-anchor="end" font-weight="bold" textLength="22.8" lengthAdjust="spacingAndGlyphs">0.5</text>
<line x1="1788.4" y1="1008.9" x2="1796.4" y2="1008.9" stroke="#000" stroke-width="2.3" stroke-linecap="butt"/>
<text x="1785.9" y="1015.9" font-size="16.89" text-anchor="end" font-weight="bold" textLength="9.12" lengthAdjust="spacingAndGlyphs">0</text>
<line x1="1828" y1="922.8" x2="1828" y2="959.5" stroke="#000" stroke-width="1.6" stroke-linecap="butt"/>
<line x1="1821" y1="922.8" x2="1835" y2="922.8" stroke="#000" stroke-width="1.6" stroke-linecap="butt"/>
<line x1="1821" y1="959.5" x2="1835" y2="959.5" stroke="#000" stroke-width="1.6" stroke-linecap="butt"/>
<line x1="1874.5" y1="869.7" x2="1874.5" y2="898.7" stroke="#000" stroke-width="1.6" stroke-linecap="butt"/>
<line x1="1867.5" y1="869.7" x2="1881.5" y2="869.7" stroke="#000" stroke-width="1.6" stroke-linecap="butt"/>
<line x1="1867.5" y1="898.7" x2="1881.5" y2="898.7" stroke="#000" stroke-width="1.6" stroke-linecap="butt"/>
<line x1="1920.7" y1="858.2" x2="1920.7" y2="882.1" stroke="#000" stroke-width="1.6" stroke-linecap="butt"/>
<line x1="1913.7" y1="858.2" x2="1927.7" y2="858.2" stroke="#000" stroke-width="1.6" stroke-linecap="butt"/>
<line x1="1913.7" y1="882.1" x2="1927.7" y2="882.1" stroke="#000" stroke-width="1.6" stroke-linecap="butt"/>
<circle cx="1827.99" cy="877.17" r="4.5" fill="#000"/>
<circle cx="1827.99" cy="926.52" r="4.5" fill="#000"/>
<circle cx="1827.99" cy="958.07" r="4.5" fill="#000"/>
<circle cx="1835.17" cy="970.41" r="4.5" fill="#000"/>
<circle cx="1820.82" cy="974.71" r="4.5" fill="#000"/>
<circle cx="1874.47" cy="826.97" r="4.5" fill="#000"/>
<circle cx="1867.3" cy="894.1" r="4.5" fill="#000"/>
<circle cx="1881.64" cy="894.1" r="4.5" fill="#000"/>
<circle cx="1867.3" cy="904.14" r="4.5" fill="#000"/>
<circle cx="1881.64" cy="902.99" r="4.5" fill="#000"/>
<circle cx="1913.49" cy="844.18" r="4.5" fill="#000"/>
<circle cx="1927.54" cy="846.19" r="4.5" fill="#000"/>
<circle cx="1920.66" cy="864.26" r="4.5" fill="#000"/>
<circle cx="1927.54" cy="894.96" r="4.5" fill="#000"/>
<circle cx="1913.49" cy="901.56" r="4.5" fill="#000"/>
<polyline points="1826.6,785.9 1826.6,775.9 1921.2,775.9 1921.2,785.9" fill="none" stroke="#000" stroke-width="1.4" stroke-linejoin="miter" stroke-linecap="butt"/>
<text x="1875.3" y="780" font-size="24.72" text-anchor="middle" font-weight="bold" textLength="9.34" lengthAdjust="spacingAndGlyphs">*</text>
<polyline points="1826.6,808.1 1826.6,798.9 1876.5,798.9 1876.5,808.1" fill="none" stroke="#000" stroke-width="1.4" stroke-linejoin="miter" stroke-linecap="butt"/>
<text x="1852.1" y="802.5" font-size="24.72" text-anchor="middle" font-weight="bold" textLength="9.34" lengthAdjust="spacingAndGlyphs">*</text>
<text x="1748.8" y="874.2" font-size="22.66" text-anchor="middle" transform="rotate(-90 1748.8 874.2)" textLength="213.7" lengthAdjust="spacingAndGlyphs">Caspase-3<tspan font-size="11.5" dy="-7.5">+</tspan><tspan dy="7.5"> cells (%)</tspan></text>
<text x="1770.6" y="1039.8" font-size="20.19" textLength="62.3" lengthAdjust="spacingAndGlyphs">Control</text>
<text x="1840" y="1039.8" font-size="20.19" textLength="50.8" lengthAdjust="spacingAndGlyphs">SAHA</text>
<text x="1901.7" y="1039.8" font-size="20.19" textLength="66" lengthAdjust="spacingAndGlyphs">DDI199</text>
<polyline points="496.6,1345.1 562,1345.1 562,1449.2 585.3,1449.2 585.3,1552" fill="none" stroke="#FF8000" stroke-width="2" stroke-linejoin="miter" stroke-linecap="butt"/>
<polyline points="181.6,1243.4 476.7,1243.4 476.7,1293.5 499.6,1293.5 499.6,1500.4 515.6,1500.4 515.6,1552" fill="none" stroke="#0A7F98" stroke-width="2" stroke-linejoin="miter" stroke-linecap="butt"/>
<polyline points="181.6,1243.4 461.1,1243.4 461.1,1319.7 476.7,1319.7 476.7,1397.7 499.6,1397.7 499.6,1552" fill="none" stroke="#000" stroke-width="2" stroke-linejoin="miter" stroke-linecap="butt"/>
<rect x="496.5" y="1339.8" width="6.2" height="6.2" fill="#FF8000"/>
<rect x="558.9" y="1442.9" width="6.2" height="6.2" fill="#FF8000"/>
<rect x="582.2" y="1546.1" width="6.2" height="6.2" fill="#FF8000"/>
<rect x="473.6" y="1287.9" width="6.2" height="6.2" fill="#0A7F98"/>
<rect x="496.5" y="1495.1" width="6.2" height="6.2" fill="#0A7F98"/>
<rect x="512.5" y="1546.1" width="6.2" height="6.2" fill="#0A7F98"/>
<rect x="458" y="1314" width="6.2" height="6.2" fill="#000"/>
<rect x="473.6" y="1391.7" width="6.2" height="6.2" fill="#000"/>
<rect x="496.5" y="1546.1" width="6.2" height="6.2" fill="#000"/>
<line x1="181.6" y1="1242" x2="181.6" y2="1553.4" stroke="#000" stroke-width="2.8" stroke-linecap="butt"/>
<line x1="180.2" y1="1552" x2="648.72" y2="1552" stroke="#000" stroke-width="2.9" stroke-linecap="butt"/>
<line x1="181.6" y1="1552" x2="191.1" y2="1552" stroke="#000" stroke-width="2.6" stroke-linecap="butt"/>
<text x="169.5" y="1561.5" font-size="23.28" text-anchor="end" textLength="12.57" lengthAdjust="spacingAndGlyphs">0</text>
<line x1="181.6" y1="1490.28" x2="191.1" y2="1490.28" stroke="#000" stroke-width="2.6" stroke-linecap="butt"/>
<text x="169.5" y="1501.28" font-size="23.28" text-anchor="end" textLength="25.14" lengthAdjust="spacingAndGlyphs">20</text>
<line x1="181.6" y1="1428.56" x2="191.1" y2="1428.56" stroke="#000" stroke-width="2.6" stroke-linecap="butt"/>
<text x="169.5" y="1439.56" font-size="23.28" text-anchor="end" textLength="25.14" lengthAdjust="spacingAndGlyphs">40</text>
<line x1="181.6" y1="1366.84" x2="191.1" y2="1366.84" stroke="#000" stroke-width="2.6" stroke-linecap="butt"/>
<text x="169.5" y="1377.84" font-size="23.28" text-anchor="end" textLength="25.14" lengthAdjust="spacingAndGlyphs">60</text>
<line x1="181.6" y1="1305.12" x2="191.1" y2="1305.12" stroke="#000" stroke-width="2.6" stroke-linecap="butt"/>
<text x="169.5" y="1316.12" font-size="23.28" text-anchor="end" textLength="25.14" lengthAdjust="spacingAndGlyphs">80</text>
<line x1="181.6" y1="1243.4" x2="191.1" y2="1243.4" stroke="#000" stroke-width="2.6" stroke-linecap="butt"/>
<text x="169.5" y="1254.4" font-size="23.28" text-anchor="end" textLength="37.71" lengthAdjust="spacingAndGlyphs">100</text>
<line x1="259.22" y1="1552" x2="259.22" y2="1543" stroke="#000" stroke-width="2.6" stroke-linecap="butt"/>
<line x1="336.84" y1="1552" x2="336.84" y2="1543" stroke="#000" stroke-width="2.6" stroke-linecap="butt"/>
<line x1="414.46" y1="1552" x2="414.46" y2="1543" stroke="#000" stroke-width="2.6" stroke-linecap="butt"/>
<line x1="492.08" y1="1552" x2="492.08" y2="1543" stroke="#000" stroke-width="2.6" stroke-linecap="butt"/>
<line x1="569.7" y1="1552" x2="569.7" y2="1543" stroke="#000" stroke-width="2.6" stroke-linecap="butt"/>
<line x1="647.32" y1="1552" x2="647.32" y2="1543" stroke="#000" stroke-width="2.6" stroke-linecap="butt"/>
<text x="184.1" y="1582.2" font-size="23.69" text-anchor="middle" textLength="12.79" lengthAdjust="spacingAndGlyphs">0</text>
<text x="257.1" y="1582.2" font-size="23.69" text-anchor="middle" textLength="25.58" lengthAdjust="spacingAndGlyphs">10</text>
<text x="335.9" y="1582.2" font-size="23.69" text-anchor="middle" textLength="25.58" lengthAdjust="spacingAndGlyphs">20</text>
<text x="412.1" y="1582.2" font-size="23.69" text-anchor="middle" textLength="25.58" lengthAdjust="spacingAndGlyphs">30</text>
<text x="489.4" y="1582.2" font-size="23.69" text-anchor="middle" textLength="25.58" lengthAdjust="spacingAndGlyphs">40</text>
<text x="568.2" y="1582.2" font-size="23.69" text-anchor="middle" textLength="25.58" lengthAdjust="spacingAndGlyphs">50</text>
<text x="644.4" y="1582.2" font-size="23.69" text-anchor="middle" textLength="25.58" lengthAdjust="spacingAndGlyphs">60</text>
<text x="381" y="1621" font-size="22.66" text-anchor="middle" textLength="121" lengthAdjust="spacingAndGlyphs">Time (days)</text>
<text x="105.4" y="1398.6" font-size="22.66" text-anchor="middle" transform="rotate(-90 105.4 1398.6)" textLength="121.6" lengthAdjust="spacingAndGlyphs">Survival (%)</text>
<line x1="225.9" y1="1413.3" x2="267.6" y2="1413.3" stroke="#000" stroke-width="1.6" stroke-linecap="butt"/>
<circle cx="246.6" cy="1413.3" r="3.6" fill="#000"/>
<text x="277.1" y="1427" font-size="23.28" textLength="73.5" lengthAdjust="spacingAndGlyphs">Control</text>
<line x1="225.9" y1="1456.9" x2="267.6" y2="1456.9" stroke="#0A7F98" stroke-width="1.6" stroke-linecap="butt"/>
<rect x="243.3" y="1453.6" width="6.6" height="6.6" fill="#0A7F98"/>
<text x="276" y="1465" font-size="23.28" textLength="61.5" lengthAdjust="spacingAndGlyphs">SAHA</text>
<line x1="225.9" y1="1500.1" x2="267.6" y2="1500.1" stroke="#FF8000" stroke-width="1.6" stroke-linecap="butt"/>
<polygon points="242.8,1497.56 250.4,1497.56 246.6,1504.02" fill="#FF8000"/>
<text x="277.1" y="1510" font-size="23.28" textLength="76" lengthAdjust="spacingAndGlyphs">DDI199</text>
<line x1="502.9" y1="1484.5" x2="582.7" y2="1484.5" stroke="#000" stroke-width="4.4" stroke-linecap="butt"/>
<line x1="518.5" y1="1529.5" x2="582.7" y2="1529.5" stroke="#0A7F98" stroke-width="4.4" stroke-linecap="butt"/>
<text x="543.9" y="1491" font-size="29.87" text-anchor="middle" font-weight="bold" textLength="11.29" lengthAdjust="spacingAndGlyphs">*</text>
<text x="545.7" y="1533" font-size="30.9" text-anchor="middle" fill="#4472C4" textLength="11.67" lengthAdjust="spacingAndGlyphs">*</text>
<rect x="768.5" y="1371.6" width="37.7" height="181.4" fill="#686868" stroke="#000" stroke-width="1.7"/>
<rect x="825.5" y="1406" width="37.3" height="147" fill="#0A7F98" stroke="#000" stroke-width="1.7"/>
<rect x="882.4" y="1435.2" width="37.4" height="117.8" fill="#FF8000" stroke="#000" stroke-width="1.7"/>
<line x1="748.5" y1="1282.55" x2="748.5" y2="1554.45" stroke="#000" stroke-width="2.9" stroke-linecap="butt"/>
<line x1="747.05" y1="1553" x2="939.8" y2="1553" stroke="#000" stroke-width="2.9" stroke-linecap="butt"/>
<line x1="748.5" y1="1284" x2="758.1" y2="1284" stroke="#000" stroke-width="2.9" stroke-linecap="butt"/>
<text x="744" y="1291.3" font-size="21.22" text-anchor="end" font-weight="bold" textLength="34.37" lengthAdjust="spacingAndGlyphs">150</text>
<line x1="748.5" y1="1373.7" x2="758.1" y2="1373.7" stroke="#000" stroke-width="2.9" stroke-linecap="butt"/>
<text x="744" y="1381" font-size="21.22" text-anchor="end" font-weight="bold" textLength="34.37" lengthAdjust="spacingAndGlyphs">100</text>
<line x1="748.5" y1="1463.2" x2="758.1" y2="1463.2" stroke="#000" stroke-width="2.9" stroke-linecap="butt"/>
<text x="744" y="1470.5" font-size="21.22" text-anchor="end" font-weight="bold" textLength="22.91" lengthAdjust="spacingAndGlyphs">50</text>
<line x1="748.5" y1="1553" x2="758.1" y2="1553" stroke="#000" stroke-width="2.9" stroke-linecap="butt"/>
<text x="744" y="1560.3" font-size="21.22" text-anchor="end" font-weight="bold" textLength="11.46" lengthAdjust="spacingAndGlyphs">0</text>
<line x1="787.1" y1="1358.1" x2="787.1" y2="1384.6" stroke="#000" stroke-width="1.8" stroke-linecap="butt"/>
<line x1="777.5" y1="1358.1" x2="796.7" y2="1358.1" stroke="#000" stroke-width="1.8" stroke-linecap="butt"/>
<line x1="777.5" y1="1384.6" x2="796.7" y2="1384.6" stroke="#000" stroke-width="1.8" stroke-linecap="butt"/>
<line x1="844" y1="1402.7" x2="844" y2="1408.7" stroke="#000" stroke-width="1.8" stroke-linecap="butt"/>
<line x1="834.4" y1="1402.7" x2="853.6" y2="1402.7" stroke="#000" stroke-width="1.8" stroke-linecap="butt"/>
<line x1="834.4" y1="1408.7" x2="853.6" y2="1408.7" stroke="#000" stroke-width="1.8" stroke-linecap="butt"/>
<line x1="901" y1="1423.4" x2="901" y2="1446.1" stroke="#000" stroke-width="1.8" stroke-linecap="butt"/>
<line x1="891.4" y1="1423.4" x2="910.6" y2="1423.4" stroke="#000" stroke-width="1.8" stroke-linecap="butt"/>
<line x1="891.4" y1="1446.1" x2="910.6" y2="1446.1" stroke="#000" stroke-width="1.8" stroke-linecap="butt"/>
<circle cx="787.11" cy="1328.88" r="5.6" fill="#000"/>
<circle cx="778.19" cy="1350.82" r="5.6" fill="#000"/>
<circle cx="795.55" cy="1355.89" r="5.6" fill="#000"/>
<circle cx="787.11" cy="1372.53" r="5.6" fill="#000"/>
<circle cx="778.19" cy="1409.44" r="5.6" fill="#000"/>
<circle cx="795.55" cy="1409.44" r="5.6" fill="#000"/>
<circle cx="844.03" cy="1397.38" r="5.6" fill="#000"/>
<circle cx="858.99" cy="1407.51" r="5.6" fill="#000"/>
<circle cx="828.84" cy="1411.85" r="5.6" fill="#000"/>
<circle cx="844.03" cy="1406.54" r="5.6" fill="#000"/>
<circle cx="900.96" cy="1388.21" r="5.6" fill="#000"/>
<circle cx="900.96" cy="1422.22" r="5.6" fill="#000"/>
<circle cx="900.96" cy="1431.63" r="5.6" fill="#000"/>
<circle cx="900.96" cy="1447.3" r="5.6" fill="#000"/>
<circle cx="892.03" cy="1460.57" r="5.6" fill="#000"/>
<circle cx="909.64" cy="1460.57" r="5.6" fill="#000"/>
<polyline points="786.4,1312.2 786.4,1299.2 901,1299.2 901,1312.2" fill="none" stroke="#000" stroke-width="1.7" stroke-linejoin="miter" stroke-linecap="butt"/>
<text x="842.8" y="1293.5" font-size="14.94" text-anchor="middle" textLength="11.29" lengthAdjust="spacingAndGlyphs">**</text>
<text x="699.8" y="1430.5" font-size="22.66" text-anchor="middle" transform="rotate(-90 699.8 1430.5)" textLength="244.8" lengthAdjust="spacingAndGlyphs">Number of oncospheres</text>
<text x="748.8" y="1582.6" font-size="23.28" textLength="73.3" lengthAdjust="spacingAndGlyphs">Control</text>
<text x="835.3" y="1582.6" font-size="23.28" textLength="62.3" lengthAdjust="spacingAndGlyphs">SAHA</text>
<text x="908.4" y="1582.6" font-size="23.28" textLength="74.8" lengthAdjust="spacingAndGlyphs">DDI199</text>
<line x1="1105.4" y1="1195.6" x2="1105.4" y2="1568.3" stroke="#000" stroke-width="2" stroke-linecap="butt"/>
<line x1="1104.4" y1="1567.3" x2="1574.7" y2="1567.3" stroke="#000" stroke-width="2" stroke-linecap="butt"/>
<line x1="1105.4" y1="1567.3" x2="1115.4" y2="1567.3" stroke="#000" stroke-width="2" stroke-linecap="butt"/>
<text x="1099" y="1570.1" font-size="23.07" text-anchor="end" textLength="12.46" lengthAdjust="spacingAndGlyphs">0</text>
<line x1="1105.4" y1="1474.62" x2="1115.4" y2="1474.62" stroke="#000" stroke-width="2" stroke-linecap="butt"/>
<text x="1099" y="1484.92" font-size="23.07" text-anchor="end" textLength="37.37" lengthAdjust="spacingAndGlyphs">200</text>
<line x1="1105.4" y1="1381.95" x2="1115.4" y2="1381.95" stroke="#000" stroke-width="2" stroke-linecap="butt"/>
<text x="1099" y="1392.25" font-size="23.07" text-anchor="end" textLength="37.37" lengthAdjust="spacingAndGlyphs">400</text>
<line x1="1105.4" y1="1289.27" x2="1115.4" y2="1289.27" stroke="#000" stroke-width="2" stroke-linecap="butt"/>
<text x="1099" y="1299.57" font-size="23.07" text-anchor="end" textLength="37.37" lengthAdjust="spacingAndGlyphs">600</text>
<line x1="1105.4" y1="1196.6" x2="1115.4" y2="1196.6" stroke="#000" stroke-width="2" stroke-linecap="butt"/>
<text x="1099" y="1206.9" font-size="23.07" text-anchor="end" textLength="37.37" lengthAdjust="spacingAndGlyphs">800</text>
<line x1="1198.7" y1="1567.3" x2="1198.7" y2="1561.3" stroke="#000" stroke-width="2" stroke-linecap="butt"/>
<line x1="1292.4" y1="1567.3" x2="1292.4" y2="1561.3" stroke="#000" stroke-width="2" stroke-linecap="butt"/>
<line x1="1386" y1="1567.3" x2="1386" y2="1561.3" stroke="#000" stroke-width="2" stroke-linecap="butt"/>
<line x1="1479.7" y1="1567.3" x2="1479.7" y2="1561.3" stroke="#000" stroke-width="2" stroke-linecap="butt"/>
<line x1="1573.7" y1="1567.3" x2="1573.7" y2="1561.3" stroke="#000" stroke-width="2" stroke-linecap="butt"/>
<text x="1113.4" y="1594" font-size="26.37" text-anchor="middle" textLength="14.24" lengthAdjust="spacingAndGlyphs">0</text>
<text x="1198.7" y="1594" font-size="26.37" text-anchor="middle" textLength="14.24" lengthAdjust="spacingAndGlyphs">5</text>
<text x="1294.5" y="1594" font-size="26.37" text-anchor="middle" textLength="28.48" lengthAdjust="spacingAndGlyphs">10</text>
<text x="1387.5" y="1594" font-size="26.37" text-anchor="middle" textLength="28.48" lengthAdjust="spacingAndGlyphs">15</text>
<text x="1480" y="1594" font-size="26.37" text-anchor="middle" textLength="28.48" lengthAdjust="spacingAndGlyphs">20</text>
<text x="1573.3" y="1594" font-size="26.37" text-anchor="middle" textLength="28.48" lengthAdjust="spacingAndGlyphs">25</text>
<text x="1341" y="1625.6" font-size="22.66" text-anchor="middle" textLength="120" lengthAdjust="spacingAndGlyphs">Time (days)</text>
<text x="1037.9" y="1369.6" font-size="22.66" text-anchor="middle" transform="rotate(-90 1037.9 1369.6)" textLength="216" lengthAdjust="spacingAndGlyphs">Tumor volume (mm<tspan font-size="13.5" dy="-7">3</tspan><tspan dy="7">)</tspan></text>
<line x1="1310.9" y1="1551.5" x2="1310.9" y2="1557" stroke="#FF8000" stroke-width="1.6" stroke-linecap="butt"/>
<line x1="1307.3" y1="1551.5" x2="1314.5" y2="1551.5" stroke="#FF8000" stroke-width="1.6" stroke-linecap="butt"/>
<line x1="1307.3" y1="1557" x2="1314.5" y2="1557" stroke="#FF8000" stroke-width="1.6" stroke-linecap="butt"/>
<line x1="1348.6" y1="1539.3" x2="1348.6" y2="1548.4" stroke="#FF8000" stroke-width="1.6" stroke-linecap="butt"/>
<line x1="1345" y1="1539.3" x2="1352.2" y2="1539.3" stroke="#FF8000" stroke-width="1.6" stroke-linecap="butt"/>
<line x1="1345" y1="1548.4" x2="1352.2" y2="1548.4" stroke="#FF8000" stroke-width="1.6" stroke-linecap="butt"/>
<line x1="1423.4" y1="1525.5" x2="1423.4" y2="1540.4" stroke="#FF8000" stroke-width="1.6" stroke-linecap="butt"/>
<line x1="1419.8" y1="1525.5" x2="1427" y2="1525.5" stroke="#FF8000" stroke-width="1.6" stroke-linecap="butt"/>
<line x1="1419.8" y1="1540.4" x2="1427" y2="1540.4" stroke="#FF8000" stroke-width="1.6" stroke-linecap="butt"/>
<line x1="1461.2" y1="1497.6" x2="1461.2" y2="1521.2" stroke="#FF8000" stroke-width="1.6" stroke-linecap="butt"/>
<line x1="1457.6" y1="1497.6" x2="1464.8" y2="1497.6" stroke="#FF8000" stroke-width="1.6" stroke-linecap="butt"/>
<line x1="1457.6" y1="1521.2" x2="1464.8" y2="1521.2" stroke="#FF8000" stroke-width="1.6" stroke-linecap="butt"/>
<line x1="1498.9" y1="1451.5" x2="1498.9" y2="1493.2" stroke="#FF8000" stroke-width="1.6" stroke-linecap="butt"/>
<line x1="1495.3" y1="1451.5" x2="1502.5" y2="1451.5" stroke="#FF8000" stroke-width="1.6" stroke-linecap="butt"/>
<line x1="1495.3" y1="1493.2" x2="1502.5" y2="1493.2" stroke="#FF8000" stroke-width="1.6" stroke-linecap="butt"/>
<polyline points="1160.6,1567.6 1198.7,1562.9 1236.1,1558.9 1310.9,1554.2 1348.6,1544 1423.4,1532.8 1461.2,1508.8 1498.9,1471.4" fill="none" stroke="#FF8000" stroke-width="2" stroke-linejoin="round" stroke-linecap="butt"/>
<polygon points="1156.4,1564.24 1164.8,1564.24 1160.6,1571.38" fill="#FF8000"/>
<polygon points="1194.5,1559.54 1202.9,1559.54 1198.7,1566.68" fill="#FF8000"/>
<polygon points="1231.9,1555.54 1240.3,1555.54 1236.1,1562.68" fill="#FF8000"/>
<polygon points="1306.7,1550.84 1315.1,1550.84 1310.9,1557.98" fill="#FF8000"/>
<polygon points="1344.4,1540.64 1352.8,1540.64 1348.6,1547.78" fill="#FF8000"/>
<polygon points="1419.2,1529.44 1427.6,1529.44 1423.4,1536.58" fill="#FF8000"/>
<polygon points="1457,1505.44 1465.4,1505.44 1461.2,1512.58" fill="#FF8000"/>
<polygon points="1494.7,1468.04 1503.1,1468.04 1498.9,1475.18" fill="#FF8000"/>
<line x1="1310.9" y1="1545.5" x2="1310.9" y2="1553" stroke="#0A7F98" stroke-width="1.6" stroke-linecap="butt"/>
<line x1="1307.3" y1="1545.5" x2="1314.5" y2="1545.5" stroke="#0A7F98" stroke-width="1.6" stroke-linecap="butt"/>
<line x1="1307.3" y1="1553" x2="1314.5" y2="1553" stroke="#0A7F98" stroke-width="1.6" stroke-linecap="butt"/>
<line x1="1348.6" y1="1526" x2="1348.6" y2="1539.3" stroke="#0A7F98" stroke-width="1.6" stroke-linecap="butt"/>
<line x1="1345" y1="1526" x2="1352.2" y2="1526" stroke="#0A7F98" stroke-width="1.6" stroke-linecap="butt"/>
<line x1="1345" y1="1539.3" x2="1352.2" y2="1539.3" stroke="#0A7F98" stroke-width="1.6" stroke-linecap="butt"/>
<line x1="1423.4" y1="1512.1" x2="1423.4" y2="1525.5" stroke="#0A7F98" stroke-width="1.6" stroke-linecap="butt"/>
<line x1="1419.8" y1="1512.1" x2="1427" y2="1512.1" stroke="#0A7F98" stroke-width="1.6" stroke-linecap="butt"/>
<line x1="1419.8" y1="1525.5" x2="1427" y2="1525.5" stroke="#0A7F98" stroke-width="1.6" stroke-linecap="butt"/>
<line x1="1461.2" y1="1482.3" x2="1461.2" y2="1508.4" stroke="#0A7F98" stroke-width="1.6" stroke-linecap="butt"/>
<line x1="1457.6" y1="1482.3" x2="1464.8" y2="1482.3" stroke="#0A7F98" stroke-width="1.6" stroke-linecap="butt"/>
<line x1="1457.6" y1="1508.4" x2="1464.8" y2="1508.4" stroke="#0A7F98" stroke-width="1.6" stroke-linecap="butt"/>
<line x1="1498.9" y1="1415.9" x2="1498.9" y2="1458.7" stroke="#0A7F98" stroke-width="1.6" stroke-linecap="butt"/>
<line x1="1495.3" y1="1415.9" x2="1502.5" y2="1415.9" stroke="#0A7F98" stroke-width="1.6" stroke-linecap="butt"/>
<line x1="1495.3" y1="1458.7" x2="1502.5" y2="1458.7" stroke="#0A7F98" stroke-width="1.6" stroke-linecap="butt"/>
<polyline points="1160.6,1567.3 1198.7,1561.1 1236.1,1555.6 1310.9,1549.5 1348.6,1532.4 1423.4,1518.6 1461.2,1495.4 1498.9,1437.3" fill="none" stroke="#0A7F98" stroke-width="2" stroke-linejoin="round" stroke-linecap="butt"/>
<rect x="1156.7" y="1563.4" width="7.8" height="7.8" fill="#0A7F98"/>
<rect x="1194.8" y="1557.2" width="7.8" height="7.8" fill="#0A7F98"/>
<rect x="1232.2" y="1551.7" width="7.8" height="7.8" fill="#0A7F98"/>
<rect x="1307" y="1545.6" width="7.8" height="7.8" fill="#0A7F98"/>
<rect x="1344.7" y="1528.5" width="7.8" height="7.8" fill="#0A7F98"/>
<rect x="1419.5" y="1514.7" width="7.8" height="7.8" fill="#0A7F98"/>
<rect x="1457.3" y="1491.5" width="7.8" height="7.8" fill="#0A7F98"/>
<rect x="1495" y="1433.4" width="7.8" height="7.8" fill="#0A7F98"/>
<line x1="1310.9" y1="1537.5" x2="1310.9" y2="1548.4" stroke="#000" stroke-width="1.6" stroke-linecap="butt"/>
<line x1="1307.3" y1="1537.5" x2="1314.5" y2="1537.5" stroke="#000" stroke-width="1.6" stroke-linecap="butt"/>
<line x1="1307.3" y1="1548.4" x2="1314.5" y2="1548.4" stroke="#000" stroke-width="1.6" stroke-linecap="butt"/>
<line x1="1348.6" y1="1508.4" x2="1348.6" y2="1533.9" stroke="#000" stroke-width="1.6" stroke-linecap="butt"/>
<line x1="1345" y1="1508.4" x2="1352.2" y2="1508.4" stroke="#000" stroke-width="1.6" stroke-linecap="butt"/>
<line x1="1345" y1="1533.9" x2="1352.2" y2="1533.9" stroke="#000" stroke-width="1.6" stroke-linecap="butt"/>
<line x1="1423.4" y1="1452.9" x2="1423.4" y2="1508.4" stroke="#000" stroke-width="1.6" stroke-linecap="butt"/>
<line x1="1419.8" y1="1452.9" x2="1427" y2="1452.9" stroke="#000" stroke-width="1.6" stroke-linecap="butt"/>
<line x1="1419.8" y1="1508.4" x2="1427" y2="1508.4" stroke="#000" stroke-width="1.6" stroke-linecap="butt"/>
<line x1="1461.2" y1="1376.3" x2="1461.2" y2="1474.3" stroke="#000" stroke-width="1.6" stroke-linecap="butt"/>
<line x1="1457.6" y1="1376.3" x2="1464.8" y2="1376.3" stroke="#000" stroke-width="1.6" stroke-linecap="butt"/>
<line x1="1457.6" y1="1474.3" x2="1464.8" y2="1474.3" stroke="#000" stroke-width="1.6" stroke-linecap="butt"/>
<line x1="1498.9" y1="1241.6" x2="1498.9" y2="1412.3" stroke="#000" stroke-width="1.6" stroke-linecap="butt"/>
<line x1="1495.3" y1="1241.6" x2="1502.5" y2="1241.6" stroke="#000" stroke-width="1.6" stroke-linecap="butt"/>
<line x1="1495.3" y1="1412.3" x2="1502.5" y2="1412.3" stroke="#000" stroke-width="1.6" stroke-linecap="butt"/>
<polyline points="1160.6,1565.8 1198.7,1559.3 1236.1,1553.5 1310.9,1542.9 1348.6,1521.2 1423.4,1480.5 1461.2,1425.7 1498.9,1327.3" fill="none" stroke="#000" stroke-width="2" stroke-linejoin="round" stroke-linecap="butt"/>
<circle cx="1160.6" cy="1565.8" r="4.4" fill="#000"/>
<circle cx="1198.7" cy="1559.3" r="4.4" fill="#000"/>
<circle cx="1236.1" cy="1553.5" r="4.4" fill="#000"/>
<circle cx="1310.9" cy="1542.9" r="4.4" fill="#000"/>
<circle cx="1348.6" cy="1521.2" r="4.4" fill="#000"/>
<circle cx="1423.4" cy="1480.5" r="4.4" fill="#000"/>
<circle cx="1461.2" cy="1425.7" r="4.4" fill="#000"/>
<circle cx="1498.9" cy="1327.3" r="4.4" fill="#000"/>
<polyline points="1513.8,1329.5 1523.6,1329.5 1523.6,1441.3 1513.8,1441.3" fill="none" stroke="#000" stroke-width="1.4" stroke-linejoin="miter" stroke-linecap="butt"/>
<polyline points="1541.8,1329.5 1551.6,1329.5 1551.6,1469.2 1541.8,1469.2" fill="none" stroke="#000" stroke-width="1.4" stroke-linejoin="miter" stroke-linecap="butt"/>
<text x="1535.6" y="1408.5" font-size="27.81" text-anchor="middle" textLength="14.82" lengthAdjust="spacingAndGlyphs">≠</text>
<text x="1567.2" y="1408" font-size="20.6" text-anchor="middle" textLength="7.78" lengthAdjust="spacingAndGlyphs">*</text>
<rect x="1704.8" y="1480.8" width="32.1" height="51.6" fill="#686868" stroke="#000" stroke-width="1.45"/>
<rect x="1753.8" y="1511.4" width="32" height="21" fill="#0A7F98" stroke="#000" stroke-width="1.45"/>
<rect x="1802.7" y="1516.3" width="32.1" height="16.1" fill="#FF8000" stroke="#000" stroke-width="1.45"/>
<line x1="1687.7" y1="1298" x2="1687.7" y2="1533.6" stroke="#000" stroke-width="2.4" stroke-linecap="butt"/>
<line x1="1686.5" y1="1532.4" x2="1852.4" y2="1532.4" stroke="#000" stroke-width="2.4" stroke-linecap="butt"/>
<line x1="1687.7" y1="1299.2" x2="1695.4" y2="1299.2" stroke="#000" stroke-width="2.4" stroke-linecap="butt"/>
<text x="1684.2" y="1305.8" font-size="18.33" text-anchor="end" font-weight="bold" textLength="24.74" lengthAdjust="spacingAndGlyphs">1.5</text>
<line x1="1687.7" y1="1376.9" x2="1695.4" y2="1376.9" stroke="#000" stroke-width="2.4" stroke-linecap="butt"/>
<text x="1684.2" y="1383.5" font-size="18.33" text-anchor="end" font-weight="bold" textLength="24.74" lengthAdjust="spacingAndGlyphs">1.0</text>
<line x1="1687.7" y1="1454.8" x2="1695.4" y2="1454.8" stroke="#000" stroke-width="2.4" stroke-linecap="butt"/>
<text x="1684.2" y="1461.4" font-size="18.33" text-anchor="end" font-weight="bold" textLength="24.74" lengthAdjust="spacingAndGlyphs">0.5</text>
<line x1="1687.7" y1="1532.4" x2="1695.4" y2="1532.4" stroke="#000" stroke-width="2.4" stroke-linecap="butt"/>
<text x="1684.2" y="1539" font-size="18.33" text-anchor="end" font-weight="bold" textLength="24.74" lengthAdjust="spacingAndGlyphs">0.0</text>
<line x1="1720.5" y1="1458.4" x2="1720.5" y2="1502.3" stroke="#000" stroke-width="1.4" stroke-linecap="butt"/>
<line x1="1712.5" y1="1458.4" x2="1728.5" y2="1458.4" stroke="#000" stroke-width="1.4" stroke-linecap="butt"/>
<line x1="1712.5" y1="1502.3" x2="1728.5" y2="1502.3" stroke="#000" stroke-width="1.4" stroke-linecap="butt"/>
<line x1="1769.7" y1="1506.1" x2="1769.7" y2="1515.8" stroke="#000" stroke-width="1.4" stroke-linecap="butt"/>
<line x1="1761.7" y1="1506.1" x2="1777.7" y2="1506.1" stroke="#000" stroke-width="1.4" stroke-linecap="butt"/>
<line x1="1761.7" y1="1515.8" x2="1777.7" y2="1515.8" stroke="#000" stroke-width="1.4" stroke-linecap="butt"/>
<line x1="1818.7" y1="1511" x2="1818.7" y2="1521" stroke="#000" stroke-width="1.4" stroke-linecap="butt"/>
<line x1="1810.7" y1="1511" x2="1826.7" y2="1511" stroke="#000" stroke-width="1.4" stroke-linecap="butt"/>
<line x1="1810.7" y1="1521" x2="1826.7" y2="1521" stroke="#000" stroke-width="1.4" stroke-linecap="butt"/>
<circle cx="1720.49" cy="1319.45" r="5.1" fill="#000"/>
<circle cx="1720.49" cy="1330.79" r="5.1" fill="#000"/>
<circle cx="1720.49" cy="1452.59" r="5.1" fill="#000"/>
<circle cx="1720.49" cy="1496.25" r="5.1" fill="#000"/>
<circle cx="1727" cy="1494.56" r="5.1" fill="#000"/>
<circle cx="1727" cy="1513.85" r="5.1" fill="#000"/>
<circle cx="1720.49" cy="1519.88" r="5.1" fill="#000"/>
<circle cx="1713.97" cy="1523.98" r="5.1" fill="#000"/>
<circle cx="1720.49" cy="1525.91" r="5.1" fill="#000"/>
<circle cx="1727" cy="1525.19" r="5.1" fill="#000"/>
<circle cx="1707.46" cy="1528.81" r="5.1" fill="#000"/>
<circle cx="1733.51" cy="1530.74" r="5.1" fill="#000"/>
<circle cx="1769.69" cy="1491.66" r="5.1" fill="#000"/>
<circle cx="1761.97" cy="1499.86" r="5.1" fill="#000"/>
<circle cx="1777.41" cy="1501.07" r="5.1" fill="#000"/>
<circle cx="1761.97" cy="1506.62" r="5.1" fill="#000"/>
<circle cx="1777.41" cy="1514.58" r="5.1" fill="#000"/>
<circle cx="1761.97" cy="1518.68" r="5.1" fill="#000"/>
<circle cx="1761.97" cy="1529.05" r="5.1" fill="#000"/>
<circle cx="1777.41" cy="1529.05" r="5.1" fill="#000"/>
<circle cx="1818.65" cy="1483.46" r="5.1" fill="#000"/>
<circle cx="1818.65" cy="1503" r="5.1" fill="#000"/>
<circle cx="1805.87" cy="1509.75" r="5.1" fill="#000"/>
<circle cx="1831.68" cy="1508.31" r="5.1" fill="#000"/>
<circle cx="1831.68" cy="1515.78" r="5.1" fill="#000"/>
<circle cx="1818.65" cy="1521.09" r="5.1" fill="#000"/>
<circle cx="1831.68" cy="1523.98" r="5.1" fill="#000"/>
<circle cx="1805.87" cy="1532.43" r="5.1" fill="#000"/>
<circle cx="1818.65" cy="1528.81" r="5.1" fill="#000"/>
<circle cx="1831.68" cy="1532.43" r="5.1" fill="#000"/>
<text x="1646" y="1424.4" font-size="26.78" text-anchor="middle" transform="rotate(-90 1646 1424.4)" textLength="198.3" lengthAdjust="spacingAndGlyphs">Tumor weight (g)</text>
<text x="1646.7" y="1571.7" font-size="26.78" textLength="84.4" lengthAdjust="spacingAndGlyphs">Control</text>
<text x="1744.4" y="1571.7" font-size="26.78" textLength="72.3" lengthAdjust="spacingAndGlyphs">SAHA</text>
<text x="1828.8" y="1571.7" font-size="26.78" textLength="87.5" lengthAdjust="spacingAndGlyphs">DDI199</text>
<defs><filter id="n13" x="0" y="0" width="1" height="1" color-interpolation-filters="sRGB"><feTurbulence type="fractalNoise" baseFrequency="0.07" numOctaves="4" seed="40"/><feColorMatrix type="matrix" values="0.45 0.04 0 0 0.44 0.45 0.02 0 0 0.44 0.45 -0.01 0 0 0.52 0 0 0 0 1"/></filter><filter id="d13" x="0" y="0" width="1" height="1" color-interpolation-filters="sRGB"><feTurbulence type="fractalNoise" baseFrequency="0.11" numOctaves="2" seed="90" result="t"/><feDisplacementMap in="SourceGraphic" in2="t" scale="4" xChannelSelector="R" yChannelSelector="G"/><feGaussianBlur stdDeviation="1.1"/></filter><clipPath id="c13"><rect width="169.6" height="169.6"/></clipPath></defs>
<g transform="translate(403.4 1730.1)"><g clip-path="url(#c13)">
<rect width="169.6" height="169.6" fill="#adabbd"/>
<rect width="169.6" height="169.6" filter="url(#n13)"/>
<g fill="none" stroke-linecap="round" filter="url(#d13)">
<path d="M137 3h0M20 5h0M154 10h0M155 18h0M2 24h0M71 20h0M86 20h0M111 24h0M50 26h0M160 26h0M171 32h0M43 38h0M121 35h0M118 44h0M141 46h0M108 51h0M19 59h0M21 55h0M26 63h0M63 62h0M142 67h0M162 66h0M64 75h0M93 71h0M117 70h0M17 78h0M38 82h0M133 78h0M173 79h0M85 83h0M45 96h0M85 93h0M91 96h0M33 101h0M144 99h0M13 111h0M76 108h0M124 107h0M51 116h0M101 112h0M155 114h0M55 119h0M81 132h0M74 136h0M75 144h0M22 153h0M42 153h0M91 159h0M145 160h0M149 160h0M178 161h0M100 164h0M34 173h0" stroke="#50361e" stroke-width="4.5"/>
<path d="M47 4h0M58 5h0M77 10h0M58 11h0M87 17h0M107 13h0M142 12h0M159 12h0M55 18h0M3 30h0M69 26h0M96 29h0M14 36h0M35 38h0M71 37h0M132 36h0M181 37h0M86 44h0M112 43h0M164 48h0M72 55h0M154 55h0M11 65h0M73 72h0M162 70h0M46 81h0M67 82h0M109 82h0M48 87h0M98 85h0M118 83h0M141 86h0M23 92h0M25 93h0M57 102h0M122 100h0M118 110h0M62 117h0M112 116h0M141 117h0M177 116h0M29 124h0M147 120h0M163 132h0M10 135h0M35 139h0M49 136h0M126 140h0M3 146h0M40 147h0M65 146h0M102 142h0M154 141h0M12 153h0M71 150h0M81 152h0M153 154h0M19 161h0M42 156h0M71 159h0M10 165h0M141 164h0M53 171h0M64 171h0" stroke="#50361e" stroke-width="5.3"/>
<path d="M169 3h0M12 9h0M97 6h0M116 4h0M125 5h0M148 5h0M180 4h0M31 14h0M119 19h0M134 22h0M158 20h0M25 26h0M102 28h0M106 41h0M175 47h0M10 53h0M85 49h0M101 53h0M115 50h0M-1 55h0M55 60h0M115 59h0M135 55h0M95 62h0M130 62h0M56 70h0M115 70h0M134 71h0M24 86h0M53 85h0M111 89h0M155 103h0M168 100h0M89 110h0M105 110h0M32 117h0M122 117h0M69 123h0M73 124h0M110 122h0M119 123h0M158 123h0M16 129h0M135 128h0M152 132h0M86 134h0M111 142h0M157 141h0M26 154h0M37 149h0M49 153h0M118 154h0M132 152h0M30 156h0M129 160h0M55 165h0M113 165h0M152 173h0" stroke="#50361e" stroke-width="6.2"/>
<path d="M16 1h0M24 -1h0M96 -1h0M106 1h0M82 10h0M143 7h0M82 13h0M145 22h0M181 21h0M58 30h0M67 30h0M86 26h0M125 25h0M3 37h0M29 38h0M74 35h0M2 46h0M34 48h0M91 54h0M117 60h0M177 56h0M22 61h0M67 66h0M145 67h0M131 70h0M151 73h0M126 81h0M139 78h0M138 86h0M151 86h0M114 96h0M126 95h0M82 109h0M3 114h0M170 112h0M46 123h0M65 126h0M73 130h0M85 128h0M104 130h0M110 138h0M17 142h0M32 146h0M123 144h0M126 146h0M9 161h0M94 156h0M20 165h0M58 162h0M173 170h0" stroke="#605e72" stroke-width="4.0"/>
<path d="M158 0h0M176 2h0M47 16h0M61 17h0M74 15h0M38 22h0M127 21h0M151 37h0M24 42h0M98 45h0M151 41h0M143 49h0M169 59h0M48 71h0M91 70h0M103 72h0M76 82h0M95 77h0M80 84h0M109 95h0M139 93h0M16 99h0M48 98h0M65 103h0M74 99h0M125 100h0M134 99h0M55 108h0M61 105h0M103 107h0M74 118h0M79 115h0M7 120h0M129 121h0M49 128h0M22 137h0M135 142h0M117 155h0M160 157h0M15 173h0" stroke="#605e72" stroke-width="4.8"/>
<path d="M0 3h0M61 -3h0M86 -2h0M8 16h0M21 13h0M172 20h0M51 33h0M59 39h0M84 37h0M91 34h0M128 44h0M133 41h0M59 48h0M160 56h0M54 81h0M61 85h0M103 85h0M59 94h0M66 92h0M161 94h0M104 98h0M27 130h0M42 132h0M56 128h0M142 126h0M91 137h0M86 146h0M97 145h0M102 151h0M165 154h0M82 161h0M170 158h0M4 167h0M178 167h0M7 170h0M111 175h0M165 171h0" stroke="#605e72" stroke-width="5.6"/>
<path d="M46 -1h0M118 3h0M143 1h0M26 6h0M172 8h0M133 14h0M57 22h0M141 20h0M164 20h0M17 25h0M120 31h0M138 30h0M7 45h0M58 43h0M124 51h0M146 51h0M67 58h0M83 56h0M107 54h0M86 66h0M108 67h0M118 63h0M41 71h0M83 74h0M81 78h0M98 77h0M165 77h0M131 89h0M37 91h0M51 91h0M130 94h0M-1 100h0M42 99h0M94 102h0M35 106h0M15 113h0M36 119h0M91 123h0M127 133h0M3 136h0M44 135h0M114 134h0M175 135h0M9 145h0M81 144h0M177 146h0M6 150h0M109 148h0M55 158h0M27 163h0M89 173h0M141 170h0" stroke="#624a36" stroke-width="4.5"/>
<path d="M7 -0h0M39 -3h0M36 5h0M67 7h0M42 17h0M173 13h0M90 24h0M179 29h0M172 36h0M78 48h0M96 59h0M142 55h0M42 63h0M99 67h0M181 67h0M18 72h0M43 86h0M76 93h0M153 94h0M53 112h0M90 116h0M136 115h0M63 119h0M83 119h0M121 124h0M34 128h0M121 128h0M168 127h0M60 135h0M69 136h0M167 137h0M49 143h0M57 146h0M94 148h0M149 152h0M169 149h0M126 168h0M40 173h0M45 173h0" stroke="#624a36" stroke-width="5.3"/>
<path d="M11 22h0M43 24h0M74 20h0M7 28h0M81 31h0M115 28h0M144 29h0M106 37h0M119 38h0M157 33h0M77 41h0M165 41h0M2 52h0M42 50h0M70 52h0M158 49h0M79 62h0M8 74h0M31 81h0M73 90h0M79 98h0M86 103h0M111 99h0M45 110h0M8 117h0M98 118h0M102 124h0M95 129h0M111 132h0M101 140h0M138 135h0M61 152h0M180 150h0M102 157h0M71 165h0M73 166h0M90 166h0M111 168h0M69 176h0M94 176h0M139 175h0" stroke="#624a36" stroke-width="6.2"/>
</g>
</g></g>
<rect x="403.4" y="1730.1" width="169.6" height="169.6" fill="none" stroke="#4a4a4a" stroke-width="0.8"/>
<line x1="534.4" y1="1890.8" x2="567.1" y2="1890.8" stroke="#111" stroke-width="1.5" stroke-linecap="butt"/>
<defs><filter id="n14" x="0" y="0" width="1" height="1" color-interpolation-filters="sRGB"><feTurbulence type="fractalNoise" baseFrequency="0.07" numOctaves="4" seed="41"/><feColorMatrix type="matrix" values="0.45 0.04 0 0 0.43 0.45 0.02 0 0 0.42 0.45 -0.01 0 0 0.51 0 0 0 0 1"/></filter><filter id="d14" x="0" y="0" width="1" height="1" color-interpolation-filters="sRGB"><feTurbulence type="fractalNoise" baseFrequency="0.11" numOctaves="2" seed="91" result="t"/><feDisplacementMap in="SourceGraphic" in2="t" scale="4" xChannelSelector="R" yChannelSelector="G"/><feGaussianBlur stdDeviation="1.1"/></filter><clipPath id="c14"><rect width="169.6" height="169.6"/></clipPath></defs>
<g transform="translate(582.3 1730.1)"><g clip-path="url(#c14)">
<rect width="169.6" height="169.6" fill="#aca8ba"/>
<rect width="169.6" height="169.6" filter="url(#n14)"/>
<g fill="none" stroke-linecap="round" filter="url(#d14)">
<path d="M126 -2h0M28 10h0M126 7h0M76 17h0M130 12h0M148 12h0M14 19h0M122 21h0M26 31h0M71 25h0M105 26h0M36 32h0M45 34h0M76 33h0M113 34h0M132 37h0M95 41h0M111 44h0M151 40h0M115 52h0M30 56h0M44 55h0M149 58h0M107 62h0M158 65h0M178 62h0M78 68h0M86 70h0M96 79h0M46 82h0M77 87h0M108 81h0M124 85h0M138 84h0M56 94h0M85 95h0M151 96h0M137 109h0M6 111h0M117 114h0M126 111h0M156 110h0M107 122h0M137 119h0M170 120h0M174 120h0M23 129h0M47 128h0M53 129h0M100 128h0M87 132h0M165 134h0M139 150h0M38 153h0M33 164h0M146 164h0M158 163h0M8 170h0M45 171h0M142 175h0M177 178h0" stroke="#52341c" stroke-width="4.5"/>
<path d="M114 -0h0M133 -0h0M162 2h0M15 6h0M38 4h0M59 10h0M138 9h0M158 4h0M94 16h0M123 16h0M174 12h0M88 20h0M128 24h0M97 28h0M120 27h0M146 30h0M105 36h0M150 36h0M166 36h0M33 43h0M73 43h0M97 47h0M130 47h0M3 57h0M102 56h0M158 53h0M61 64h0M88 62h0M119 64h0M138 65h0M144 66h0M59 69h0M128 68h0M6 77h0M37 76h0M56 78h0M69 76h0M77 80h0M90 75h0M158 77h0M38 83h0M73 86h0M116 84h0M101 88h0M19 99h0M133 101h0M5 106h0M76 104h0M159 106h0M27 120h0M17 126h0M64 129h0M128 126h0M133 127h0M5 131h0M17 135h0M61 131h0M113 134h0M127 131h0M150 137h0M33 150h0M76 148h0M123 150h0M92 156h0M125 153h0M150 156h0M158 157h0M163 156h0M169 156h0M136 163h0M41 171h0M65 171h0M100 167h0M159 168h0M107 178h0M160 178h0M168 175h0" stroke="#52341c" stroke-width="5.3"/>
<path d="M42 -2h0M60 1h0M96 1h0M104 2h0M109 1h0M154 8h0M169 9h0M117 12h0M37 19h0M58 18h0M72 22h0M167 19h0M64 30h0M84 33h0M135 34h0M24 41h0M86 42h0M28 46h0M52 49h0M61 52h0M75 49h0M143 49h0M18 59h0M85 65h0M127 62h0M109 76h0M127 76h0M178 77h0M97 83h0M154 85h0M135 89h0M147 93h0M157 88h0M60 101h0M92 98h0M154 98h0M26 108h0M92 104h0M30 114h0M40 111h0M101 111h0M107 109h0M15 122h0M75 122h0M128 121h0M146 120h0M119 129h0M171 127h0M2 139h0M79 144h0M159 141h0M12 146h0M61 145h0M112 146h0M101 157h0M141 153h0M89 165h0M79 170h0M109 168h0M120 166h0" stroke="#52341c" stroke-width="6.2"/>
<path d="M18 38h0M91 38h0M133 45h0M21 58h0M40 59h0M17 61h0M30 65h0M37 64h0M174 69h0M134 78h0M150 76h0M9 84h0M15 84h0M131 84h0M48 94h0M83 89h0M93 92h0M155 93h0M79 99h0M56 106h0M114 121h0M40 131h0M142 136h0M176 135h0M28 149h0M118 160h0M169 159h0M128 171h0M170 170h0M5 173h0M80 176h0" stroke="#605e72" stroke-width="4.0"/>
<path d="M147 1h0M51 7h0M108 8h0M146 4h0M179 8h0M60 12h0M164 13h0M82 22h0M81 30h0M132 26h0M68 36h0M94 35h0M123 34h0M162 32h0M42 40h0M63 42h0M99 41h0M124 43h0M175 40h0M40 52h0M62 56h0M161 57h0M116 65h0M34 73h0M100 71h0M12 77h0M80 79h0M115 76h0M122 80h0M26 93h0M44 93h0M128 92h0M40 99h0M119 97h0M23 103h0M96 106h0M152 103h0M16 112h0M29 124h0M108 127h0M138 124h0M9 132h0M13 143h0M175 144h0M84 147h0M-3 157h0M67 161h0M149 170h0M48 176h0" stroke="#605e72" stroke-width="4.8"/>
<path d="M140 -0h0M69 9h0M33 14h0M141 17h0M174 19h0M56 27h0M163 25h0M37 52h0M80 59h0M13 65h0M46 61h0M42 71h0M52 71h0M73 70h0M49 78h0M167 87h0M14 91h0M18 91h0M109 91h0M32 100h0M144 96h0M48 108h0M144 107h0M96 112h0M132 113h0M163 115h0M48 117h0M119 120h0M149 121h0M159 122h0M87 128h0M167 125h0M29 130h0M108 134h0M167 151h0M173 149h0M12 164h0M58 159h0M98 160h0M129 165h0M153 160h0" stroke="#605e72" stroke-width="5.6"/>
<path d="M115 6h0M44 15h0M104 20h0M145 19h0M88 29h0M112 25h0M159 27h0M3 36h0M49 33h0M81 41h0M64 49h0M123 51h0M11 53h0M55 55h0M112 55h0M132 54h0M1 61h0M65 65h0M168 63h0M95 68h0M20 75h0M40 76h0M21 83h0M30 84h0M88 83h0M99 83h0M35 93h0M112 89h0M169 90h0M2 101h0M20 96h0M47 96h0M107 101h0M40 105h0M175 103h0M54 110h0M61 111h0M81 113h0M85 121h0M89 118h0M158 126h0M120 133h0M10 138h0M117 139h0M126 141h0M132 143h0M138 141h0M91 150h0M163 149h0M63 157h0M24 160h0M116 164h0M23 178h0M36 173h0M72 173h0" stroke="#644832" stroke-width="4.5"/>
<path d="M52 2h0M88 -1h0M159 -3h0M169 -1h0M40 7h0M75 8h0M80 8h0M91 5h0M100 7h0M120 9h0M70 12h0M104 13h0M155 14h0M101 22h0M154 23h0M146 33h0M49 43h0M84 51h0M72 56h0M92 55h0M173 54h0M74 61h0M1 71h0M15 68h0M21 68h0M44 70h0M109 73h0M153 72h0M55 86h0M66 94h0M77 93h0M100 100h0M175 98h0M119 106h0M138 111h0M171 113h0M77 126h0M147 125h0M155 135h0M47 138h0M104 140h0M18 148h0M46 147h0M17 158h0M25 153h0M1 165h0M40 161h0M103 165h0M174 159h0M18 171h0M23 168h0M14 178h0M27 173h0M116 175h0M154 173h0" stroke="#644832" stroke-width="5.3"/>
<path d="M3 1h0M5 0h0M77 3h0M4 9h0M40 14h0M108 11h0M64 18h0M139 22h0M48 30h0M128 30h0M139 31h0M140 40h0M163 41h0M88 46h0M105 52h0M170 51h0M96 62h0M117 67h0M145 78h0M4 94h0M57 96h0M67 96h0M129 103h0M46 111h0M6 118h0M44 121h0M73 125h0M91 129h0M137 132h0M162 134h0M3 148h0M130 145h0M151 148h0M118 157h0M18 160h0M-1 169h0M130 170h0M141 169h0M166 169h0M139 179h0" stroke="#644832" stroke-width="6.2"/>
</g>
</g></g>
<rect x="582.3" y="1730.1" width="169.6" height="169.6" fill="none" stroke="#4a4a4a" stroke-width="0.8"/>
<line x1="713.3" y1="1890.8" x2="746" y2="1890.8" stroke="#111" stroke-width="1.5" stroke-linecap="butt"/>
<defs><filter id="n15" x="0" y="0" width="1" height="1" color-interpolation-filters="sRGB"><feTurbulence type="fractalNoise" baseFrequency="0.07" numOctaves="4" seed="42"/><feColorMatrix type="matrix" values="0.45 0.04 0 0 0.42 0.45 0.02 0 0 0.42 0.45 -0.01 0 0 0.51 0 0 0 0 1"/></filter><filter id="d15" x="0" y="0" width="1" height="1" color-interpolation-filters="sRGB"><feTurbulence type="fractalNoise" baseFrequency="0.11" numOctaves="2" seed="92" result="t"/><feDisplacementMap in="SourceGraphic" in2="t" scale="4" xChannelSelector="R" yChannelSelector="G"/><feGaussianBlur stdDeviation="1.1"/></filter><clipPath id="c15"><rect width="169.2" height="169.6"/></clipPath></defs>
<g transform="translate(763.4 1730.1)"><g clip-path="url(#c15)">
<rect width="169.2" height="169.6" fill="#aaa7b9"/>
<rect width="169.2" height="169.6" filter="url(#n15)"/>
<g fill="none" stroke-linecap="round" filter="url(#d15)">
<path d="M43 -1h0M59 -2h0M106 2h0M151 -1h0M74 9h0M104 7h0M111 4h0M166 8h0M2 14h0M99 14h0M144 14h0M46 19h0M54 21h0M151 21h0M34 27h0M85 26h0M108 27h0M49 38h0M70 44h0M22 50h0M81 51h0M125 51h0M-2 56h0M32 54h0M101 52h0M6 61h0M166 64h0M172 60h0M83 69h0M118 75h0M87 91h0M54 98h0M132 111h0M134 114h0M84 121h0M107 125h0M71 128h0M96 131h0M132 133h0M149 132h0M167 138h0M25 145h0M83 141h0M1 152h0M28 152h0M68 150h0M170 148h0M20 161h0M182 158h0M20 163h0M35 164h0M81 167h0M140 166h0M155 165h0" stroke="#4e3018" stroke-width="4.4"/>
<path d="M-1 0h0M26 -3h0M128 0h0M170 -1h0M2 9h0M120 6h0M149 5h0M54 14h0M165 12h0M2 20h0M169 23h0M46 26h0M75 30h0M163 29h0M14 35h0M65 32h0M40 40h0M100 39h0M149 42h0M111 50h0M136 47h0M138 57h0M138 62h0M150 64h0M148 71h0M89 73h0M97 74h0M128 77h0M28 80h0M38 81h0M75 79h0M90 84h0M104 99h0M13 100h0M30 104h0M79 103h0M85 105h0M147 101h0M145 113h0M173 107h0M20 118h0M29 118h0M88 120h0M92 116h0M151 116h0M17 126h0M99 123h0M122 125h0M147 122h0M63 130h0M101 128h0M32 137h0M49 135h0M155 136h0M9 147h0M17 142h0M42 144h0M93 144h0M59 149h0M81 154h0M90 149h0M71 157h0M148 157h0M8 165h0M31 163h0M70 167h0M40 169h0" stroke="#4e3018" stroke-width="5.2"/>
<path d="M7 -1h0M16 1h0M66 1h0M87 2h0M44 10h0M6 12h0M161 12h0M173 14h0M66 18h0M70 19h0M116 23h0M24 27h0M113 25h0M128 27h0M20 37h0M55 33h0M102 37h0M135 34h0M146 35h0M172 36h0M125 38h0M132 41h0M134 41h0M147 40h0M178 39h0M63 46h0M67 52h0M177 55h0M153 62h0M7 69h0M47 71h0M102 67h0M26 73h0M56 78h0M83 74h0M114 75h0M171 73h0M5 81h0M15 82h0M139 89h0M178 90h0M61 96h0M155 95h0M173 95h0M17 102h0M95 105h0M139 106h0M3 109h0M52 110h0M68 111h0M114 108h0M167 111h0M6 114h0M9 121h0M41 121h0M55 126h0M14 130h0M17 132h0M33 132h0M89 129h0M157 140h0M59 145h0M175 152h0M36 156h0M77 159h0M108 158h0M98 162h0M113 165h0M62 174h0M90 172h0M125 172h0" stroke="#4e3018" stroke-width="6.1"/>
<path d="M117 -2h0M35 5h0M87 7h0M82 16h0M149 16h0M15 21h0M88 22h0M164 21h0M120 25h0M139 27h0M169 27h0M34 34h0M108 36h0M119 32h0M179 33h0M107 38h0M165 40h0M52 50h0M117 46h0M6 55h0M111 55h0M63 60h0M82 62h0M124 63h0M136 63h0M177 60h0M33 67h0M130 71h0M143 83h0M162 79h0M48 96h0M66 94h0M157 105h0M178 103h0M79 109h0M141 116h0M178 117h0M58 126h0M154 124h0M3 133h0M23 140h0M37 140h0M173 136h0M32 142h0M49 147h0M181 143h0M5 160h0M52 160h0M52 162h0M93 165h0M12 172h0M104 171h0M120 171h0M166 174h0" stroke="#5e5c70" stroke-width="4.0"/>
<path d="M51 -1h0M119 -2h0M83 5h0M96 7h0M134 10h0M35 12h0M78 16h0M108 22h0M101 31h0M144 27h0M71 36h0M167 33h0M3 40h0M71 49h0M94 47h0M20 58h0M55 56h0M77 52h0M159 52h0M58 60h0M110 59h0M104 65h0M12 73h0M141 72h0M147 76h0M99 85h0M78 95h0M163 96h0M171 98h0M111 100h0M135 105h0M41 110h0M137 111h0M40 118h0M57 120h0M103 114h0M114 119h0M44 132h0M56 131h0M79 133h0M5 139h0M144 135h0M159 143h0M36 153h0M51 151h0M132 149h0M57 157h0M73 162h0M25 171h0M71 170h0M93 171h0M139 175h0" stroke="#5e5c70" stroke-width="4.7"/>
<path d="M136 0h0M159 10h0M173 10h0M32 11h0M60 14h0M107 13h0M136 14h0M132 20h0M150 25h0M133 53h0M151 57h0M3 66h0M21 68h0M68 69h0M122 71h0M154 70h0M179 66h0M104 77h0M158 73h0M181 74h0M86 84h0M124 80h0M153 81h0M177 81h0M40 91h0M119 86h0M156 92h0M172 86h0M98 96h0M139 99h0M146 94h0M69 102h0M159 113h0M67 114h0M75 115h0M116 118h0M33 125h0M177 122h0M127 129h0M64 134h0M81 139h0M107 136h0M136 138h0M102 144h0M110 141h0M161 142h0M7 154h0M142 156h0M2 166h0M59 162h0M177 166h0M47 171h0" stroke="#5e5c70" stroke-width="5.5"/>
<path d="M88 1h0M51 7h0M141 5h0M89 11h0M178 30h0M40 33h0M85 34h0M93 35h0M144 33h0M155 37h0M26 50h0M88 51h0M158 47h0M182 50h0M145 53h0M13 61h0M35 65h0M73 64h0M106 60h0M113 66h0M168 67h0M68 74h0M56 85h0M131 80h0M9 87h0M146 88h0M13 94h0M132 95h0M60 104h0M84 111h0M106 110h0M174 118h0M129 123h0M143 129h0M116 138h0M75 141h0M88 144h0M124 147h0M42 155h0M67 159h0M87 160h0M124 163h0M146 173h0M170 170h0" stroke="#604630" stroke-width="4.4"/>
<path d="M146 -0h0M160 1h0M64 7h0M44 17h0M129 14h0M40 22h0M82 21h0M96 23h0M104 23h0M160 18h0M56 31h0M59 29h0M25 32h0M124 32h0M40 55h0M60 56h0M132 73h0M163 77h0M4 86h0M80 88h0M93 88h0M164 91h0M118 101h0M171 101h0M5 110h0M18 110h0M20 111h0M97 111h0M10 114h0M81 115h0M48 127h0M91 123h0M118 132h0M71 140h0M79 138h0M93 138h0M174 144h0M13 153h0M22 154h0M43 149h0M11 156h0M13 167h0M109 167h0M37 174h0M60 172h0" stroke="#604630" stroke-width="5.2"/>
<path d="M176 2h0M28 4h0M182 4h0M23 15h0M69 16h0M12 25h0M72 29h0M2 32h0M48 33h0M8 41h0M56 38h0M159 39h0M11 51h0M143 49h0M149 51h0M167 48h0M171 45h0M92 54h0M169 56h0M116 63h0M51 66h0M1 74h0M19 77h0M39 73h0M47 82h0M108 83h0M134 83h0M165 84h0M71 90h0M127 90h0M25 95h0M123 96h0M65 104h0M102 104h0M47 113h0M91 110h0M124 109h0M33 120h0M48 116h0M126 114h0M157 117h0M27 127h0M108 129h0M50 136h0M99 134h0M128 136h0M5 144h0M99 152h0M106 149h0M163 154h0M136 155h0M7 169h0M22 174h0M80 173h0M112 175h0" stroke="#604630" stroke-width="6.1"/>
</g>
</g></g>
<rect x="763.4" y="1730.1" width="169.2" height="169.6" fill="none" stroke="#4a4a4a" stroke-width="0.8"/>
<line x1="894" y1="1890.8" x2="926.7" y2="1890.8" stroke="#111" stroke-width="1.5" stroke-linecap="butt"/>
<defs><filter id="n16" x="0" y="0" width="1" height="1" color-interpolation-filters="sRGB"><feTurbulence type="fractalNoise" baseFrequency="0.07" numOctaves="4" seed="43"/><feColorMatrix type="matrix" values="0.45 0.09 0 0 0.36 0.45 0.05 0 0 0.34 0.45 -0.05 0 0 0.44 0 0 0 0 1"/></filter><filter id="d16" x="0" y="0" width="1" height="1" color-interpolation-filters="sRGB"><feTurbulence type="fractalNoise" baseFrequency="0.11" numOctaves="2" seed="93" result="t"/><feDisplacementMap in="SourceGraphic" in2="t" scale="4" xChannelSelector="R" yChannelSelector="G"/><feGaussianBlur stdDeviation="1.1"/></filter><clipPath id="c16"><rect width="170.5" height="170.7"/></clipPath></defs>
<g transform="translate(403.2 1910.9)"><g clip-path="url(#c16)">
<rect width="170.5" height="170.7" fill="#a097a3"/>
<rect width="170.5" height="170.7" filter="url(#n16)"/>
<g fill="none" stroke-linecap="round" filter="url(#d16)">
<path d="M76 0h0M6 4h0M43 8h0M83 4h0M89 5h0M102 9h0M116 6h0M140 7h0M170 10h0M15 13h0M90 17h0M101 13h0M128 13h0M82 25h0M160 19h0M9 27h0M49 31h0M140 29h0M169 29h0M39 38h0M41 33h0M153 38h0M10 46h0M94 40h0M104 46h0M159 42h0M168 40h0M45 48h0M64 48h0M100 51h0M23 54h0M39 57h0M48 54h0M63 57h0M116 58h0M174 57h0M17 66h0M130 64h0M58 71h0M144 73h0M17 79h0M29 76h0M38 79h0M54 76h0M66 75h0M72 81h0M86 80h0M179 78h0M29 87h0M147 89h0M17 95h0M36 92h0M139 89h0M175 90h0M61 101h0M88 108h0M85 116h0M18 124h0M162 123h0M98 130h0M147 129h0M128 135h0M16 142h0M177 143h0M83 150h0M161 146h0M7 156h0M16 156h0M49 158h0M77 155h0M87 159h0M105 155h0M110 159h0M142 158h0M89 161h0M26 172h0M49 171h0M55 172h0M72 170h0" stroke="#585888" stroke-width="4.3"/>
<path d="M34 -3h0M88 -2h0M95 1h0M101 3h0M153 -1h0M10 5h0M34 10h0M70 10h0M74 5h0M122 16h0M156 16h0M174 17h0M4 21h0M57 24h0M98 22h0M147 19h0M18 27h0M116 30h0M67 37h0M101 33h0M112 37h0M129 38h0M146 38h0M163 34h0M49 45h0M87 43h0M136 43h0M3 49h0M35 47h0M118 50h0M17 57h0M92 55h0M108 54h0M124 54h0M131 54h0M109 66h0M117 66h0M162 61h0M22 69h0M49 70h0M121 73h0M156 70h0M58 75h0M132 78h0M22 88h0M42 88h0M49 86h0M160 86h0M6 94h0M54 91h0M98 90h0M42 99h0M108 97h0M153 101h0M51 105h0M66 107h0M117 109h0M140 107h0M136 115h0M114 120h0M155 124h0M-3 130h0M57 126h0M105 130h0M157 130h0M74 133h0M83 137h0M138 133h0M54 140h0M74 141h0M5 147h0M107 147h0M41 160h0M71 159h0M127 158h0M135 159h0M151 159h0M25 167h0M53 165h0M59 167h0M63 174h0M85 169h0M111 173h0M137 171h0" stroke="#585888" stroke-width="5.1"/>
<path d="M27 1h0M37 1h0M106 7h0M148 9h0M157 9h0M162 10h0M34 14h0M37 16h0M142 13h0M166 12h0M9 24h0M181 18h0M1 25h0M68 28h0M77 30h0M92 30h0M123 28h0M3 38h0M12 36h0M104 36h0M119 37h0M-3 45h0M25 40h0M56 44h0M177 40h0M93 53h0M129 47h0M163 51h0M76 55h0M161 55h0M6 67h0M14 64h0M84 67h0M38 68h0M68 73h0M135 69h0M177 72h0M157 78h0M165 77h0M14 84h0M81 83h0M97 88h0M110 83h0M120 95h0M169 90h0M76 98h0M83 107h0M106 106h0M149 109h0M181 104h0M2 112h0M159 116h0M168 111h0M37 121h0M45 119h0M77 124h0M108 118h0M171 120h0M62 126h0M81 126h0M128 127h0M145 128h0M12 136h0M113 132h0M120 133h0M168 137h0M9 141h0M34 141h0M77 144h0M129 145h0M50 146h0M74 153h0M21 158h0M58 158h0M65 156h0M97 160h0M118 155h0M168 158h0M127 163h0M165 164h0M28 172h0M93 171h0M103 174h0" stroke="#585888" stroke-width="6.0"/>
<path d="M60 1h0M68 3h0M143 -0h0M122 7h0M133 6h0M55 21h0M78 20h0M90 24h0M138 19h0M152 19h0M76 33h0M171 34h0M14 41h0M120 41h0M13 51h0M54 52h0M140 47h0M11 57h0M44 62h0M155 64h0M29 68h0M95 71h0M2 78h0M9 77h0M45 76h0M116 81h0M-0 83h0M61 89h0M69 86h0M104 84h0M109 95h0M143 103h0M21 107h0M75 105h0M122 109h0M131 109h0M161 107h0M29 116h0M121 116h0M143 112h0M14 120h0M6 125h0M120 126h0M167 129h0M21 134h0M107 136h0M42 140h0M108 141h0M121 143h0M144 145h0M25 147h0M94 147h0M85 163h0M102 165h0M173 165h0M175 166h0M1 170h0M130 169h0M172 169h0" stroke="#66628c" stroke-width="4.3"/>
<path d="M176 -3h0M96 17h0M134 11h0M38 24h0M23 27h0M157 30h0M22 33h0M69 43h0M112 42h0M149 40h0M23 52h0M25 52h0M60 50h0M74 48h0M108 51h0M58 65h0M101 63h0M120 62h0M172 63h0M176 65h0M2 72h0M6 69h0M151 72h0M163 70h0M8 85h0M145 85h0M68 91h0M73 93h0M7 99h0M58 97h0M126 98h0M165 102h0M22 117h0M175 114h0M70 124h0M122 123h0M40 125h0M71 130h0M90 126h0M1 133h0M42 132h0M54 135h0M22 143h0M13 147h0M17 164h0M156 173h0" stroke="#66628c" stroke-width="5.1"/>
<path d="M-2 1h0M57 2h0M108 -1h0M157 -0h0M52 16h0M109 16h0M109 19h0M124 24h0M168 24h0M37 26h0M53 29h0M86 28h0M133 29h0M148 26h0M84 33h0M94 35h0M177 38h0M125 51h0M172 50h0M29 58h0M73 58h0M150 56h0M25 62h0M52 65h0M70 61h0M117 84h0M135 88h0M115 95h0M163 95h0M34 102h0M45 99h0M90 103h0M133 100h0M40 112h0M92 112h0M153 111h0M54 119h0M58 119h0M148 119h0M179 123h0M112 125h0M176 128h0M180 136h0M160 141h0M58 147h0M65 148h0M96 148h0M141 152h0M150 150h0M36 165h0M114 163h0M121 162h0M19 169h0M42 171h0M168 170h0" stroke="#66628c" stroke-width="6.0"/>
<path d="M131 3h0M30 9h0M50 16h0M133 22h0M103 31h0M65 40h0M174 88h0M30 93h0M131 95h0M26 97h0M27 107h0M151 104h0M28 134h0M151 134h0M160 136h0M132 143h0M171 150h0M1 163h0M9 166h0M69 166h0" stroke="#806a50" stroke-width="3.9"/>
<path d="M7 2h0M116 -2h0M63 13h0M79 14h0M19 22h0M59 32h0M143 40h0M80 47h0M152 53h0M74 64h0M146 65h0M61 71h0M146 94h0M-2 99h0M155 100h0M174 100h0M100 104h0M58 113h0M94 119h0M134 120h0M24 127h0M45 129h0M89 133h0M45 141h0M98 143h0M46 151h0M107 167h0" stroke="#806a50" stroke-width="4.6"/>
<path d="M109 30h0M41 40h0M-3 57h0M140 60h0M148 80h0M153 90h0M102 102h0M119 101h0M86 120h0M29 130h0M132 128h0M84 141h0M104 141h0M158 156h0M8 168h0" stroke="#806a50" stroke-width="5.4"/>
</g>
</g></g>
<rect x="402.6" y="1910.3" width="171.7" height="171.9" fill="none" stroke="#000" stroke-width="2.4"/>
<line x1="535.1" y1="2072.7" x2="567.8" y2="2072.7" stroke="#111" stroke-width="1.5" stroke-linecap="butt"/>
<defs><filter id="n17" x="0" y="0" width="1" height="1" color-interpolation-filters="sRGB"><feTurbulence type="fractalNoise" baseFrequency="0.07" numOctaves="4" seed="44"/><feColorMatrix type="matrix" values="0.45 0.14 0 0 0.32 0.45 0.08 0 0 0.29 0.45 -0.08 0 0 0.36 0 0 0 0 1"/></filter><filter id="d17" x="0" y="0" width="1" height="1" color-interpolation-filters="sRGB"><feTurbulence type="fractalNoise" baseFrequency="0.11" numOctaves="2" seed="94" result="t"/><feDisplacementMap in="SourceGraphic" in2="t" scale="4" xChannelSelector="R" yChannelSelector="G"/><feGaussianBlur stdDeviation="1.1"/></filter><clipPath id="c17"><rect width="170.9" height="170.7"/></clipPath></defs>
<g transform="translate(581.6 1910.9)"><g clip-path="url(#c17)">
<rect width="170.9" height="170.7" fill="#9d8e8b"/>
<rect width="170.9" height="170.7" filter="url(#n17)"/>
<g fill="none" stroke-linecap="round" filter="url(#d17)">
<path d="M14 -1h0M89 3h0M106 -1h0M145 -0h0M165 -1h0M10 10h0M29 10h0M64 10h0M146 5h0M160 8h0M10 16h0M123 12h0M132 14h0M26 21h0M37 18h0M58 20h0M78 28h0M97 26h0M102 31h0M136 30h0M33 36h0M117 36h0M124 37h0M3 41h0M18 45h0M57 45h0M145 41h0M61 52h0M70 49h0M179 47h0M116 54h0M23 65h0M56 63h0M159 64h0M-1 74h0M105 73h0M17 81h0M25 79h0M86 78h0M-1 87h0M27 88h0M30 88h0M64 83h0M113 83h0M125 84h0M22 93h0M30 94h0M80 93h0M175 89h0M32 103h0M100 100h0M134 101h0M51 109h0M80 108h0M118 110h0M139 108h0M118 114h0M18 119h0M59 121h0M69 118h0M89 122h0M160 123h0M176 123h0M2 126h0M107 135h0M130 138h0M136 135h0M157 133h0M7 142h0M26 141h0M71 141h0M45 148h0M98 152h0M148 150h0M169 147h0M6 157h0M27 155h0M58 154h0M82 156h0M98 160h0M21 164h0M45 163h0M58 163h0M66 162h0M120 174h0M168 173h0" stroke="#5a5886" stroke-width="4.3"/>
<path d="M89 5h0M122 13h0M158 15h0M73 21h0M83 22h0M106 18h0M5 30h0M48 29h0M14 37h0M171 36h0M10 41h0M65 40h0M105 45h0M132 41h0M156 46h0M12 52h0M115 49h0M170 49h0M37 54h0M53 57h0M87 56h0M132 58h0M2 67h0M32 73h0M73 69h0M113 70h0M146 71h0M13 77h0M67 77h0M48 83h0M68 85h0M12 92h0M46 99h0M44 106h0M66 110h0M92 106h0M18 113h0M41 112h0M161 112h0M174 115h0M27 119h0M156 120h0M53 126h0M61 126h0M89 126h0M12 138h0M23 138h0M58 132h0M85 135h0M-1 139h0M125 143h0M175 142h0M29 148h0M85 151h0M107 149h0M122 149h0M163 149h0M38 154h0M70 160h0M117 154h0M34 162h0M74 162h0M107 163h0M146 164h0M47 170h0" stroke="#5a5886" stroke-width="5.1"/>
<path d="M34 -3h0M76 -1h0M126 0h0M150 3h0M35 6h0M181 7h0M23 16h0M34 14h0M54 16h0M64 16h0M142 13h0M148 14h0M2 21h0M18 19h0M68 21h0M94 19h0M149 24h0M40 26h0M53 31h0M88 29h0M153 31h0M26 32h0M151 43h0M26 51h0M42 50h0M145 48h0M-3 59h0M11 59h0M76 56h0M139 59h0M147 57h0M38 65h0M69 62h0M104 63h0M112 61h0M141 62h0M48 73h0M135 70h0M6 78h0M46 75h0M89 79h0M136 80h0M159 81h0M177 78h0M56 88h0M133 83h0M6 93h0M91 93h0M154 93h0M21 97h0M42 101h0M116 98h0M177 99h0M120 109h0M148 105h0M104 113h0M149 111h0M40 119h0M112 120h0M38 131h0M138 127h0M145 138h0M160 135h0M175 137h0M34 146h0M36 139h0M118 145h0M135 140h0M161 144h0M129 148h0M109 156h0M142 157h0M152 156h0M160 159h0M163 155h0M175 160h0M7 165h0M9 164h0M122 165h0M139 161h0M164 166h0M23 172h0M74 169h0M143 174h0" stroke="#5a5886" stroke-width="6.0"/>
<path d="M59 4h0M105 10h0M120 6h0M171 7h0M79 16h0M34 28h0M4 36h0M20 37h0M54 35h0M136 37h0M62 54h0M114 56h0M160 60h0M130 63h0M53 68h0M92 74h0M172 69h0M96 76h0M120 80h0M-3 98h0M108 99h0M179 104h0M1 112h0M58 114h0M86 113h0M12 124h0M51 122h0M16 128h0M119 128h0M30 134h0M65 137h0M141 147h0M101 161h0M118 165h0M30 169h0M137 169h0" stroke="#68628a" stroke-width="4.3"/>
<path d="M22 2h0M48 14h0M43 24h0M52 23h0M137 20h0M156 20h0M179 23h0M0 27h0M45 36h0M148 34h0M36 41h0M73 45h0M78 47h0M99 50h0M24 55h0M48 59h0M70 58h0M27 66h0M83 62h0M124 61h0M155 66h0M6 69h0M65 72h0M125 71h0M54 78h0M62 80h0M88 84h0M100 85h0M36 95h0M102 93h0M9 103h0M96 103h0M123 101h0M142 103h0M131 109h0M111 117h0M73 120h0M98 119h0M146 118h0M70 126h0M96 128h0M106 131h0M1 133h0M15 140h0M168 141h0M54 150h0M73 151h0M92 148h0M111 148h0M179 149h0M33 156h0M90 160h0M128 167h0M171 163h0M94 169h0M171 173h0" stroke="#68628a" stroke-width="5.1"/>
<path d="M-2 -1h0M61 -3h0M73 -2h0M160 -2h0M109 15h0M96 23h0M112 21h0M160 19h0M108 31h0M65 33h0M83 33h0M91 38h0M108 37h0M23 45h0M4 49h0M19 51h0M88 47h0M165 49h0M101 59h0M166 58h0M89 62h0M26 68h0M144 88h0M65 90h0M103 90h0M120 93h0M129 93h0M12 108h0M22 109h0M62 109h0M78 109h0M21 115h0M169 113h0M3 123h0M108 124h0M50 129h0M77 136h0M49 140h0M81 141h0M153 140h0M18 153h0M-2 153h0M18 154h0M106 172h0" stroke="#68628a" stroke-width="6.0"/>
<path d="M94 0h0M54 10h0M112 6h0M155 10h0M-1 17h0M68 15h0M165 13h0M13 26h0M125 30h0M46 44h0M83 52h0M130 56h0M44 64h0M50 66h0M168 62h0M152 68h0M144 76h0M119 86h0M148 87h0M43 91h0M51 89h0M13 98h0M86 100h0M153 105h0M78 112h0M38 122h0M8 129h0M127 125h0M42 132h0M62 143h0M86 143h0M4 148h0M33 147h0M62 160h0M126 156h0M25 164h0M51 161h0M81 164h0M89 162h0M39 174h0M58 171h0M82 172h0M128 173h0M155 171h0" stroke="#80643e" stroke-width="3.9"/>
<path d="M8 2h0M135 -2h0M5 10h0M21 9h0M46 8h0M39 12h0M171 21h0M168 28h0M107 40h0M127 41h0M126 47h0M155 50h0M176 54h0M10 63h0M72 66h0M89 71h0M116 69h0M165 68h0M77 80h0M153 76h0M11 86h0M57 98h0M69 102h0M81 101h0M167 97h0M1 109h0M33 104h0M105 104h0M63 111h0M124 117h0M33 127h0M38 135h0M108 140h0M56 149h0M106 157h0M2 170h0M17 173h0" stroke="#80643e" stroke-width="4.6"/>
<path d="M40 0h0M56 -2h0M78 4h0M16 17h0M13 20h0M123 18h0M159 30h0M57 36h0M33 45h0M97 43h0M166 44h0M176 46h0M148 61h0M13 68h0M38 77h0M41 89h0M159 83h0M74 95h0M112 95h0M147 99h0M30 105h0M71 113h0M133 121h0M137 118h0M81 126h0M100 145h0M131 159h0" stroke="#80643e" stroke-width="5.4"/>
</g>
</g></g>
<rect x="581" y="1910.3" width="172.1" height="171.9" fill="none" stroke="#000" stroke-width="2.4"/>
<line x1="713.9" y1="2072.7" x2="746.6" y2="2072.7" stroke="#111" stroke-width="1.5" stroke-linecap="butt"/>
<defs><filter id="n18" x="0" y="0" width="1" height="1" color-interpolation-filters="sRGB"><feTurbulence type="fractalNoise" baseFrequency="0.07" numOctaves="4" seed="45"/><feColorMatrix type="matrix" values="0.45 0.14 0 0 0.34 0.45 0.08 0 0 0.31 0.45 -0.08 0 0 0.37 0 0 0 0 1"/></filter><filter id="d18" x="0" y="0" width="1" height="1" color-interpolation-filters="sRGB"><feTurbulence type="fractalNoise" baseFrequency="0.11" numOctaves="2" seed="95" result="t"/><feDisplacementMap in="SourceGraphic" in2="t" scale="4" xChannelSelector="R" yChannelSelector="G"/><feGaussianBlur stdDeviation="1.1"/></filter><clipPath id="c18"><rect width="170.9" height="170.7"/></clipPath></defs>
<g transform="translate(763.1 1910.9)"><g clip-path="url(#c18)">
<rect width="170.9" height="170.7" fill="#a1938c"/>
<rect width="170.9" height="170.7" filter="url(#n18)"/>
<g fill="none" stroke-linecap="round" filter="url(#d18)">
<path d="M70 -3h0M98 2h0M172 -2h0M66 8h0M93 6h0M108 8h0M179 7h0M35 16h0M46 17h0M152 14h0M161 17h0M175 13h0M7 22h0M122 19h0M0 28h0M38 32h0M66 34h0M73 35h0M113 38h0M17 40h0M144 45h0M4 50h0M160 53h0M45 58h0M92 57h0M19 66h0M90 65h0M98 66h0M-1 68h0M96 69h0M113 70h0M130 71h0M136 68h0M40 78h0M58 78h0M140 76h0M22 83h0M29 88h0M148 83h0M-2 98h0M7 102h0M40 100h0M49 103h0M167 99h0M69 106h0M78 106h0M29 115h0M128 113h0M85 124h0M181 124h0M-1 131h0M164 127h0M77 134h0M93 133h0M112 133h0M154 135h0M113 140h0M150 141h0M169 139h0M3 153h0M53 148h0M96 150h0M133 151h0M178 149h0M13 158h0M68 155h0M134 159h0M13 166h0M34 164h0M60 161h0M153 166h0M106 168h0M152 173h0" stroke="#5f5d88" stroke-width="4.2"/>
<path d="M125 -1h0M21 7h0M26 7h0M52 10h0M170 5h0M25 16h0M64 15h0M74 15h0M114 12h0M21 24h0M34 20h0M44 23h0M108 23h0M80 26h0M129 27h0M2 34h0M138 34h0M57 46h0M93 41h0M62 47h0M23 56h0M29 56h0M53 55h0M107 59h0M127 57h0M26 64h0M57 64h0M117 65h0M128 65h0M30 70h0M89 70h0M164 70h0M55 76h0M100 77h0M138 90h0M149 90h0M161 92h0M58 99h0M90 107h0M112 107h0M132 109h0M105 113h0M149 121h0M169 121h0M47 128h0M79 130h0M86 128h0M6 136h0M176 137h0M5 144h0M55 142h0M100 145h0M12 152h0M92 153h0M0 160h0M41 163h0M73 162h0M34 173h0M56 173h0M109 169h0" stroke="#5f5d88" stroke-width="4.9"/>
<path d="M16 2h0M37 -3h0M47 0h0M86 -1h0M120 2h0M42 7h0M85 7h0M128 10h0M41 16h0M124 17h0M166 16h0M101 21h0M137 23h0M154 24h0M163 19h0M25 29h0M38 29h0M49 30h0M64 27h0M120 28h0M164 31h0M22 36h0M60 34h0M119 34h0M129 33h0M177 33h0M49 40h0M68 44h0M88 41h0M112 43h0M155 41h0M38 53h0M94 48h0M141 53h0M167 52h0M41 56h0M140 54h0M139 62h0M100 69h0M74 76h0M123 77h0M175 76h0M17 84h0M64 85h0M90 88h0M121 85h0M174 88h0M7 95h0M97 92h0M107 93h0M129 91h0M84 100h0M102 101h0M155 102h0M173 103h0M144 106h0M58 111h0M85 111h0M94 115h0M165 111h0M45 119h0M52 122h0M59 124h0M104 119h0M117 120h0M132 120h0M24 130h0M32 129h0M97 126h0M110 130h0M152 127h0M172 127h0M41 132h0M125 134h0M139 133h0M147 137h0M172 136h0M46 145h0M135 142h0M68 151h0M171 147h0M104 157h0M111 156h0M122 154h0M28 162h0M52 165h0M70 165h0M113 165h0M140 167h0M144 165h0M168 164h0M2 172h0M74 173h0M76 169h0M135 173h0" stroke="#5f5d88" stroke-width="5.8"/>
<path d="M11 -2h0M147 1h0M155 3h0M168 -1h0M5 9h0M60 7h0M3 11h0M18 13h0M52 17h0M14 22h0M31 26h0M140 26h0M151 28h0M92 33h0M164 32h0M3 42h0M60 40h0M78 44h0M51 51h0M67 51h0M117 53h0M126 48h0M82 59h0M122 59h0M73 61h0M121 66h0M21 72h0M45 74h0M15 78h0M41 85h0M56 84h0M91 93h0M112 90h0M119 100h0M143 97h0M86 104h0M18 111h0M59 137h0M84 132h0M108 138h0M159 135h0M17 147h0M110 147h0M112 150h0M152 150h0M96 158h0M166 156h0M84 161h0" stroke="#6b678a" stroke-width="4.2"/>
<path d="M113 4h0M160 10h0M171 26h0M98 35h0M32 40h0M133 46h0M25 48h0M105 48h0M-2 59h0M7 57h0M133 59h0M156 59h0M148 62h0M155 65h0M63 73h0M36 81h0M114 76h0M103 86h0M113 84h0M171 91h0M30 102h0M14 104h0M23 103h0M180 105h0M80 112h0M172 116h0M63 126h0M117 126h0M25 140h0M78 144h0M177 143h0M164 153h0M89 155h0M153 153h0M157 157h0M173 158h0M2 167h0M99 164h0M124 161h0M51 170h0M143 173h0" stroke="#6b678a" stroke-width="4.9"/>
<path d="M144 3h0M101 6h0M86 19h0M86 32h0M96 28h0M133 26h0M161 28h0M169 37h0M105 44h0M128 46h0M171 42h0M13 48h0M86 52h0M14 57h0M66 60h0M6 64h0M15 62h0M68 63h0M14 71h0M116 69h0M141 68h0M74 84h0M11 92h0M20 92h0M37 95h0M16 98h0M21 101h0M72 98h0M79 98h0M97 99h0M109 100h0M32 108h0M106 103h0M169 108h0M10 116h0M73 113h0M108 111h0M150 112h0M93 121h0M18 129h0M142 130h0M9 135h0M28 138h0M72 140h0M46 152h0M148 151h0M20 167h0" stroke="#6b678a" stroke-width="5.8"/>
<path d="M21 -0h0M62 3h0M124 6h0M49 19h0M106 27h0M45 33h0M5 43h0M97 52h0M175 49h0M43 64h0M107 64h0M70 71h0M31 77h0M157 75h0M2 85h0M120 92h0M6 109h0M40 105h0M123 104h0M118 114h0M142 111h0M75 122h0M39 128h0M105 131h0M136 147h0M106 166h0M161 161h0M24 168h0" stroke="#84683e" stroke-width="3.8"/>
<path d="M31 2h0M54 -2h0M7 11h0M96 12h0M60 20h0M65 21h0M75 19h0M113 23h0M17 29h0M114 27h0M9 37h0M53 36h0M146 34h0M42 51h0M78 52h0M133 47h0M163 65h0M179 63h0M38 71h0M64 76h0M147 80h0M170 79h0M8 82h0M96 86h0M134 86h0M160 87h0M31 93h0M77 95h0M156 95h0M126 101h0M66 115h0M64 123h0M43 143h0M142 140h0M158 140h0M81 154h0M5 174h0M93 168h0" stroke="#84683e" stroke-width="4.4"/>
<path d="M81 3h0M100 3h0M135 -3h0M137 15h0M140 13h0M88 20h0M147 22h0M176 23h0M83 36h0M105 38h0M155 36h0M145 48h0M36 61h0M55 70h0M4 81h0M89 75h0M130 76h0M124 83h0M67 93h0M137 99h0M100 108h0M133 117h0M4 122h0M142 120h0M164 118h0M133 128h0M50 138h0M70 136h0M64 144h0M116 145h0M29 151h0M73 148h0M120 151h0M9 158h0M51 158h0M129 153h0M91 166h0M66 171h0" stroke="#84683e" stroke-width="5.2"/>
</g>
</g></g>
<rect x="762.5" y="1910.3" width="172.1" height="171.9" fill="none" stroke="#000" stroke-width="2.4"/>
<line x1="895.4" y1="2072.7" x2="928.1" y2="2072.7" stroke="#111" stroke-width="1.5" stroke-linecap="butt"/>
<defs><filter id="n19" x="0" y="0" width="1" height="1" color-interpolation-filters="sRGB"><feTurbulence type="fractalNoise" baseFrequency="0.07" numOctaves="4" seed="46"/><feColorMatrix type="matrix" values="0.45 0.05 0 0 0.41 0.45 0.03 0 0 0.36 0.45 -0.02 0 0 0.35 0 0 0 0 1"/></filter><filter id="d19" x="0" y="0" width="1" height="1" color-interpolation-filters="sRGB"><feTurbulence type="fractalNoise" baseFrequency="0.11" numOctaves="2" seed="96" result="t"/><feDisplacementMap in="SourceGraphic" in2="t" scale="4" xChannelSelector="R" yChannelSelector="G"/><feGaussianBlur stdDeviation="1.1"/></filter><clipPath id="c19"><rect width="169.6" height="169.2"/></clipPath></defs>
<g transform="translate(403.4 2090.4)"><g clip-path="url(#c19)">
<rect width="169.6" height="169.2" fill="#a89990"/>
<rect width="169.6" height="169.2" filter="url(#n19)"/>
<g fill="none" stroke-linecap="round" filter="url(#d19)">
<path d="M74 1h0M82 -0h0M113 2h0M125 -1h0M1 7h0M28 7h0M73 5h0M131 5h0M156 10h0M42 14h0M92 24h0M107 24h0M10 26h0M45 30h0M79 30h0M126 27h0M37 33h0M61 33h0M81 38h0M102 38h0M148 37h0M8 43h0M97 42h0M140 45h0M160 45h0M171 40h0M53 49h0M148 47h0M18 56h0M102 57h0M119 59h0M147 54h0M93 65h0M165 63h0M169 64h0M38 74h0M105 68h0M120 68h0M69 82h0M141 81h0M168 78h0M24 87h0M132 85h0M147 85h0M93 92h0M168 94h0M181 91h0M1 101h0M26 100h0M61 102h0M116 97h0M54 104h0M77 108h0M170 108h0M175 109h0M69 112h0M26 123h0M54 118h0M123 120h0M163 122h0M2 128h0M129 129h0M143 126h0M156 129h0M165 130h0M43 133h0M56 133h0M31 145h0M147 145h0M177 144h0M53 147h0M88 152h0M40 154h0M94 164h0M109 164h0M116 163h0M172 162h0M68 171h0M140 172h0" stroke="#604424" stroke-width="4.3"/>
<path d="M21 2h0M93 -2h0M121 0h0M165 6h0M54 17h0M77 17h0M111 14h0M2 21h0M69 22h0M1 27h0M17 28h0M53 27h0M73 27h0M112 32h0M163 29h0M1 35h0M42 38h0M105 33h0M132 33h0M31 45h0M104 42h0M128 45h0M3 51h0M65 53h0M104 47h0M86 54h0M46 65h0M74 65h0M85 67h0M138 67h0M6 69h0M127 69h0M160 72h0M163 72h0M53 78h0M77 78h0M99 75h0M110 78h0M148 76h0M151 80h0M-1 83h0M10 84h0M16 87h0M167 83h0M171 83h0M9 91h0M104 90h0M73 103h0M76 98h0M96 99h0M135 97h0M166 102h0M175 101h0M18 106h0M33 110h0M69 107h0M155 110h0M74 123h0M106 120h0M117 118h0M23 127h0M90 126h0M116 129h0M152 127h0M31 134h0M80 135h0M160 138h0M-0 143h0M72 145h0M121 142h0M141 142h0M7 151h0M33 151h0M58 150h0M106 151h0M144 157h0M3 162h0M15 161h0M22 161h0M33 162h0M67 165h0M64 169h0M81 169h0M128 173h0M160 170h0M175 171h0" stroke="#604424" stroke-width="5.1"/>
<path d="M11 1h0M19 0h0M49 -1h0M58 3h0M65 0h0M145 1h0M168 3h0M172 -1h0M17 8h0M37 10h0M65 5h0M99 8h0M105 7h0M17 16h0M64 11h0M127 17h0M155 12h0M173 14h0M43 19h0M116 19h0M132 23h0M116 30h0M145 28h0M148 30h0M115 38h0M18 43h0M27 46h0M70 40h0M81 40h0M134 43h0M164 40h0M17 51h0M59 49h0M49 59h0M166 55h0M18 61h0M180 64h0M97 69h0M152 68h0M6 76h0M44 80h0M59 78h0M112 77h0M28 82h0M85 84h0M92 85h0M3 93h0M28 92h0M38 91h0M124 92h0M135 95h0M149 95h0M161 90h0M55 98h0M89 96h0M28 106h0M58 107h0M91 105h0M143 107h0M45 112h0M58 113h0M64 113h0M82 115h0M86 111h0M95 115h0M126 112h0M163 114h0M2 119h0M15 121h0M68 124h0M127 121h0M180 124h0M34 126h0M10 134h0M98 138h0M110 132h0M13 141h0M59 142h0M135 142h0M18 146h0M96 150h0M130 147h0M163 149h0M60 156h0M72 159h0M97 154h0M115 159h0M137 154h0M43 165h0M52 164h0M72 164h0M98 161h0M135 161h0M25 174h0M42 172h0" stroke="#604424" stroke-width="6.0"/>
<path d="M32 -2h0M88 1h0M119 5h0M30 11h0M89 15h0M85 21h0M173 37h0M85 43h0M26 47h0M132 47h0M-2 54h0M52 58h0M110 57h0M99 67h0M153 61h0M88 69h0M160 85h0M57 89h0M96 93h0M105 99h0M123 100h0M34 111h0M152 117h0M38 124h0M42 123h0M140 119h0M11 130h0M77 137h0M37 143h0M159 144h0M17 155h0M54 158h0" stroke="#70687a" stroke-width="3.9"/>
<path d="M94 13h0M175 23h0M175 31h0M19 34h0M143 58h0M64 68h0M77 68h0M49 83h0M74 88h0M105 84h0M82 90h0M118 115h0M144 113h0M82 118h0M108 128h0M127 136h0M153 137h0M7 143h0M147 148h0M31 155h0M45 154h0M137 173h0" stroke="#70687a" stroke-width="4.6"/>
<path d="M136 1h0M25 14h0M138 24h0M104 29h0M138 32h0M52 38h0M91 33h0M125 37h0M141 36h0M113 45h0M115 51h0M51 64h0M17 71h0M12 75h0M27 81h0M86 78h0M42 94h0M78 93h0M138 108h0M159 114h0M49 131h0M61 127h0M2 160h0M56 161h0" stroke="#70687a" stroke-width="5.4"/>
<path d="M-3 -2h0M39 -0h0M102 3h0M92 4h0M135 4h0M-1 17h0M137 12h0M144 12h0M57 23h0M146 19h0M89 31h0M29 38h0M164 36h0M41 48h0M76 47h0M136 50h0M126 54h0M109 66h0M123 64h0M131 67h0M50 68h0M135 69h0M92 78h0M120 78h0M129 79h0M42 88h0M80 88h0M110 85h0M66 93h0M117 93h0M2 104h0M86 105h0M125 109h0M132 105h0M3 113h0M6 112h0M99 119h0M145 122h0M18 127h0M54 129h0M74 128h0M101 126h0M35 133h0M67 136h0M112 143h0M75 147h0M27 158h0M90 158h0M163 154h0M172 159h0M144 164h0M152 165h0M164 163h0M-3 168h0M10 168h0M32 170h0M50 171h0" stroke="#72583c" stroke-width="4.3"/>
<path d="M52 9h0M179 7h0M152 14h0M19 22h0M49 20h0M26 26h0M65 34h0M73 38h0M176 36h0M-2 43h0M121 39h0M151 45h0M91 52h0M125 48h0M157 48h0M171 49h0M95 56h0M160 60h0M2 65h0M57 66h0M69 61h0M71 71h0M113 73h0M145 74h0M37 80h0M159 81h0M119 85h0M144 84h0M18 98h0M42 97h0M49 98h0M159 101h0M15 109h0M44 108h0M108 108h0M24 113h0M113 116h0M175 113h0M58 124h0M170 120h0M76 129h0M5 132h0M46 142h0M95 142h0M30 152h0M155 150h0M11 153h0M155 155h0M125 161h0M15 172h0M55 170h0" stroke="#72583c" stroke-width="5.1"/>
<path d="M147 -0h0M10 7h0M44 10h0M57 8h0M80 4h0M117 7h0M8 16h0M50 11h0M167 15h0M74 21h0M124 21h0M151 23h0M168 22h0M61 29h0M33 48h0M162 48h0M176 57h0M10 63h0M35 61h0M113 61h0M57 70h0M174 69h0M131 90h0M154 94h0M113 99h0M140 101h0M164 103h0M37 113h0M101 111h0M91 124h0M156 118h0M50 133h0M118 135h0M141 133h0M81 140h0M84 140h0M137 147h0M169 147h0M126 154h0M149 153h0M30 161h0M133 161h0M85 173h0M166 169h0" stroke="#72583c" stroke-width="6.0"/>
</g>
</g></g>
<rect x="403.4" y="2090.4" width="169.6" height="169.2" fill="none" stroke="#4a4a4a" stroke-width="0.8"/>
<line x1="534.4" y1="2250.7" x2="567.1" y2="2250.7" stroke="#111" stroke-width="1.5" stroke-linecap="butt"/>
<defs><filter id="n20" x="0" y="0" width="1" height="1" color-interpolation-filters="sRGB"><feTurbulence type="fractalNoise" baseFrequency="0.07" numOctaves="4" seed="47"/><feColorMatrix type="matrix" values="0.45 0.05 0 0 0.43 0.45 0.03 0 0 0.39 0.45 -0.02 0 0 0.42 0 0 0 0 1"/></filter><filter id="d20" x="0" y="0" width="1" height="1" color-interpolation-filters="sRGB"><feTurbulence type="fractalNoise" baseFrequency="0.11" numOctaves="2" seed="97" result="t"/><feDisplacementMap in="SourceGraphic" in2="t" scale="4" xChannelSelector="R" yChannelSelector="G"/><feGaussianBlur stdDeviation="1.1"/></filter><clipPath id="c20"><rect width="169.6" height="169.2"/></clipPath></defs>
<g transform="translate(582.3 2090.4)"><g clip-path="url(#c20)">
<rect width="169.6" height="169.2" fill="#ada1a1"/>
<rect width="169.6" height="169.2" filter="url(#n20)"/>
<g fill="none" stroke-linecap="round" filter="url(#d20)">
<path d="M76 -3h0M78 -2h0M128 -0h0M3 8h0M54 10h0M99 8h0M112 10h0M126 11h0M134 9h0M-1 12h0M13 24h0M56 20h0M68 23h0M75 22h0M31 30h0M58 27h0M112 39h0M125 34h0M161 38h0M16 45h0M26 46h0M50 42h0M60 46h0M100 47h0M77 52h0M-1 62h0M30 61h0M49 56h0M130 62h0M167 58h0M5 68h0M113 69h0M2 72h0M63 77h0M136 74h0M148 74h0M70 78h0M86 82h0M111 79h0M-3 88h0M6 86h0M130 91h0M175 94h0M-1 103h0M65 104h0M93 106h0M105 100h0M163 104h0M55 110h0M56 120h0M102 124h0M157 126h0M5 132h0M73 130h0M103 133h0M146 133h0M43 140h0M61 138h0M84 140h0M97 138h0M-0 150h0M41 149h0M105 145h0M125 145h0M116 156h0M109 165h0M120 165h0M6 167h0M86 168h0M170 171h0" stroke="#664a28" stroke-width="4.3"/>
<path d="M24 3h0M54 -2h0M69 -0h0M148 -0h0M35 17h0M112 12h0M148 12h0M169 16h0M39 20h0M94 24h0M115 19h0M136 40h0M165 35h0M175 37h0M5 47h0M41 43h0M138 42h0M5 53h0M19 48h0M35 50h0M114 55h0M19 59h0M146 61h0M171 62h0M64 69h0M102 68h0M127 63h0M110 75h0M173 75h0M43 82h0M61 80h0M92 83h0M14 97h0M18 98h0M26 95h0M58 94h0M91 96h0M158 97h0M74 101h0M149 100h0M158 100h0M11 108h0M71 113h0M108 114h0M175 110h0M99 118h0M118 118h0M171 119h0M31 123h0M52 127h0M129 128h0M135 123h0M154 126h0M35 131h0M22 143h0M13 145h0M55 148h0M133 149h0M161 147h0M172 150h0M58 152h0M84 157h0M94 153h0M18 160h0M24 159h0M131 165h0M148 162h0M29 171h0M53 168h0M151 166h0" stroke="#664a28" stroke-width="5.1"/>
<path d="M9 -2h0M14 0h0M100 3h0M107 3h0M116 -3h0M140 -3h0M32 9h0M59 4h0M87 9h0M148 7h0M167 10h0M20 18h0M23 15h0M96 18h0M133 14h0M100 19h0M7 32h0M19 27h0M49 29h0M21 37h0M32 39h0M38 37h0M-1 46h0M77 43h0M130 46h0M164 47h0M62 54h0M136 52h0M65 58h0M115 58h0M157 59h0M48 65h0M89 66h0M91 64h0M122 67h0M157 67h0M9 72h0M58 73h0M20 81h0M29 81h0M36 82h0M56 84h0M129 83h0M145 78h0M169 81h0M92 86h0M162 88h0M42 98h0M78 97h0M102 98h0M150 96h0M169 105h0M138 108h0M92 119h0M37 123h0M75 124h0M91 128h0M114 122h0M119 127h0M-2 132h0M42 132h0M40 139h0M28 148h0M77 149h0M114 147h0M44 158h0M155 154h0M167 153h0M114 163h0M165 164h0M169 162h0M173 171h0" stroke="#664a28" stroke-width="6.0"/>
<path d="M45 10h0M1 19h0M64 22h0M124 21h0M-2 31h0M142 56h0M52 76h0M134 73h0M158 81h0M70 94h0M120 108h0M144 107h0M-0 119h0M15 117h0M48 115h0M144 122h0M84 134h0M114 132h0M122 129h0M27 139h0M161 139h0M144 147h0M15 158h0M32 163h0M39 159h0M64 159h0M14 169h0M126 172h0" stroke="#746c80" stroke-width="3.9"/>
<path d="M35 1h0M49 3h0M157 7h0M103 18h0M83 21h0M174 21h0M10 36h0M110 47h0M138 66h0M46 88h0M175 87h0M30 108h0M89 109h0M124 121h0M50 153h0M79 152h0M9 160h0M69 167h0M104 168h0" stroke="#746c80" stroke-width="4.6"/>
<path d="M42 2h0M122 1h0M46 16h0M64 17h0M162 15h0M18 24h0M169 19h0M11 62h0M41 57h0M175 64h0M89 72h0M6 80h0M121 84h0M105 88h0M55 96h0M109 98h0M133 94h0M59 101h0M114 103h0M42 108h0M154 110h0M158 108h0M23 134h0M48 148h0M141 144h0M160 168h0" stroke="#746c80" stroke-width="5.4"/>
<path d="M39 11h0M59 15h0M32 24h0M150 25h0M68 28h0M99 27h0M111 26h0M54 38h0M66 41h0M158 41h0M43 50h0M149 50h0M76 59h0M89 56h0M68 69h0M165 67h0M101 76h0M31 90h0M43 89h0M5 97h0M36 93h0M50 102h0M80 101h0M125 104h0M24 114h0M30 115h0M141 120h0M69 125h0M56 131h0M9 139h0M119 137h0M125 137h0M36 147h0M101 144h0M5 153h0M73 155h0M21 171h0M61 168h0" stroke="#785e40" stroke-width="4.3"/>
<path d="M77 10h0M94 6h0M5 17h0M44 13h0M121 16h0M45 23h0M122 30h0M5 36h0M45 40h0M170 44h0M9 53h0M88 54h0M156 49h0M108 56h0M153 64h0M17 71h0M36 71h0M40 74h0M115 74h0M165 76h0M11 80h0M103 80h0M149 81h0M14 91h0M27 88h0M57 87h0M72 91h0M79 87h0M116 88h0M120 89h0M86 95h0M122 93h0M145 98h0M97 105h0M133 105h0M62 112h0M81 111h0M91 112h0M104 118h0M170 127h0M16 133h0M48 133h0M101 134h0M102 137h0M152 138h0M89 148h0M19 155h0M36 158h0M103 153h0M51 160h0M39 171h0M47 171h0" stroke="#785e40" stroke-width="5.1"/>
<path d="M158 2h0M22 9h0M71 8h0M110 23h0M145 23h0M162 19h0M22 27h0M74 28h0M174 29h0M92 39h0M36 44h0M115 43h0M147 42h0M124 52h0M169 50h0M24 57h0M56 56h0M82 59h0M124 56h0M21 65h0M28 70h0M34 67h0M74 75h0M76 83h0M174 82h0M69 88h0M155 89h0M124 93h0M167 97h0M16 104h0M27 102h0M101 111h0M125 108h0M42 120h0M74 121h0M4 124h0M64 128h0M87 128h0M142 130h0M76 137h0M144 140h0M66 146h0M81 149h0M26 156h0M71 164h0M93 163h0M137 165h0" stroke="#785e40" stroke-width="6.0"/>
</g>
</g></g>
<rect x="582.3" y="2090.4" width="169.6" height="169.2" fill="none" stroke="#4a4a4a" stroke-width="0.8"/>
<line x1="713.3" y1="2250.7" x2="746" y2="2250.7" stroke="#111" stroke-width="1.5" stroke-linecap="butt"/>
<defs><filter id="n21" x="0" y="0" width="1" height="1" color-interpolation-filters="sRGB"><feTurbulence type="fractalNoise" baseFrequency="0.07" numOctaves="4" seed="48"/><feColorMatrix type="matrix" values="0.45 0.05 0 0 0.42 0.45 0.03 0 0 0.38 0.45 -0.02 0 0 0.41 0 0 0 0 1"/></filter><filter id="d21" x="0" y="0" width="1" height="1" color-interpolation-filters="sRGB"><feTurbulence type="fractalNoise" baseFrequency="0.11" numOctaves="2" seed="98" result="t"/><feDisplacementMap in="SourceGraphic" in2="t" scale="4" xChannelSelector="R" yChannelSelector="G"/><feGaussianBlur stdDeviation="1.1"/></filter><clipPath id="c21"><rect width="169.2" height="169.2"/></clipPath></defs>
<g transform="translate(763.4 2090.4)"><g clip-path="url(#c21)">
<rect width="169.2" height="169.2" fill="#ab9fa0"/>
<rect width="169.2" height="169.2" filter="url(#n21)"/>
<g fill="none" stroke-linecap="round" filter="url(#d21)">
<path d="M46 1h0M67 1h0M146 -1h0M27 10h0M116 10h0M152 7h0M73 13h0M164 15h0M149 22h0M34 28h0M80 31h0M116 32h0M125 28h0M2 39h0M58 38h0M178 38h0M47 45h0M72 43h0M87 44h0M159 47h0M23 53h0M118 50h0M97 58h0M170 62h0M12 64h0M96 67h0M148 67h0M178 68h0M19 72h0M46 72h0M82 73h0M142 75h0M165 76h0M24 81h0M39 79h0M157 82h0M165 81h0M38 86h0M3 93h0M27 105h0M145 101h0M47 109h0M91 110h0M166 109h0M110 121h0M174 119h0M1 128h0M125 126h0M-3 133h0M100 131h0M12 139h0M109 138h0M83 150h0M112 145h0M61 151h0M105 157h0M174 155h0M25 165h0M44 161h0M54 160h0M115 160h0M112 171h0M162 172h0" stroke="#624626" stroke-width="4.4"/>
<path d="M74 -1h0M87 -1h0M152 -2h0M162 -0h0M2 5h0M10 10h0M78 9h0M114 13h0M139 11h0M148 12h0M158 16h0M170 17h0M53 19h0M143 24h0M174 19h0M3 29h0M24 32h0M38 27h0M134 30h0M153 28h0M76 35h0M132 40h0M97 46h0M116 47h0M36 48h0M45 50h0M89 48h0M138 49h0M154 55h0M177 54h0M7 56h0M43 57h0M111 59h0M142 58h0M48 64h0M71 65h0M2 74h0M44 73h0M2 83h0M103 80h0M124 79h0M174 78h0M48 91h0M57 85h0M62 87h0M154 87h0M10 93h0M23 99h0M77 99h0M103 94h0M146 98h0M158 93h0M30 106h0M163 100h0M172 102h0M143 109h0M27 120h0M44 117h0M120 115h0M129 120h0M162 120h0M175 123h0M10 133h0M14 132h0M47 132h0M71 134h0M128 130h0M155 136h0M47 143h0M149 139h0M76 148h0M129 147h0M18 152h0M47 157h0M145 154h0M154 153h0M80 162h0M90 159h0M22 171h0M96 170h0M170 170h0" stroke="#624626" stroke-width="5.2"/>
<path d="M8 3h0M80 -1h0M63 10h0M114 6h0M140 8h0M169 9h0M27 17h0M90 15h0M129 11h0M10 20h0M62 25h0M85 24h0M92 27h0M98 28h0M162 30h0M175 26h0M27 35h0M54 39h0M163 40h0M165 40h0M59 42h0M3 59h0M51 59h0M105 58h0M36 64h0M60 65h0M85 68h0M121 68h0M160 66h0M170 68h0M112 71h0M172 73h0M14 79h0M27 81h0M-2 92h0M112 89h0M125 89h0M51 94h0M87 95h0M127 93h0M148 96h0M52 104h0M155 104h0M30 112h0M40 109h0M99 107h0M132 108h0M152 111h0M52 120h0M64 115h0M95 115h0M13 126h0M21 125h0M28 126h0M36 125h0M60 128h0M96 123h0M141 128h0M22 141h0M120 143h0M167 139h0M2 146h0M7 147h0M97 150h0M155 148h0M89 154h0M124 154h0M31 160h0M76 165h0M122 163h0M162 165h0M42 172h0M70 168h0" stroke="#624626" stroke-width="6.1"/>
<path d="M88 5h0M12 13h0M103 22h0M138 23h0M54 31h0M171 46h0M67 53h0M23 65h0M128 70h0M137 78h0M21 90h0M112 102h0M31 116h0M161 126h0M157 137h0M3 158h0M145 161h0M99 172h0" stroke="#726a7e" stroke-width="4.0"/>
<path d="M71 8h0M98 6h0M50 16h0M157 19h0M-1 44h0M9 43h0M80 41h0M59 51h0M165 48h0M76 56h0M154 60h0M61 80h0M11 90h0M116 94h0M-1 104h0M15 101h0M54 109h0M-0 118h0M156 118h0M80 132h0M91 130h0M150 134h0M144 139h0M173 142h0M64 147h0M73 152h0" stroke="#726a7e" stroke-width="4.7"/>
<path d="M96 18h0M114 21h0M66 40h0M113 68h0M149 77h0M33 87h0M82 86h0M15 112h0M49 144h0M172 148h0M11 155h0M28 155h0M118 155h0M102 163h0M74 170h0" stroke="#726a7e" stroke-width="5.5"/>
<path d="M43 2h0M32 13h0M58 13h0M68 15h0M71 24h0M17 32h0M105 30h0M140 29h0M35 44h0M104 42h0M53 53h0M142 51h0M65 57h0M145 61h0M5 66h0M27 65h0M5 76h0M34 76h0M104 75h0M153 77h0M14 92h0M137 88h0M29 97h0M4 112h0M76 108h0M126 113h0M160 112h0M11 115h0M16 120h0M149 120h0M109 122h0M119 124h0M148 128h0M2 143h0M26 141h0M112 156h0M135 155h0M157 154h0M109 163h0M37 172h0M126 172h0M145 172h0" stroke="#745a3e" stroke-width="4.4"/>
<path d="M2 -2h0M54 -3h0M115 -1h0M121 2h0M129 0h0M129 6h0M132 7h0M34 21h0M79 23h0M97 20h0M128 22h0M171 19h0M48 38h0M122 34h0M142 40h0M149 38h0M41 45h0M163 47h0M12 54h0M95 49h0M113 52h0M17 57h0M25 60h0M35 59h0M84 62h0M101 63h0M133 70h0M45 82h0M75 79h0M69 94h0M88 104h0M130 103h0M117 108h0M177 112h0M87 121h0M134 126h0M125 130h0M62 138h0M22 150h0M166 149h0M19 160h0M9 170h0M83 172h0M117 170h0M137 172h0" stroke="#745a3e" stroke-width="5.2"/>
<path d="M95 -2h0M171 1h0M48 11h0M29 21h0M145 32h0M13 34h0M84 34h0M94 34h0M99 39h0M107 38h0M18 48h0M148 44h0M29 53h0M52 69h0M54 78h0M160 87h0M177 96h0M65 100h0M97 106h0M141 105h0M23 109h0M113 107h0M114 119h0M72 126h0M168 122h0M54 134h0M35 137h0M69 141h0M132 142h0M16 148h0M39 145h0M80 154h0M170 158h0M11 160h0M66 162h0M62 171h0" stroke="#745a3e" stroke-width="6.1"/>
</g>
</g></g>
<rect x="763.4" y="2090.4" width="169.2" height="169.2" fill="none" stroke="#4a4a4a" stroke-width="0.8"/>
<line x1="894" y1="2250.7" x2="926.7" y2="2250.7" stroke="#111" stroke-width="1.5" stroke-linecap="butt"/>
<defs><filter id="n22" x="0" y="0" width="1" height="1" color-interpolation-filters="sRGB"><feTurbulence type="fractalNoise" baseFrequency="0.07" numOctaves="4" seed="49"/><feColorMatrix type="matrix" values="0.45 0.03 0 0 0.41 0.45 0.02 0 0 0.4 0.45 0 0 0 0.41 0 0 0 0 1"/></filter><filter id="d22" x="0" y="0" width="1" height="1" color-interpolation-filters="sRGB"><feTurbulence type="fractalNoise" baseFrequency="0.11" numOctaves="2" seed="99" result="t"/><feDisplacementMap in="SourceGraphic" in2="t" scale="4" xChannelSelector="R" yChannelSelector="G"/><feGaussianBlur stdDeviation="1.1"/></filter><clipPath id="c22"><rect width="169.6" height="168.8"/></clipPath></defs>
<g transform="translate(403.4 2271.5)"><g clip-path="url(#c22)">
<rect width="169.6" height="168.8" fill="#a5a3a2"/>
<rect width="169.6" height="168.8" filter="url(#n22)"/>
<g fill="none" stroke-linecap="round" filter="url(#d22)">
<path d="M3 1h0M62 4h0M79 3h0M86 -2h0M108 0h0M30 6h0M113 8h0M141 7h0M27 18h0M71 14h0M21 20h0M75 21h0M109 26h0M134 25h0M25 27h0M119 33h0M156 30h0M177 39h0M11 48h0M20 48h0M63 44h0M104 45h0M30 50h0M84 51h0M115 56h0M155 51h0M-1 63h0M16 60h0M27 62h0M84 65h0M159 60h0M172 60h0M72 69h0M132 72h0M143 70h0M2 77h0M117 79h0M125 85h0M158 84h0M178 82h0M37 92h0M57 90h0M76 90h0M126 89h0M91 101h0M100 98h0M139 103h0M156 98h0M35 111h0M140 105h0M31 118h0M63 117h0M101 117h0M113 118h0M60 121h0M66 123h0M109 124h0M148 121h0M53 128h0M156 133h0M15 136h0M146 142h0M126 149h0M168 143h0M85 156h0M163 151h0M41 159h0M139 165h0M16 168h0M51 168h0M114 169h0" stroke="#555870" stroke-width="4.5"/>
<path d="M151 2h0M13 9h0M21 9h0M16 18h0M103 14h0M114 15h0M138 18h0M161 16h0M173 14h0M41 23h0M143 24h0M164 24h0M44 33h0M54 28h0M58 30h0M160 31h0M20 35h0M116 41h0M132 37h0M50 45h0M91 49h0M135 47h0M61 55h0M88 57h0M66 62h0M105 72h0M157 68h0M78 74h0M171 81h0M1 87h0M33 84h0M50 87h0M97 87h0M144 83h0M170 86h0M98 93h0M134 89h0M13 98h0M128 97h0M174 98h0M78 108h0M121 106h0M15 115h0M72 116h0M148 113h0M48 124h0M138 120h0M161 125h0M44 134h0M140 133h0M58 137h0M72 140h0M98 139h0M32 148h0M39 144h0M54 145h0M110 145h0M144 146h0M54 154h0M62 156h0M113 151h0M136 155h0M21 160h0M118 160h0M160 160h0M169 163h0M9 166h0M37 168h0M171 168h0" stroke="#555870" stroke-width="5.3"/>
<path d="M66 -3h0M95 -3h0M117 -1h0M7 5h0M130 10h0M178 10h0M7 16h0M60 15h0M11 24h0M48 24h0M61 23h0M89 25h0M20 29h0M105 32h0M31 42h0M50 38h0M54 38h0M74 38h0M109 39h0M1 48h0M43 48h0M75 46h0M126 48h0M142 44h0M162 49h0M18 53h0M59 53h0M73 53h0M109 56h0M140 54h0M36 63h0M75 60h0M93 64h0M103 59h0M122 64h0M139 65h0M45 74h0M92 74h0M126 77h0M151 81h0M74 84h0M24 95h0M118 93h0M169 89h0M146 100h0M163 99h0M45 106h0M86 110h0M94 107h0M100 105h0M126 108h0M44 117h0M53 115h0M123 114h0M130 115h0M178 115h0M-4 122h0M10 125h0M106 127h0M130 129h0M10 142h0M130 137h0M78 149h0M151 146h0M-2 151h0M15 153h0M40 151h0M119 151h0M151 153h0M33 162h0M97 159h0M125 164h0M172 161h0M-2 170h0M44 167h0M100 170h0M135 167h0" stroke="#555870" stroke-width="6.2"/>
<path d="M128 0h0M170 1h0M56 9h0M71 8h0M38 14h0M7 24h0M9 30h0M36 34h0M7 36h0M127 40h0M138 35h0M123 55h0M176 56h0M9 63h0M57 58h0M132 60h0M1 66h0M12 66h0M66 71h0M149 68h0M176 66h0M135 77h0M143 80h0M165 78h0M133 86h0M4 92h0M10 93h0M155 89h0M48 100h0M17 107h0M51 110h0M56 108h0M87 113h0M104 116h0M42 122h0M76 125h0M93 123h0M155 123h0M91 129h0M104 134h0M167 129h0M80 137h0M6 144h0M101 147h0M93 155h0M129 164h0M153 160h0M25 168h0M143 171h0" stroke="#676a80" stroke-width="4.5"/>
<path d="M7 -2h0M18 1h0M46 2h0M41 8h0M63 5h0M88 8h0M123 5h0M148 8h0M-2 16h0M75 15h0M130 18h0M31 22h0M55 25h0M84 25h0M101 26h0M148 22h0M1 32h0M131 34h0M144 32h0M150 36h0M165 36h0M32 49h0M85 47h0M151 48h0M41 57h0M98 55h0M134 54h0M147 64h0M27 68h0M17 78h0M24 77h0M61 78h0M109 76h0M20 84h0M41 87h0M148 83h0M3 104h0M144 111h0M155 105h0M169 107h0M160 115h0M16 125h0M31 121h0M85 120h0M170 125h0M4 129h0M149 131h0M25 137h0M83 136h0M166 135h0M21 145h0M156 143h0M27 152h0M128 156h0M91 162h0M57 168h0M132 170h0M157 167h0" stroke="#676a80" stroke-width="5.3"/>
<path d="M23 1h0M32 3h0M50 3h0M135 0h0M45 5h0M147 16h0M153 13h0M112 21h0M127 22h0M84 33h0M78 35h0M173 49h0M51 57h0M148 52h0M165 57h0M112 61h0M90 67h0M101 74h0M67 85h0M90 86h0M113 87h0M16 90h0M102 90h0M146 93h0M160 89h0M57 100h0M79 100h0M110 103h0M118 98h0M130 97h0M12 109h0M108 111h0M163 110h0M119 126h0M125 124h0M15 130h0M38 134h0M67 129h0M173 134h0M-3 139h0M112 140h0M118 141h0M133 138h0M154 142h0M175 137h0M10 146h0M50 145h0M67 147h0M90 150h0M113 144h0M130 144h0M11 156h0M101 156h0M54 163h0M75 164h0M81 163h0M164 167h0" stroke="#676a80" stroke-width="6.2"/>
</g>
</g></g>
<rect x="403.4" y="2271.5" width="169.6" height="168.8" fill="none" stroke="#4a4a4a" stroke-width="0.8"/>
<line x1="534.4" y1="2431.4" x2="567.1" y2="2431.4" stroke="#111" stroke-width="1.5" stroke-linecap="butt"/>
<defs><filter id="n23" x="0" y="0" width="1" height="1" color-interpolation-filters="sRGB"><feTurbulence type="fractalNoise" baseFrequency="0.07" numOctaves="4" seed="50"/><feColorMatrix type="matrix" values="0.45 0.03 0 0 0.4 0.45 0.02 0 0 0.4 0.45 0 0 0 0.44 0 0 0 0 1"/></filter><filter id="d23" x="0" y="0" width="1" height="1" color-interpolation-filters="sRGB"><feTurbulence type="fractalNoise" baseFrequency="0.11" numOctaves="2" seed="100" result="t"/><feDisplacementMap in="SourceGraphic" in2="t" scale="4" xChannelSelector="R" yChannelSelector="G"/><feGaussianBlur stdDeviation="1.1"/></filter><clipPath id="c23"><rect width="169.6" height="168.8"/></clipPath></defs>
<g transform="translate(582.3 2271.5)"><g clip-path="url(#c23)">
<rect width="169.6" height="168.8" fill="#a3a2aa"/>
<rect width="169.6" height="168.8" filter="url(#n23)"/>
<g fill="none" stroke-linecap="round" filter="url(#d23)">
<path d="M95 2h0M128 -0h0M135 -2h0M167 -2h0M175 3h0M6 11h0M96 7h0M181 4h0M16 16h0M162 12h0M174 17h0M64 21h0M154 26h0M3 30h0M30 30h0M12 36h0M127 37h0M10 45h0M23 47h0M82 46h0M107 47h0M44 54h0M74 52h0M89 49h0M110 51h0M120 53h0M11 61h0M17 59h0M62 62h0M90 57h0M157 58h0M44 68h0M63 68h0M73 64h0M99 64h0M131 64h0M173 66h0M95 76h0M137 76h0M22 84h0M55 84h0M90 82h0M96 84h0M141 86h0M163 84h0M170 85h0M11 89h0M69 92h0M52 97h0M140 97h0M140 105h0M167 103h0M30 112h0M105 115h0M32 123h0M99 119h0M20 125h0M73 126h0M164 127h0M173 128h0M7 135h0M78 138h0M55 143h0M157 142h0M34 149h0M179 152h0M18 156h0M30 158h0M99 159h0M181 156h0M45 165h0M109 169h0M118 163h0M160 169h0M44 176h0M63 177h0M99 174h0" stroke="#535676" stroke-width="4.5"/>
<path d="M32 2h0M103 1h0M150 2h0M162 -0h0M15 7h0M40 11h0M132 10h0M144 7h0M127 18h0M141 13h0M95 23h0M146 23h0M160 20h0M171 20h0M182 25h0M179 30h0M5 36h0M65 35h0M112 40h0M135 36h0M5 55h0M35 51h0M135 54h0M166 53h0M32 63h0M53 61h0M56 64h0M91 66h0M30 73h0M107 74h0M128 73h0M9 86h0M153 83h0M62 92h0M107 90h0M160 94h0M9 95h0M72 101h0M90 96h0M116 97h0M19 105h0M50 103h0M57 106h0M69 104h0M78 105h0M82 103h0M37 116h0M137 111h0M52 124h0M85 124h0M39 127h0M37 133h0M124 136h0M135 136h0M72 141h0M178 144h0M61 152h0M152 150h0M68 157h0M-1 164h0M18 166h0M53 167h0M58 165h0M13 171h0M87 171h0" stroke="#535676" stroke-width="5.3"/>
<path d="M17 -1h0M50 -1h0M74 2h0M55 5h0M105 5h0M112 6h0M121 9h0M169 8h0M3 13h0M24 13h0M1 24h0M16 20h0M56 19h0M104 23h0M136 20h0M48 30h0M68 32h0M84 29h0M152 34h0M164 32h0M38 38h0M51 36h0M97 40h0M146 40h0M152 39h0M174 37h0M-1 42h0M36 42h0M159 48h0M168 46h0M54 56h0M82 52h0M131 62h0M145 61h0M170 58h0M5 64h0M35 68h0M153 68h0M166 65h0M11 74h0M17 77h0M27 73h0M58 73h0M67 72h0M145 77h0M147 76h0M35 83h0M49 80h0M113 81h0M123 81h0M128 82h0M34 90h0M95 91h0M101 92h0M39 98h0M97 99h0M148 101h0M10 104h0M45 102h0M103 102h0M128 104h0M154 107h0M175 105h0M22 111h0M46 113h0M56 112h0M71 111h0M95 113h0M130 114h0M152 115h0M0 122h0M10 121h0M16 119h0M14 131h0M180 128h0M-1 139h0M18 134h0M167 137h0M24 145h0M64 142h0M125 141h0M166 144h0M53 154h0M99 151h0M105 157h0M155 157h0M173 161h0M22 166h0M143 167h0M170 165h0M177 164h0M3 172h0M106 176h0" stroke="#535676" stroke-width="6.2"/>
<path d="M24 7h0M69 7h0M164 7h0M67 12h0M92 12h0M31 24h0M37 23h0M102 28h0M141 27h0M45 39h0M177 40h0M125 49h0M143 45h0M175 47h0M27 50h0M101 50h0M145 53h0M97 64h0M126 59h0M148 62h0M22 67h0M29 66h0M3 78h0M74 76h0M170 77h0M178 79h0M60 81h0M106 81h0M28 99h0M104 100h0M128 95h0M156 98h0M173 100h0M117 106h0M135 104h0M23 119h0M45 123h0M66 119h0M143 117h0M167 120h0M177 121h0M5 126h0M52 125h0M60 125h0M102 137h0M26 146h0M43 142h0M136 145h0M11 147h0M160 149h0M36 159h0M54 162h0M91 159h0M114 156h0M70 171h0M135 173h0" stroke="#656886" stroke-width="4.5"/>
<path d="M-2 0h0M61 -1h0M44 11h0M78 8h0M10 18h0M154 13h0M170 18h0M114 22h0M131 24h0M19 30h0M91 29h0M118 27h0M123 30h0M89 45h0M136 48h0M130 52h0M82 60h0M53 78h0M84 72h0M97 78h0M114 78h0M178 82h0M-3 89h0M15 88h0M41 87h0M87 92h0M127 90h0M171 90h0M124 95h0M31 107h0M5 114h0M14 113h0M86 116h0M164 111h0M173 114h0M58 122h0M73 123h0M118 122h0M157 123h0M148 127h0M39 136h0M59 135h0M150 133h0M13 147h0M168 141h0M-2 150h0M43 148h0M64 147h0M166 153h0M5 161h0M15 155h0M33 167h0M126 164h0M20 177h0M28 172h0M181 173h0" stroke="#656886" stroke-width="5.3"/>
<path d="M8 -0h0M145 -1h0M64 7h0M89 7h0M138 7h0M132 17h0M46 24h0M91 19h0M119 20h0M60 30h0M136 31h0M158 33h0M164 39h0M20 47h0M118 44h0M149 43h0M158 51h0M179 53h0M2 60h0M78 57h0M11 69h0M116 66h0M139 71h0M149 69h0M177 66h0M157 77h0M2 82h0M31 81h0M70 83h0M147 83h0M24 91h0M176 88h0M4 99h0M45 99h0M164 95h0M-3 109h0M28 102h0M92 108h0M110 106h0M162 104h0M64 112h0M122 112h0M149 112h0M106 119h0M49 126h0M25 136h0M53 134h0M176 136h0M2 146h0M83 145h0M106 146h0M17 150h0M72 149h0M112 152h0M64 156h0M160 160h0M68 168h0M131 166h0M148 168h0M38 171h0M130 170h0M154 173h0M166 173h0M169 176h0" stroke="#656886" stroke-width="6.2"/>
<path d="M91 11h0" stroke="#5a3018" stroke-width="7"/>
</g>
</g></g>
<rect x="582.3" y="2271.5" width="169.6" height="168.8" fill="none" stroke="#4a4a4a" stroke-width="0.8"/>
<line x1="713.3" y1="2431.4" x2="746" y2="2431.4" stroke="#111" stroke-width="1.5" stroke-linecap="butt"/>
<defs><filter id="n24" x="0" y="0" width="1" height="1" color-interpolation-filters="sRGB"><feTurbulence type="fractalNoise" baseFrequency="0.07" numOctaves="4" seed="51"/><feColorMatrix type="matrix" values="0.45 0.03 0 0 0.39 0.45 0.02 0 0 0.37 0.45 0 0 0 0.36 0 0 0 0 1"/></filter><filter id="d24" x="0" y="0" width="1" height="1" color-interpolation-filters="sRGB"><feTurbulence type="fractalNoise" baseFrequency="0.11" numOctaves="2" seed="101" result="t"/><feDisplacementMap in="SourceGraphic" in2="t" scale="4" xChannelSelector="R" yChannelSelector="G"/><feGaussianBlur stdDeviation="1.1"/></filter><clipPath id="c24"><rect width="169.2" height="168.8"/></clipPath></defs>
<g transform="translate(763.4 2271.5)"><g clip-path="url(#c24)">
<rect width="169.2" height="168.8" fill="#a09c96"/>
<rect width="169.2" height="168.8" filter="url(#n24)"/>
<g fill="none" stroke-linecap="round" filter="url(#d24)">
<path d="M21 -0h0M98 2h0M13 9h0M37 8h0M91 6h0M112 7h0M136 4h0M146 6h0M45 17h0M52 11h0M80 16h0M118 14h0M132 11h0M161 15h0M33 22h0M170 23h0M1 30h0M47 31h0M110 27h0M140 26h0M15 35h0M31 34h0M63 45h0M122 53h0M55 60h0M82 58h0M164 66h0M171 64h0M-3 73h0M98 72h0M104 70h0M148 74h0M73 76h0M132 80h0M57 86h0M74 87h0M160 87h0M10 92h0M30 95h0M117 94h0M148 89h0M168 96h0M26 99h0M30 96h0M140 98h0M167 103h0M44 109h0M78 106h0M89 106h0M126 109h0M41 114h0M2 124h0M25 131h0M55 127h0M89 126h0M92 130h0M171 128h0M22 134h0M74 133h0M105 134h0M178 134h0M-1 142h0M39 142h0M95 145h0M108 142h0M60 149h0M125 146h0M148 152h0M56 159h0M132 154h0M2 166h0M9 164h0M52 161h0M69 164h0M115 166h0M139 161h0M144 166h0M153 161h0M1 173h0M16 172h0M79 174h0M127 168h0M132 173h0M163 173h0M174 169h0" stroke="#4e4e5a" stroke-width="4.3"/>
<path d="M118 0h0M148 3h0M159 3h0M176 2h0M18 8h0M100 10h0M66 12h0M130 13h0M141 16h0M2 20h0M10 20h0M92 22h0M121 23h0M177 19h0M15 26h0M42 29h0M68 28h0M94 25h0M106 26h0M49 35h0M80 39h0M98 37h0M6 42h0M14 44h0M47 42h0M56 45h0M116 44h0M1 47h0M57 48h0M65 52h0M76 50h0M161 51h0M170 51h0M101 54h0M113 60h0M125 56h0M175 54h0M14 67h0M26 63h0M89 63h0M176 66h0M84 72h0M112 68h0M4 79h0M61 80h0M137 76h0M165 77h0M3 82h0M133 83h0M62 91h0M91 94h0M154 94h0M159 96h0M37 98h0M4 109h0M26 108h0M60 106h0M69 108h0M98 107h0M141 105h0M160 104h0M-0 117h0M29 115h0M92 114h0M105 117h0M112 112h0M156 113h0M164 113h0M27 118h0M35 123h0M41 123h0M70 123h0M105 118h0M122 121h0M132 121h0M139 123h0M164 121h0M177 123h0M9 131h0M13 128h0M127 130h0M134 130h0M30 138h0M39 138h0M157 137h0M74 143h0M81 142h0M101 141h0M163 142h0M175 143h0M7 149h0M88 148h0M112 151h0M71 155h0M105 156h0M119 159h0M161 154h0M169 155h0M177 160h0M28 162h0M129 163h0M63 171h0M70 174h0M119 174h0" stroke="#4e4e5a" stroke-width="5.1"/>
<path d="M45 1h0M45 5h0M53 10h0M74 7h0M163 6h0M169 10h0M33 12h0M89 14h0M96 14h0M153 17h0M174 16h0M27 20h0M114 20h0M26 30h0M127 28h0M134 26h0M152 30h0M171 30h0M1 38h0M34 38h0M78 34h0M112 33h0M176 37h0M21 44h0M81 46h0M85 44h0M108 40h0M26 52h0M2 60h0M92 60h0M161 59h0M166 59h0M54 63h0M81 64h0M109 65h0M126 66h0M133 64h0M141 63h0M16 70h0M72 72h0M121 70h0M138 70h0M157 69h0M168 72h0M41 78h0M123 78h0M149 77h0M15 85h0M102 83h0M139 88h0M148 83h0M165 87h0M174 84h0M39 92h0M110 91h0M46 99h0M52 100h0M73 97h0M89 99h0M137 102h0M155 98h0M12 108h0M37 104h0M129 109h0M148 109h0M173 108h0M14 114h0M73 115h0M118 112h0M129 111h0M134 117h0M173 112h0M10 118h0M75 118h0M153 121h0M3 125h0M51 127h0M143 125h0M157 130h0M69 137h0M114 135h0M149 133h0M34 144h0M47 141h0M58 142h0M116 144h0M132 139h0M144 141h0M152 144h0M157 145h0M70 148h0M130 148h0M179 151h0M10 156h0M86 154h0M145 155h0M153 155h0M18 162h0M33 163h0M97 161h0M9 171h0M33 168h0M50 172h0M97 172h0M144 168h0M161 173h0" stroke="#4e4e5a" stroke-width="6.0"/>
<path d="M1 0h0M69 4h0M85 5h0M125 5h0M129 4h0M24 15h0M22 19h0M52 24h0M56 23h0M77 20h0M107 19h0M6 27h0M31 29h0M88 27h0M45 35h0M64 33h0M93 38h0M147 34h0M153 37h0M125 43h0M139 41h0M150 43h0M174 43h0M43 51h0M91 48h0M134 51h0M33 56h0M64 60h0M142 59h0M22 62h0M69 62h0M99 66h0M48 70h0M173 72h0M12 77h0M51 80h0M155 76h0M169 77h0M90 84h0M22 90h0M54 90h0M132 91h0M138 91h0M181 93h0M-0 103h0M94 100h0M108 100h0M116 100h0M172 102h0M17 107h0M60 121h0M145 123h0M100 127h0M108 129h0M150 129h0M12 135h0M92 138h0M123 138h0M136 133h0M6 145h0M50 151h0M108 149h0M172 146h0M1 155h0M47 159h0M120 161h0M175 164h0M21 173h0M54 171h0M103 171h0" stroke="#62626c" stroke-width="4.3"/>
<path d="M6 3h0M15 -2h0M32 -3h0M37 3h0M56 2h0M89 2h0M101 0h0M111 -1h0M127 1h0M175 5h0M-3 13h0M14 13h0M104 13h0M167 15h0M97 18h0M145 21h0M156 19h0M55 26h0M20 33h0M136 40h0M161 43h0M136 50h0M145 52h0M175 48h0M9 57h0M23 60h0M73 54h0M153 54h0M36 67h0M61 67h0M114 66h0M151 64h0M53 70h0M77 71h0M66 77h0M91 80h0M175 77h0M76 83h0M113 86h0M125 84h0M50 104h0M118 106h0M177 105h0M23 113h0M66 111h0M143 114h0M153 113h0M17 119h0M90 121h0M99 123h0M41 134h0M62 134h0M164 136h0M171 133h0M16 144h0M88 144h0M35 149h0M138 151h0M164 147h0M13 156h0M29 154h0M42 159h0M78 158h0M114 154h0M164 163h0M88 168h0M149 170h0" stroke="#62626c" stroke-width="5.1"/>
<path d="M74 1h0M82 -3h0M3 7h0M8 12h0M108 17h0M42 21h0M64 24h0M85 24h0M129 23h0M136 23h0M165 22h0M61 28h0M82 30h0M156 28h0M106 37h0M162 35h0M1 43h0M98 43h0M165 45h0M13 48h0M38 52h0M50 47h0M80 53h0M104 51h0M113 53h0M13 54h0M43 59h0M89 59h0M119 57h0M135 56h0M6 66h0M77 65h0M63 72h0M126 69h0M100 80h0M109 81h0M118 80h0M8 83h0M39 84h0M92 86h0M6 100h0M18 100h0M65 99h0M82 103h0M129 99h0M149 102h0M157 110h0M9 116h0M46 113h0M114 121h0M173 122h0M62 125h0M73 126h0M81 131h0M118 128h0M166 126h0M5 133h0M49 137h0M81 132h0M61 145h0M43 152h0M152 152h0M26 158h0M47 162h0M60 163h0M74 165h0" stroke="#62626c" stroke-width="6.0"/>
<path d="M165 38h0" stroke="#5a3018" stroke-width="6"/>
<path d="M40 70h0" stroke="#5a3018" stroke-width="5.5"/>
</g>
</g></g>
<rect x="763.4" y="2271.5" width="169.2" height="168.8" fill="none" stroke="#4a4a4a" stroke-width="0.8"/>
<line x1="894" y1="2431.4" x2="926.7" y2="2431.4" stroke="#111" stroke-width="1.5" stroke-linecap="butt"/>
<text x="452.3" y="1713" font-size="26.47" textLength="84.5" lengthAdjust="spacingAndGlyphs">Control</text>
<text x="642.6" y="1713" font-size="26.47" textLength="73.4" lengthAdjust="spacingAndGlyphs">SAHA</text>
<text x="808.5" y="1713" font-size="26.47" textLength="90.1" lengthAdjust="spacingAndGlyphs">DDI199</text>
<text x="389" y="1838.1" font-size="26.47" text-anchor="middle" transform="rotate(-90 389 1838.1)" textLength="111.4" lengthAdjust="spacingAndGlyphs">Acetyl H3</text>
<text x="389" y="2001.4" font-size="26.47" text-anchor="middle" transform="rotate(-90 389 2001.4)" textLength="141" lengthAdjust="spacingAndGlyphs">Ac α-tubulin</text>
<text x="389" y="2185" font-size="26.47" text-anchor="middle" transform="rotate(-90 389 2185)" textLength="70.5" lengthAdjust="spacingAndGlyphs">PCNA</text>
<text x="389" y="2368.7" font-size="26.47" text-anchor="middle" transform="rotate(-90 389 2368.7)" textLength="122.5" lengthAdjust="spacingAndGlyphs">Caspase-3</text>
<rect x="1131.9" y="1862.9" width="41.4" height="79.1" fill="#808080"/>
<polyline points="1131.9,1942 1131.9,1862.9 1173.3,1862.9 1173.3,1942" fill="none" stroke="#000" stroke-width="1.7" stroke-linejoin="miter" stroke-linecap="butt"/>
<rect x="1131.9" y="1964.1" width="41.4" height="59" fill="#808080"/>
<line x1="1131.9" y1="1964.1" x2="1131.9" y2="2023.1" stroke="#000" stroke-width="1.7" stroke-linecap="butt"/>
<line x1="1173.3" y1="1964.1" x2="1173.3" y2="2023.1" stroke="#000" stroke-width="1.7" stroke-linecap="butt"/>
<rect x="1193.8" y="1853.4" width="41.8" height="88.6" fill="#0A7F98"/>
<polyline points="1193.8,1942 1193.8,1853.4 1235.6,1853.4 1235.6,1942" fill="none" stroke="#000" stroke-width="1.7" stroke-linejoin="miter" stroke-linecap="butt"/>
<rect x="1193.8" y="1964.1" width="41.8" height="59" fill="#0A7F98"/>
<line x1="1193.8" y1="1964.1" x2="1193.8" y2="2023.1" stroke="#000" stroke-width="1.7" stroke-linecap="butt"/>
<line x1="1235.6" y1="1964.1" x2="1235.6" y2="2023.1" stroke="#000" stroke-width="1.7" stroke-linecap="butt"/>
<rect x="1256.5" y="1819.4" width="42.2" height="122.6" fill="#FF8000"/>
<polyline points="1256.5,1942 1256.5,1819.4 1298.7,1819.4 1298.7,1942" fill="none" stroke="#000" stroke-width="1.7" stroke-linejoin="miter" stroke-linecap="butt"/>
<rect x="1256.5" y="1964.1" width="42.2" height="59" fill="#FF8000"/>
<line x1="1256.5" y1="1964.1" x2="1256.5" y2="2023.1" stroke="#000" stroke-width="1.7" stroke-linecap="butt"/>
<line x1="1298.7" y1="1964.1" x2="1298.7" y2="2023.1" stroke="#000" stroke-width="1.7" stroke-linecap="butt"/>
<line x1="1110.2" y1="1704.85" x2="1110.2" y2="1942" stroke="#000" stroke-width="2.9" stroke-linecap="butt"/>
<line x1="1110.2" y1="1964.1" x2="1110.2" y2="2024.55" stroke="#000" stroke-width="2.9" stroke-linecap="butt"/>
<line x1="1101.6" y1="1934.8" x2="1118.8" y2="1950.8" stroke="#000" stroke-width="3" stroke-linecap="butt"/>
<line x1="1101.6" y1="1955.5" x2="1118.8" y2="1971.5" stroke="#000" stroke-width="3" stroke-linecap="butt"/>
<line x1="1097.7" y1="2023.1" x2="1321.2" y2="2023.1" stroke="#000" stroke-width="2.9" stroke-linecap="butt"/>
<line x1="1098.2" y1="1746.5" x2="1110.2" y2="1746.5" stroke="#000" stroke-width="2.9" stroke-linecap="butt"/>
<text x="1095.7" y="1754.7" font-size="20.19" text-anchor="end" font-weight="bold" textLength="21.8" lengthAdjust="spacingAndGlyphs">90</text>
<line x1="1098.2" y1="1824.3" x2="1110.2" y2="1824.3" stroke="#000" stroke-width="2.9" stroke-linecap="butt"/>
<text x="1095.7" y="1832.5" font-size="20.19" text-anchor="end" font-weight="bold" textLength="21.8" lengthAdjust="spacingAndGlyphs">80</text>
<line x1="1098.2" y1="1902.2" x2="1110.2" y2="1902.2" stroke="#000" stroke-width="2.9" stroke-linecap="butt"/>
<text x="1095.7" y="1910.4" font-size="20.19" text-anchor="end" font-weight="bold" textLength="21.8" lengthAdjust="spacingAndGlyphs">70</text>
<text x="1095.7" y="1973.9" font-size="20.19" text-anchor="end" font-weight="bold" textLength="21.8" lengthAdjust="spacingAndGlyphs">10</text>
<line x1="1098.2" y1="1994" x2="1110.2" y2="1994" stroke="#000" stroke-width="2.9" stroke-linecap="butt"/>
<text x="1095.7" y="2002.2" font-size="20.19" text-anchor="end" font-weight="bold" textLength="10.9" lengthAdjust="spacingAndGlyphs">5</text>
<line x1="1098.2" y1="2023.1" x2="1110.2" y2="2023.1" stroke="#000" stroke-width="2.9" stroke-linecap="butt"/>
<text x="1095.7" y="2031.3" font-size="20.19" text-anchor="end" font-weight="bold" textLength="10.9" lengthAdjust="spacingAndGlyphs">0</text>
<line x1="1152.4" y1="1850.6" x2="1152.4" y2="1874.3" stroke="#000" stroke-width="1.5" stroke-linecap="butt"/>
<line x1="1142.4" y1="1850.6" x2="1162.4" y2="1850.6" stroke="#000" stroke-width="1.5" stroke-linecap="butt"/>
<line x1="1142.4" y1="1874.3" x2="1162.4" y2="1874.3" stroke="#000" stroke-width="1.5" stroke-linecap="butt"/>
<line x1="1214.7" y1="1840.7" x2="1214.7" y2="1864.9" stroke="#000" stroke-width="1.5" stroke-linecap="butt"/>
<line x1="1204.7" y1="1840.7" x2="1224.7" y2="1840.7" stroke="#000" stroke-width="1.5" stroke-linecap="butt"/>
<line x1="1204.7" y1="1864.9" x2="1224.7" y2="1864.9" stroke="#000" stroke-width="1.5" stroke-linecap="butt"/>
<line x1="1277.4" y1="1804.3" x2="1277.4" y2="1833.8" stroke="#000" stroke-width="1.5" stroke-linecap="butt"/>
<line x1="1267.4" y1="1804.3" x2="1287.4" y2="1804.3" stroke="#000" stroke-width="1.5" stroke-linecap="butt"/>
<line x1="1267.4" y1="1833.8" x2="1287.4" y2="1833.8" stroke="#000" stroke-width="1.5" stroke-linecap="butt"/>
<circle cx="1152.38" cy="1818.61" r="4.9" fill="#000"/>
<circle cx="1142.95" cy="1851.39" r="4.9" fill="#000"/>
<circle cx="1161.8" cy="1851.39" r="4.9" fill="#000"/>
<circle cx="1152.38" cy="1863.69" r="4.9" fill="#000"/>
<circle cx="1142.95" cy="1894.84" r="4.9" fill="#000"/>
<circle cx="1161.8" cy="1893.61" r="4.9" fill="#000"/>
<circle cx="1214.67" cy="1819.43" r="4.9" fill="#000"/>
<circle cx="1199.1" cy="1847.7" r="4.9" fill="#000"/>
<circle cx="1214.67" cy="1850.57" r="4.9" fill="#000"/>
<circle cx="1230.66" cy="1850.57" r="4.9" fill="#000"/>
<circle cx="1214.67" cy="1896.48" r="4.9" fill="#000"/>
<circle cx="1277.38" cy="1754.26" r="4.9" fill="#000"/>
<circle cx="1267.95" cy="1810.82" r="4.9" fill="#000"/>
<circle cx="1286.39" cy="1813.69" r="4.9" fill="#000"/>
<circle cx="1267.95" cy="1838.28" r="4.9" fill="#000"/>
<circle cx="1286.39" cy="1844.43" r="4.9" fill="#000"/>
<circle cx="1277.38" cy="1854.67" r="4.9" fill="#000"/>
<polyline points="1159.3,1727.9 1159.3,1719.4 1274.1,1719.4 1274.1,1727.9" fill="none" stroke="#000" stroke-width="1.4" stroke-linejoin="miter" stroke-linecap="butt"/>
<text x="1215.9" y="1717.5" font-size="24.72" text-anchor="middle" font-weight="bold" textLength="9.34" lengthAdjust="spacingAndGlyphs">*</text>
<text x="1061" y="1883.8" font-size="22.66" text-anchor="middle" transform="rotate(-90 1061 1883.8)" textLength="204" lengthAdjust="spacingAndGlyphs">Acetyl H3<tspan font-size="11.5" dy="-7.5">+</tspan><tspan dy="7.5"> cells (%)</tspan></text>
<text x="1092.1" y="2054.3" font-size="23.07" textLength="72.2" lengthAdjust="spacingAndGlyphs">Control</text>
<text x="1177" y="2054.3" font-size="23.07" textLength="60.2" lengthAdjust="spacingAndGlyphs">SAHA</text>
<text x="1250.7" y="2054.3" font-size="23.07" textLength="74.6" lengthAdjust="spacingAndGlyphs">DDI199</text>
<rect x="1478.6" y="1822.7" width="42.6" height="79.9" fill="#808080"/>
<polyline points="1478.6,1902.6 1478.6,1822.7 1521.2,1822.7 1521.2,1902.6" fill="none" stroke="#000" stroke-width="1.7" stroke-linejoin="miter" stroke-linecap="butt"/>
<rect x="1478.6" y="1925.6" width="42.6" height="93.8" fill="#808080"/>
<line x1="1478.6" y1="1925.6" x2="1478.6" y2="2019.4" stroke="#000" stroke-width="1.7" stroke-linecap="butt"/>
<line x1="1521.2" y1="1925.6" x2="1521.2" y2="2019.4" stroke="#000" stroke-width="1.7" stroke-linecap="butt"/>
<rect x="1543.8" y="1793.6" width="42.6" height="109" fill="#0A7F98"/>
<polyline points="1543.8,1902.6 1543.8,1793.6 1586.4,1793.6 1586.4,1902.6" fill="none" stroke="#000" stroke-width="1.7" stroke-linejoin="miter" stroke-linecap="butt"/>
<rect x="1543.8" y="1925.6" width="42.6" height="93.8" fill="#0A7F98"/>
<line x1="1543.8" y1="1925.6" x2="1543.8" y2="2019.4" stroke="#000" stroke-width="1.7" stroke-linecap="butt"/>
<line x1="1586.4" y1="1925.6" x2="1586.4" y2="2019.4" stroke="#000" stroke-width="1.7" stroke-linecap="butt"/>
<rect x="1608.9" y="1775.2" width="42.7" height="127.4" fill="#FF8000"/>
<polyline points="1608.9,1902.6 1608.9,1775.2 1651.6,1775.2 1651.6,1902.6" fill="none" stroke="#000" stroke-width="1.7" stroke-linejoin="miter" stroke-linecap="butt"/>
<rect x="1608.9" y="1925.6" width="42.7" height="93.8" fill="#FF8000"/>
<line x1="1608.9" y1="1925.6" x2="1608.9" y2="2019.4" stroke="#000" stroke-width="1.7" stroke-linecap="butt"/>
<line x1="1651.6" y1="1925.6" x2="1651.6" y2="2019.4" stroke="#000" stroke-width="1.7" stroke-linecap="butt"/>
<line x1="1456.9" y1="1719.25" x2="1456.9" y2="1902.6" stroke="#000" stroke-width="2.9" stroke-linecap="butt"/>
<line x1="1456.9" y1="1925.6" x2="1456.9" y2="2020.85" stroke="#000" stroke-width="2.9" stroke-linecap="butt"/>
<line x1="1448.3" y1="1895.4" x2="1465.5" y2="1911.4" stroke="#000" stroke-width="3" stroke-linecap="butt"/>
<line x1="1448.3" y1="1917" x2="1465.5" y2="1933" stroke="#000" stroke-width="3" stroke-linecap="butt"/>
<line x1="1441.9" y1="2019.4" x2="1674.5" y2="2019.4" stroke="#000" stroke-width="2.9" stroke-linecap="butt"/>
<line x1="1442.4" y1="1720.7" x2="1456.9" y2="1720.7" stroke="#000" stroke-width="2.9" stroke-linecap="butt"/>
<text x="1439.4" y="1728.9" font-size="20.19" text-anchor="end" font-weight="bold" textLength="38.15" lengthAdjust="spacingAndGlyphs">0.30</text>
<line x1="1442.4" y1="1811.6" x2="1456.9" y2="1811.6" stroke="#000" stroke-width="2.9" stroke-linecap="butt"/>
<text x="1439.4" y="1819.8" font-size="20.19" text-anchor="end" font-weight="bold" textLength="38.15" lengthAdjust="spacingAndGlyphs">0.25</text>
<text x="1439.4" y="1912.7" font-size="20.19" text-anchor="end" font-weight="bold" textLength="38.15" lengthAdjust="spacingAndGlyphs">0.20</text>
<text x="1439.4" y="1937.7" font-size="20.19" text-anchor="end" font-weight="bold" textLength="38.15" lengthAdjust="spacingAndGlyphs">0.10</text>
<line x1="1442.4" y1="1972.3" x2="1456.9" y2="1972.3" stroke="#000" stroke-width="2.9" stroke-linecap="butt"/>
<text x="1439.4" y="1980.5" font-size="20.19" text-anchor="end" font-weight="bold" textLength="38.15" lengthAdjust="spacingAndGlyphs">0.05</text>
<line x1="1442.4" y1="2019.4" x2="1456.9" y2="2019.4" stroke="#000" stroke-width="2.9" stroke-linecap="butt"/>
<text x="1439.4" y="2027.6" font-size="20.19" text-anchor="end" font-weight="bold" textLength="10.9" lengthAdjust="spacingAndGlyphs">0</text>
<line x1="1499.9" y1="1812.9" x2="1499.9" y2="1832.5" stroke="#000" stroke-width="1.5" stroke-linecap="butt"/>
<line x1="1489.9" y1="1812.9" x2="1509.9" y2="1812.9" stroke="#000" stroke-width="1.5" stroke-linecap="butt"/>
<line x1="1489.9" y1="1832.5" x2="1509.9" y2="1832.5" stroke="#000" stroke-width="1.5" stroke-linecap="butt"/>
<line x1="1565.1" y1="1785" x2="1565.1" y2="1800.6" stroke="#000" stroke-width="1.5" stroke-linecap="butt"/>
<line x1="1555.1" y1="1785" x2="1575.1" y2="1785" stroke="#000" stroke-width="1.5" stroke-linecap="butt"/>
<line x1="1555.1" y1="1800.6" x2="1575.1" y2="1800.6" stroke="#000" stroke-width="1.5" stroke-linecap="butt"/>
<line x1="1630.2" y1="1766.6" x2="1630.2" y2="1783" stroke="#000" stroke-width="1.5" stroke-linecap="butt"/>
<line x1="1620.2" y1="1766.6" x2="1640.2" y2="1766.6" stroke="#000" stroke-width="1.5" stroke-linecap="butt"/>
<line x1="1620.2" y1="1783" x2="1640.2" y2="1783" stroke="#000" stroke-width="1.5" stroke-linecap="butt"/>
<circle cx="1499.92" cy="1793.2" r="4.9" fill="#000"/>
<circle cx="1499.92" cy="1811.64" r="4.9" fill="#000"/>
<circle cx="1490.49" cy="1829.26" r="4.9" fill="#000"/>
<circle cx="1509.75" cy="1829.26" r="4.9" fill="#000"/>
<circle cx="1499.92" cy="1848.52" r="4.9" fill="#000"/>
<circle cx="1555.66" cy="1774.75" r="4.9" fill="#000"/>
<circle cx="1574.51" cy="1774.75" r="4.9" fill="#000"/>
<circle cx="1565.08" cy="1793.2" r="4.9" fill="#000"/>
<circle cx="1555.66" cy="1811.64" r="4.9" fill="#000"/>
<circle cx="1574.51" cy="1811.64" r="4.9" fill="#000"/>
<circle cx="1620.82" cy="1757.13" r="4.9" fill="#000"/>
<circle cx="1639.67" cy="1757.13" r="4.9" fill="#000"/>
<circle cx="1630.25" cy="1775.57" r="4.9" fill="#000"/>
<circle cx="1620.82" cy="1793.2" r="4.9" fill="#000"/>
<circle cx="1639.67" cy="1793.2" r="4.9" fill="#000"/>
<polyline points="1504.4,1711.2 1504.4,1701.4 1629,1701.4 1629,1711.2" fill="none" stroke="#000" stroke-width="1.4" stroke-linejoin="miter" stroke-linecap="butt"/>
<text x="1566.3" y="1703.5" font-size="24.72" text-anchor="middle" font-weight="bold" textLength="28.02" lengthAdjust="spacingAndGlyphs">***</text>
<polyline points="1566.3,1730.5 1566.3,1721.5 1630.7,1721.5 1630.7,1730.5" fill="none" stroke="#000" stroke-width="1.4" stroke-linejoin="miter" stroke-linecap="butt"/>
<text x="1597.9" y="1719.5" font-size="11.33" text-anchor="middle" textLength="6.04" lengthAdjust="spacingAndGlyphs">≠</text>
<polyline points="1504.4,1753 1504.4,1744 1566.3,1744 1566.3,1753" fill="none" stroke="#000" stroke-width="1.4" stroke-linejoin="miter" stroke-linecap="butt"/>
<text x="1535.2" y="1746" font-size="24.72" text-anchor="middle" font-weight="bold" textLength="9.34" lengthAdjust="spacingAndGlyphs">*</text>
<text x="1372.5" y="1891.6" font-size="22.66" text-anchor="middle" transform="rotate(-90 1372.5 1891.6)" textLength="262.3" lengthAdjust="spacingAndGlyphs">acetyl <tspan font-weight="bold">α</tspan>-tubulin (intensity)</text>
<text x="1436" y="2054.3" font-size="23.07" textLength="73.8" lengthAdjust="spacingAndGlyphs">Control</text>
<text x="1520.8" y="2054.3" font-size="23.07" textLength="60.7" lengthAdjust="spacingAndGlyphs">SAHA</text>
<text x="1594.6" y="2054.3" font-size="23.07" textLength="75.8" lengthAdjust="spacingAndGlyphs">DDI199</text>
<rect x="1133.9" y="2226.7" width="41.8" height="120.1" fill="#808080"/>
<polyline points="1133.9,2346.8 1133.9,2226.7 1175.7,2226.7 1175.7,2346.8" fill="none" stroke="#000" stroke-width="1.7" stroke-linejoin="miter" stroke-linecap="butt"/>
<rect x="1133.9" y="2369.3" width="41.8" height="58.2" fill="#808080"/>
<line x1="1133.9" y1="2369.3" x2="1133.9" y2="2427.5" stroke="#000" stroke-width="1.7" stroke-linecap="butt"/>
<line x1="1175.7" y1="2369.3" x2="1175.7" y2="2427.5" stroke="#000" stroke-width="1.7" stroke-linecap="butt"/>
<rect x="1196.6" y="2230.8" width="41.4" height="116" fill="#0A7F98"/>
<polyline points="1196.6,2346.8 1196.6,2230.8 1238,2230.8 1238,2346.8" fill="none" stroke="#000" stroke-width="1.7" stroke-linejoin="miter" stroke-linecap="butt"/>
<rect x="1196.6" y="2369.3" width="41.4" height="58.2" fill="#0A7F98"/>
<line x1="1196.6" y1="2369.3" x2="1196.6" y2="2427.5" stroke="#000" stroke-width="1.7" stroke-linecap="butt"/>
<line x1="1238" y1="2369.3" x2="1238" y2="2427.5" stroke="#000" stroke-width="1.7" stroke-linecap="butt"/>
<rect x="1259.3" y="2254.2" width="41.8" height="92.6" fill="#FF8000"/>
<polyline points="1259.3,2346.8 1259.3,2254.2 1301.1,2254.2 1301.1,2346.8" fill="none" stroke="#000" stroke-width="1.7" stroke-linejoin="miter" stroke-linecap="butt"/>
<rect x="1259.3" y="2369.3" width="41.8" height="58.2" fill="#FF8000"/>
<line x1="1259.3" y1="2369.3" x2="1259.3" y2="2427.5" stroke="#000" stroke-width="1.7" stroke-linecap="butt"/>
<line x1="1301.1" y1="2369.3" x2="1301.1" y2="2427.5" stroke="#000" stroke-width="1.7" stroke-linecap="butt"/>
<line x1="1113.9" y1="2112.15" x2="1113.9" y2="2346.8" stroke="#000" stroke-width="2.9" stroke-linecap="butt"/>
<line x1="1113.9" y1="2369.3" x2="1113.9" y2="2428.95" stroke="#000" stroke-width="2.9" stroke-linecap="butt"/>
<line x1="1105.3" y1="2339.6" x2="1122.5" y2="2355.6" stroke="#000" stroke-width="3" stroke-linecap="butt"/>
<line x1="1105.3" y1="2360.7" x2="1122.5" y2="2376.7" stroke="#000" stroke-width="3" stroke-linecap="butt"/>
<line x1="1099.9" y1="2427.5" x2="1323.3" y2="2427.5" stroke="#000" stroke-width="2.9" stroke-linecap="butt"/>
<line x1="1100.4" y1="2113.6" x2="1113.9" y2="2113.6" stroke="#000" stroke-width="2.9" stroke-linecap="butt"/>
<text x="1097.9" y="2121.8" font-size="20.19" text-anchor="end" font-weight="bold" textLength="32.7" lengthAdjust="spacingAndGlyphs">100</text>
<line x1="1100.4" y1="2172.2" x2="1113.9" y2="2172.2" stroke="#000" stroke-width="2.9" stroke-linecap="butt"/>
<text x="1097.9" y="2180.4" font-size="20.19" text-anchor="end" font-weight="bold" textLength="21.8" lengthAdjust="spacingAndGlyphs">90</text>
<line x1="1100.4" y1="2230.4" x2="1113.9" y2="2230.4" stroke="#000" stroke-width="2.9" stroke-linecap="butt"/>
<text x="1097.9" y="2238.6" font-size="20.19" text-anchor="end" font-weight="bold" textLength="21.8" lengthAdjust="spacingAndGlyphs">80</text>
<line x1="1100.4" y1="2288.6" x2="1113.9" y2="2288.6" stroke="#000" stroke-width="2.9" stroke-linecap="butt"/>
<text x="1097.9" y="2296.8" font-size="20.19" text-anchor="end" font-weight="bold" textLength="21.8" lengthAdjust="spacingAndGlyphs">70</text>
<text x="1097.9" y="2356.7" font-size="20.19" text-anchor="end" font-weight="bold" textLength="21.8" lengthAdjust="spacingAndGlyphs">60</text>
<text x="1097.9" y="2380.2" font-size="20.19" text-anchor="end" font-weight="bold" textLength="21.8" lengthAdjust="spacingAndGlyphs">10</text>
<line x1="1100.4" y1="2398.4" x2="1113.9" y2="2398.4" stroke="#000" stroke-width="2.9" stroke-linecap="butt"/>
<text x="1097.9" y="2406.6" font-size="20.19" text-anchor="end" font-weight="bold" textLength="10.9" lengthAdjust="spacingAndGlyphs">5</text>
<line x1="1100.4" y1="2427.5" x2="1113.9" y2="2427.5" stroke="#000" stroke-width="2.9" stroke-linecap="butt"/>
<text x="1097.9" y="2435.7" font-size="20.19" text-anchor="end" font-weight="bold" textLength="10.9" lengthAdjust="spacingAndGlyphs">0</text>
<line x1="1154.4" y1="2216.1" x2="1154.4" y2="2237" stroke="#000" stroke-width="1.5" stroke-linecap="butt"/>
<line x1="1144.4" y1="2216.1" x2="1164.4" y2="2216.1" stroke="#000" stroke-width="1.5" stroke-linecap="butt"/>
<line x1="1144.4" y1="2237" x2="1164.4" y2="2237" stroke="#000" stroke-width="1.5" stroke-linecap="butt"/>
<line x1="1217.1" y1="2205.8" x2="1217.1" y2="2255" stroke="#000" stroke-width="1.5" stroke-linecap="butt"/>
<line x1="1207.1" y1="2205.8" x2="1227.1" y2="2205.8" stroke="#000" stroke-width="1.5" stroke-linecap="butt"/>
<line x1="1207.1" y1="2255" x2="1227.1" y2="2255" stroke="#000" stroke-width="1.5" stroke-linecap="butt"/>
<line x1="1280.2" y1="2250.5" x2="1280.2" y2="2257" stroke="#000" stroke-width="1.5" stroke-linecap="butt"/>
<line x1="1270.2" y1="2250.5" x2="1290.2" y2="2250.5" stroke="#000" stroke-width="1.5" stroke-linecap="butt"/>
<line x1="1270.2" y1="2257" x2="1290.2" y2="2257" stroke="#000" stroke-width="1.5" stroke-linecap="butt"/>
<circle cx="1154.43" cy="2196.8" r="4.9" fill="#000"/>
<circle cx="1154.43" cy="2209.1" r="4.9" fill="#000"/>
<circle cx="1145" cy="2237.79" r="4.9" fill="#000"/>
<circle cx="1163.44" cy="2237.79" r="4.9" fill="#000"/>
<circle cx="1154.43" cy="2248.03" r="4.9" fill="#000"/>
<circle cx="1217.13" cy="2178.36" r="4.9" fill="#000"/>
<circle cx="1217.13" cy="2202.13" r="4.9" fill="#000"/>
<circle cx="1217.13" cy="2253.36" r="4.9" fill="#000"/>
<circle cx="1217.13" cy="2288.2" r="4.9" fill="#000"/>
<circle cx="1280.25" cy="2249.26" r="4.9" fill="#000"/>
<circle cx="1296.23" cy="2248.03" r="4.9" fill="#000"/>
<circle cx="1264.26" cy="2259.1" r="4.9" fill="#000"/>
<circle cx="1296.23" cy="2257.05" r="4.9" fill="#000"/>
<polyline points="1159.3,2164.8 1159.3,2155.8 1274.1,2155.8 1274.1,2164.8" fill="none" stroke="#000" stroke-width="1.4" stroke-linejoin="miter" stroke-linecap="butt"/>
<text x="1217.1" y="2146" font-size="19.57" text-anchor="middle" textLength="10.43" lengthAdjust="spacingAndGlyphs">≠</text>
<text x="1047.9" y="2247.4" font-size="22.66" text-anchor="middle" transform="rotate(-90 1047.9 2247.4)" textLength="166.8" lengthAdjust="spacingAndGlyphs">PCNA<tspan font-size="11.5" dy="-7.5">+</tspan><tspan dy="7.5"> cells (%)</tspan></text>
<text x="1093" y="2464" font-size="23.07" textLength="72.5" lengthAdjust="spacingAndGlyphs">Control</text>
<text x="1175.7" y="2464" font-size="23.07" textLength="60.3" lengthAdjust="spacingAndGlyphs">SAHA</text>
<text x="1248.7" y="2464" font-size="23.07" textLength="76.6" lengthAdjust="spacingAndGlyphs">DDI199</text>
<rect x="1476.6" y="2323" width="42.2" height="121.3" fill="#808080" stroke="#000" stroke-width="1.7"/>
<rect x="1540.1" y="2324.7" width="41.8" height="119.6" fill="#0A7F98" stroke="#000" stroke-width="1.7"/>
<rect x="1603.6" y="2252.5" width="41.8" height="191.8" fill="#FF8000" stroke="#000" stroke-width="1.7"/>
<line x1="1455.2" y1="2129.35" x2="1455.2" y2="2445.75" stroke="#000" stroke-width="2.9" stroke-linecap="butt"/>
<line x1="1441.7" y1="2444.3" x2="1668" y2="2444.3" stroke="#000" stroke-width="2.9" stroke-linecap="butt"/>
<line x1="1442.2" y1="2130.8" x2="1455.2" y2="2130.8" stroke="#000" stroke-width="2.9" stroke-linecap="butt"/>
<text x="1439.2" y="2139" font-size="20.19" text-anchor="end" font-weight="bold" textLength="27.25" lengthAdjust="spacingAndGlyphs">0.8</text>
<line x1="1442.2" y1="2209.5" x2="1455.2" y2="2209.5" stroke="#000" stroke-width="2.9" stroke-linecap="butt"/>
<text x="1439.2" y="2217.7" font-size="20.19" text-anchor="end" font-weight="bold" textLength="27.25" lengthAdjust="spacingAndGlyphs">0.6</text>
<line x1="1442.2" y1="2288.2" x2="1455.2" y2="2288.2" stroke="#000" stroke-width="2.9" stroke-linecap="butt"/>
<text x="1439.2" y="2296.4" font-size="20.19" text-anchor="end" font-weight="bold" textLength="27.25" lengthAdjust="spacingAndGlyphs">0.4</text>
<line x1="1442.2" y1="2366.5" x2="1455.2" y2="2366.5" stroke="#000" stroke-width="2.9" stroke-linecap="butt"/>
<text x="1439.2" y="2374.7" font-size="20.19" text-anchor="end" font-weight="bold" textLength="27.25" lengthAdjust="spacingAndGlyphs">0.2</text>
<line x1="1442.2" y1="2444.3" x2="1455.2" y2="2444.3" stroke="#000" stroke-width="2.9" stroke-linecap="butt"/>
<text x="1439.2" y="2452.5" font-size="20.19" text-anchor="end" font-weight="bold" textLength="10.9" lengthAdjust="spacingAndGlyphs">0</text>
<line x1="1497.5" y1="2300.5" x2="1497.5" y2="2344.3" stroke="#000" stroke-width="1.5" stroke-linecap="butt"/>
<line x1="1487.5" y1="2300.5" x2="1507.5" y2="2300.5" stroke="#000" stroke-width="1.5" stroke-linecap="butt"/>
<line x1="1487.5" y1="2344.3" x2="1507.5" y2="2344.3" stroke="#000" stroke-width="1.5" stroke-linecap="butt"/>
<line x1="1561" y1="2303.8" x2="1561" y2="2344.8" stroke="#000" stroke-width="1.5" stroke-linecap="butt"/>
<line x1="1551" y1="2303.8" x2="1571" y2="2303.8" stroke="#000" stroke-width="1.5" stroke-linecap="butt"/>
<line x1="1551" y1="2344.8" x2="1571" y2="2344.8" stroke="#000" stroke-width="1.5" stroke-linecap="butt"/>
<line x1="1624.1" y1="2230.8" x2="1624.1" y2="2273.9" stroke="#000" stroke-width="1.5" stroke-linecap="butt"/>
<line x1="1614.1" y1="2230.8" x2="1634.1" y2="2230.8" stroke="#000" stroke-width="1.5" stroke-linecap="butt"/>
<line x1="1614.1" y1="2273.9" x2="1634.1" y2="2273.9" stroke="#000" stroke-width="1.5" stroke-linecap="butt"/>
<circle cx="1497.46" cy="2272.62" r="4.9" fill="#000"/>
<circle cx="1488.03" cy="2292.3" r="4.9" fill="#000"/>
<circle cx="1506.89" cy="2292.3" r="4.9" fill="#000"/>
<circle cx="1488.03" cy="2323.85" r="4.9" fill="#000"/>
<circle cx="1506.89" cy="2331.23" r="4.9" fill="#000"/>
<circle cx="1497.46" cy="2421.39" r="4.9" fill="#000"/>
<circle cx="1560.98" cy="2245.16" r="4.9" fill="#000"/>
<circle cx="1560.98" cy="2288.2" r="4.9" fill="#000"/>
<circle cx="1560.98" cy="2323.85" r="4.9" fill="#000"/>
<circle cx="1560.98" cy="2343.52" r="4.9" fill="#000"/>
<circle cx="1570.41" cy="2370.98" r="4.9" fill="#000"/>
<circle cx="1551.56" cy="2375.08" r="4.9" fill="#000"/>
<circle cx="1624.1" cy="2182.46" r="4.9" fill="#000"/>
<circle cx="1624.1" cy="2193.93" r="4.9" fill="#000"/>
<circle cx="1624.1" cy="2253.36" r="4.9" fill="#000"/>
<circle cx="1624.1" cy="2291.89" r="4.9" fill="#000"/>
<circle cx="1640.49" cy="2291.89" r="4.9" fill="#000"/>
<circle cx="1608.11" cy="2300.49" r="4.9" fill="#000"/>
<polyline points="1499.5,2140.2 1499.5,2130.4 1625.7,2130.4 1625.7,2140.2" fill="none" stroke="#000" stroke-width="1.4" stroke-linejoin="miter" stroke-linecap="butt"/>
<text x="1562.2" y="2131.5" font-size="24.72" text-anchor="middle" font-weight="bold" textLength="9.34" lengthAdjust="spacingAndGlyphs">*</text>
<polyline points="1565.9,2170.2 1565.9,2160.7 1625.7,2160.7 1625.7,2170.2" fill="none" stroke="#000" stroke-width="1.4" stroke-linejoin="miter" stroke-linecap="butt"/>
<text x="1595.8" y="2159.5" font-size="24.72" text-anchor="middle" font-weight="bold" textLength="9.34" lengthAdjust="spacingAndGlyphs">*</text>
<text x="1388.9" y="2282.7" font-size="22.66" text-anchor="middle" transform="rotate(-90 1388.9 2282.7)" textLength="215" lengthAdjust="spacingAndGlyphs">Caspase-3<tspan font-size="11.5" dy="-7.5">+</tspan><tspan dy="7.5"> cells (%)</tspan></text>
<text x="1438" y="2483.7" font-size="23.07" textLength="72.6" lengthAdjust="spacingAndGlyphs">Control</text>
<text x="1522" y="2483.7" font-size="23.07" textLength="60.3" lengthAdjust="spacingAndGlyphs">SAHA</text>
<text x="1594.6" y="2483.7" font-size="23.07" textLength="75.8" lengthAdjust="spacingAndGlyphs">DDI199</text>
</svg>
</body></html>
